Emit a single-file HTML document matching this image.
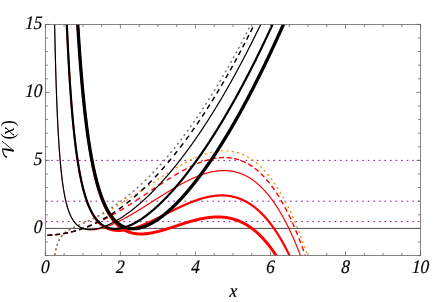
<!DOCTYPE html><html><head><meta charset="utf-8"><style>html,body{margin:0;padding:0;background:#fff}svg{display:block}text{font-family:"Liberation Serif",serif;font-style:italic;fill:#000}</style></head><body>
<svg width="445" height="302" viewBox="0 0 445 302">
<rect width="445" height="302" fill="#fff"/>
<defs><clipPath id="c"><rect x="45.35" y="24.40" width="375.25" height="231.20"/></clipPath></defs>
<g clip-path="url(#c)" fill="none">
<path d="M45.35 228.40H420.60" stroke="#000" stroke-width="0.7"/>
<path d="M45.60 221.60H420.60" stroke="#800080" stroke-width="0.9" stroke-dasharray="1.65 3.905"/>
<path d="M45.60 201.20H420.60" stroke="#800080" stroke-width="0.9" stroke-dasharray="1.65 3.905"/>
<path d="M45.60 160.40H420.60" stroke="#800080" stroke-width="0.9" stroke-dasharray="1.65 3.905"/>
<path d="M52.99 269.11 L53.02 268.78 L53.08 268.22M53.49 264.25 L53.49 264.19 L53.59 263.36M54.09 259.40 L54.09 259.40 L54.21 258.51M54.84 254.56 L54.87 254.39 L55.00 253.68M55.81 249.75 L55.84 249.64 L56.02 248.88M57.12 245.01 L57.15 244.92 L57.34 244.36 L57.41 244.16M58.96 240.44 L58.96 240.42 L59.15 240.05 L59.34 239.69 L59.37 239.64M61.57 236.24 L61.59 236.21 L61.78 235.97 L61.97 235.74 L62.14 235.54M65.07 232.69 L65.09 232.67 L65.28 232.52 L65.47 232.37 L65.65 232.23 L65.78 232.13M69.26 229.85 L69.28 229.84 L69.47 229.73 L69.66 229.62 L69.84 229.52 L70.03 229.41 L70.04 229.41M73.83 227.48 L73.85 227.48 L74.03 227.39 L74.22 227.30 L74.41 227.21 L74.60 227.12 L74.65 227.10M78.62 225.31 L78.63 225.30 L78.82 225.22 L79.01 225.14 L79.19 225.06 L79.38 224.97 L79.45 224.95M83.53 223.16 L83.54 223.16 L83.73 223.07 L83.91 222.99 L84.10 222.91 L84.29 222.83 L84.36 222.80M88.47 220.97 L88.48 220.96 L88.67 220.88 L88.86 220.79 L89.04 220.71 L89.23 220.62 L89.29 220.59M93.37 218.70 L93.39 218.69 L93.58 218.60 L93.76 218.51 L93.95 218.42 L94.14 218.33 L94.18 218.31M98.23 216.34 L98.24 216.33 L98.42 216.24 L98.61 216.14 L98.80 216.05 L98.99 215.96 L99.03 215.93M103.04 213.87 L103.05 213.87 L103.24 213.77 L103.43 213.67 L103.61 213.57 L103.80 213.47 L103.83 213.45M107.79 211.31 L107.80 211.31 L107.99 211.21 L108.18 211.10 L108.37 211.00 L108.55 210.90 L108.58 210.88M112.50 208.67 L112.52 208.65 L112.71 208.55 L112.90 208.44 L113.09 208.33 L113.27 208.22 L113.28 208.22M117.17 205.94 L117.18 205.93 L117.37 205.82 L117.56 205.70 L117.75 205.59 L117.93 205.48 L117.94 205.47M121.79 203.13 L121.81 203.12 L122.00 203.01 L122.19 202.89 L122.37 202.77 L122.56 202.66M126.38 200.27 L126.41 200.25 L126.59 200.13 L126.78 200.01 L126.97 199.89 L127.14 199.79M130.93 197.35 L130.94 197.35 L131.13 197.23 L131.32 197.10 L131.50 196.98 L131.68 196.86M135.46 194.40 L135.47 194.39 L135.66 194.26 L135.85 194.14 L136.04 194.01 L136.21 193.90M139.96 191.41 L139.98 191.40 L140.16 191.28 L140.35 191.15 L140.54 191.03 L140.71 190.91M144.46 188.40 L144.48 188.39 L144.67 188.26 L144.85 188.14 L145.04 188.01 L145.21 187.90M148.95 185.38 L148.95 185.38 L149.14 185.25 L149.33 185.13 L149.51 185.00 L149.70 184.88M153.44 182.37 L153.45 182.36 L153.64 182.23 L153.83 182.10 L154.02 181.98 L154.19 181.86M157.94 179.36 L157.96 179.35 L158.14 179.23 L158.33 179.10 L158.52 178.98 L158.69 178.86M162.46 176.38 L162.46 176.38 L162.65 176.26 L162.83 176.14 L163.02 176.02 L163.21 175.89 L163.21 175.89M167.00 173.44 L167.02 173.43 L167.21 173.31 L167.40 173.19 L167.59 173.07 L167.76 172.96M171.58 170.56 L171.59 170.56 L171.78 170.44 L171.96 170.33 L172.15 170.21 L172.34 170.10 L172.35 170.09M176.21 167.75 L176.22 167.75 L176.40 167.64 L176.59 167.53 L176.78 167.42 L176.97 167.31 L176.99 167.29M180.89 165.04 L180.91 165.03 L181.09 164.92 L181.28 164.82 L181.47 164.71 L181.66 164.61 L181.68 164.60M185.65 162.44 L185.66 162.43 L185.85 162.33 L186.03 162.23 L186.22 162.14 L186.41 162.04 L186.44 162.02M190.47 159.99 L190.50 159.97 L190.69 159.88 L190.88 159.79 L191.07 159.70 L191.26 159.61 L191.29 159.60M195.39 157.72 L195.41 157.71 L195.60 157.63 L195.79 157.55 L195.98 157.47 L196.16 157.39 L196.22 157.36M200.41 155.68 L200.42 155.67 L200.60 155.60 L200.79 155.53 L200.98 155.46 L201.17 155.39 L201.25 155.36M205.53 153.91 L205.54 153.90 L205.73 153.84 L205.92 153.79 L206.11 153.73 L206.29 153.67 L206.39 153.64M210.75 152.47 L210.77 152.47 L210.95 152.43 L211.14 152.38 L211.33 152.34 L211.52 152.30 L211.63 152.27M216.07 151.44 L216.08 151.44 L216.27 151.41 L216.46 151.39 L216.64 151.36 L216.83 151.33 L216.96 151.32M221.46 150.89 L221.49 150.89 L221.68 150.88 L221.87 150.87 L222.05 150.86 L222.24 150.85 L222.36 150.85M226.88 150.88 L226.90 150.88 L227.09 150.89 L227.27 150.90 L227.46 150.91 L227.65 150.92 L227.78 150.93M232.27 151.47 L232.28 151.47 L232.47 151.50 L232.65 151.53 L232.84 151.57 L233.03 151.60 L233.15 151.62M237.55 152.67 L237.56 152.68 L237.75 152.73 L237.94 152.79 L238.12 152.84 L238.31 152.90 L238.41 152.93M242.66 154.48 L242.69 154.50 L242.88 154.57 L243.06 154.65 L243.25 154.74 L243.44 154.82 L243.49 154.84M247.54 156.85 L247.57 156.86 L247.76 156.97 L247.94 157.07 L248.13 157.18 L248.32 157.29 L248.32 157.29M252.15 159.70 L252.16 159.71 L252.35 159.83 L252.54 159.96 L252.73 160.10 L252.89 160.21M256.49 162.95 L256.51 162.97 L256.70 163.12 L256.89 163.28 L257.07 163.44 L257.18 163.53M260.56 166.54 L260.57 166.56 L260.76 166.74 L260.95 166.92 L261.14 167.10 L261.20 167.17M264.37 170.41 L264.39 170.43 L264.58 170.63 L264.76 170.84 L264.95 171.04 L264.97 171.07M267.94 174.49 L267.95 174.50 L268.14 174.73 L268.33 174.96 L268.51 175.18M271.30 178.75 L271.33 178.79 L271.52 179.04 L271.71 179.29 L271.84 179.47M274.47 183.16 L274.49 183.18 L274.68 183.45 L274.86 183.73 L274.98 183.90M277.47 187.68 L277.49 187.72 L277.68 188.02 L277.87 188.31 L277.95 188.44M280.31 192.31 L280.34 192.36 L280.52 192.68 L280.71 193.00 L280.76 193.09M283.01 197.02 L283.02 197.05 L283.21 197.39 L283.40 197.73 L283.44 197.81M285.58 201.80 L285.59 201.82 L285.78 202.18 L285.96 202.54 L285.99 202.60M288.04 206.64 L288.06 206.69 L288.25 207.07 L288.43 207.45 L288.43 207.45M290.39 211.54 L290.40 211.56 L290.59 211.96 L290.77 212.35M292.65 216.48 L292.65 216.48 L292.84 216.90 L293.02 217.30M294.82 221.45 L294.84 221.50 L295.03 221.94 L295.18 222.28M296.92 226.46 L296.94 226.52 L297.13 226.98 L297.26 227.30M298.94 231.51 L298.94 231.51 L299.13 231.99 L299.27 232.35M300.89 236.58 L300.91 236.63 L301.10 237.13 L301.21 237.42M302.78 241.67 L302.79 241.69 L302.97 242.21 L303.09 242.52M304.61 246.78 L304.63 246.84 L304.82 247.38 L304.91 247.63M306.39 251.92 L306.41 252.00 L306.60 252.55 L306.67 252.77M308.11 257.07 L308.13 257.14 L308.32 257.71 L308.39 257.93M309.79 262.24 L309.79 262.24 L309.98 262.83 L310.06 263.10M311.42 267.42 L311.45 267.50 L311.63 268.10 L311.69 268.28" stroke="#ff8c00" stroke-width="1.35" stroke-linecap="round"/>
<path d="M47.36 235.18 L47.36 235.18 L47.55 235.18 L47.74 235.17 L47.93 235.17 L48.11 235.16 L48.30 235.16 L48.49 235.15 L48.68 235.15 L48.86 235.14 L49.05 235.13 L49.24 235.13 L49.43 235.12 L49.61 235.11 L49.80 235.10 L49.99 235.10 L50.18 235.09 L50.37 235.08 L50.55 235.07 L50.74 235.06 L50.93 235.05 L51.12 235.04 L51.30 235.03 L51.49 235.02 L51.68 235.01 L51.87 235.00 L52.05 234.98 L52.24 234.97 L52.38 234.96M55.17 234.74 L55.18 234.73 L55.37 234.72 L55.56 234.70 L55.74 234.68 L55.93 234.66 L56.12 234.64 L56.31 234.62 L56.49 234.60 L56.68 234.58 L56.87 234.56 L57.06 234.54 L57.24 234.52 L57.43 234.50 L57.62 234.47 L57.81 234.45 L57.99 234.43 L58.18 234.41 L58.37 234.38 L58.56 234.36 L58.74 234.34 L58.93 234.31 L59.12 234.29 L59.31 234.26 L59.50 234.24 L59.68 234.21 L59.87 234.19 L60.06 234.16 L60.16 234.14M63.09 233.69 L63.09 233.69 L63.28 233.66 L63.47 233.62 L63.65 233.59 L63.84 233.56 L64.03 233.52 L64.22 233.49 L64.40 233.46 L64.59 233.42 L64.78 233.39 L64.97 233.35 L65.15 233.32 L65.34 233.28 L65.53 233.25 L65.72 233.21 L65.91 233.17 L66.09 233.14 L66.28 233.10 L66.47 233.06 L66.66 233.02 L66.84 232.99 L67.03 232.95 L67.22 232.91 L67.41 232.87 L67.59 232.83 L67.78 232.79 L67.97 232.75 L68.03 232.74M71.08 232.04 L71.10 232.03 L71.28 231.99 L71.47 231.94 L71.66 231.89 L71.85 231.85 L72.03 231.80 L72.22 231.75 L72.41 231.70 L72.60 231.66 L72.78 231.61 L72.97 231.56 L73.16 231.51 L73.35 231.46 L73.53 231.41 L73.72 231.36 L73.91 231.31 L74.10 231.26 L74.28 231.21 L74.47 231.16 L74.66 231.11 L74.85 231.05 L75.04 231.00 L75.22 230.95 L75.41 230.90 L75.60 230.84 L75.79 230.79 L75.94 230.75M79.11 229.79 L79.13 229.79 L79.32 229.73 L79.51 229.67 L79.69 229.61 L79.88 229.55 L80.07 229.49 L80.26 229.43 L80.44 229.37 L80.63 229.30 L80.82 229.24 L81.01 229.18 L81.19 229.12 L81.38 229.06 L81.57 228.99 L81.76 228.93 L81.95 228.87 L82.13 228.80 L82.32 228.74 L82.51 228.67 L82.70 228.61 L82.88 228.54 L83.07 228.48 L83.26 228.41 L83.45 228.35 L83.63 228.28 L83.82 228.22 L83.88 228.20M87.14 226.99 L87.17 226.98 L87.35 226.91 L87.54 226.84 L87.73 226.77 L87.92 226.69 L88.10 226.62 L88.29 226.55 L88.48 226.47 L88.67 226.40 L88.86 226.33 L89.04 226.25 L89.23 226.18 L89.42 226.10 L89.61 226.03 L89.79 225.95 L89.98 225.88 L90.17 225.80 L90.36 225.72 L90.54 225.65 L90.73 225.57 L90.92 225.49 L91.11 225.42 L91.29 225.34 L91.48 225.26 L91.67 225.18 L91.82 225.12M95.22 223.65 L95.23 223.64 L95.42 223.56 L95.61 223.48 L95.80 223.39 L95.98 223.31 L96.17 223.22 L96.36 223.14 L96.55 223.05 L96.73 222.97 L96.92 222.88 L97.11 222.80 L97.30 222.71 L97.48 222.62 L97.67 222.54 L97.86 222.45 L98.05 222.36 L98.24 222.28 L98.42 222.19 L98.61 222.10 L98.80 222.01 L98.99 221.92 L99.17 221.83 L99.36 221.75 L99.55 221.66 L99.74 221.57 L99.80 221.54M103.34 219.80 L103.36 219.79 L103.55 219.70 L103.74 219.60 L103.93 219.51 L104.11 219.41 L104.30 219.32 L104.49 219.22 L104.68 219.12 L104.86 219.03 L105.05 218.93 L105.24 218.84 L105.43 218.74 L105.61 218.64 L105.80 218.55 L105.99 218.45 L106.18 218.35 L106.36 218.25 L106.55 218.16 L106.74 218.06 L106.93 217.96 L107.12 217.86 L107.30 217.76 L107.49 217.66 L107.68 217.56 L107.81 217.49M111.49 215.50 L111.49 215.50 L111.68 215.39 L111.87 215.29 L112.06 215.19 L112.24 215.08 L112.43 214.98 L112.62 214.87 L112.81 214.77 L112.99 214.66 L113.18 214.56 L113.37 214.45 L113.56 214.34 L113.74 214.24 L113.93 214.13 L114.12 214.03 L114.31 213.92 L114.49 213.81 L114.68 213.71 L114.87 213.60 L115.06 213.49 L115.24 213.38 L115.43 213.28 L115.62 213.17 L115.81 213.06 L115.87 213.02M119.69 210.79 L119.72 210.77 L119.90 210.66 L120.09 210.55 L120.28 210.43 L120.47 210.32 L120.65 210.21 L120.84 210.10 L121.03 209.98 L121.22 209.87 L121.40 209.76 L121.59 209.64 L121.78 209.53 L121.97 209.42 L122.15 209.30 L122.34 209.19 L122.53 209.08 L122.72 208.96 L122.91 208.85 L123.09 208.73 L123.28 208.62 L123.47 208.50 L123.66 208.39 L123.84 208.27 L123.97 208.20M127.84 205.79 L127.85 205.78 L128.03 205.67 L128.22 205.55 L128.41 205.43 L128.60 205.31 L128.78 205.19 L128.97 205.07 L129.16 204.95 L129.35 204.84 L129.53 204.72 L129.72 204.60 L129.91 204.48 L130.10 204.36 L130.28 204.24 L130.47 204.12 L130.66 204.00 L130.85 203.88 L131.03 203.76 L131.22 203.64 L131.41 203.52 L131.60 203.40 L131.79 203.28 L131.97 203.16 L132.05 203.11M135.82 200.67 L135.82 200.67 L136.01 200.54 L136.19 200.42 L136.38 200.30 L136.57 200.18 L136.76 200.05 L136.94 199.93 L137.13 199.81 L137.32 199.68 L137.51 199.56 L137.69 199.44 L137.88 199.31 L138.07 199.19 L138.26 199.07 L138.44 198.94 L138.63 198.82 L138.82 198.70 L139.01 198.57 L139.20 198.45 L139.38 198.33 L139.57 198.20 L139.76 198.08 L139.95 197.95 L139.98 197.93M143.66 195.49 L143.67 195.49 L143.85 195.36 L144.04 195.24 L144.23 195.11 L144.42 194.99 L144.60 194.86 L144.79 194.74 L144.98 194.61 L145.17 194.48 L145.35 194.36 L145.54 194.23 L145.73 194.11 L145.92 193.98 L146.11 193.86 L146.29 193.73 L146.48 193.61 L146.67 193.48 L146.86 193.36 L147.04 193.23 L147.23 193.11 L147.42 192.98 L147.61 192.86 L147.79 192.73 L147.81 192.72M151.40 190.32 L151.42 190.31 L151.61 190.18 L151.80 190.06 L151.98 189.93 L152.17 189.81 L152.36 189.68 L152.55 189.56 L152.73 189.43 L152.92 189.31 L153.11 189.18 L153.30 189.06 L153.48 188.93 L153.67 188.81 L153.86 188.68 L154.05 188.56 L154.23 188.43 L154.42 188.31 L154.61 188.18 L154.80 188.06 L154.99 187.93 L155.17 187.81 L155.36 187.68 L155.55 187.56 L155.55 187.56M159.09 185.22 L159.11 185.20 L159.30 185.08 L159.49 184.95 L159.68 184.83 L159.86 184.71 L160.05 184.58 L160.24 184.46 L160.43 184.34 L160.61 184.21 L160.80 184.09 L160.99 183.97 L161.18 183.84 L161.36 183.72 L161.55 183.60 L161.74 183.48 L161.93 183.35 L162.11 183.23 L162.30 183.11 L162.49 182.99 L162.68 182.87 L162.86 182.74 L163.05 182.62 L163.24 182.50 L163.26 182.49M166.76 180.24 L166.77 180.23 L166.96 180.11 L167.15 179.99 L167.34 179.87 L167.52 179.75 L167.71 179.63 L167.90 179.52 L168.09 179.40 L168.27 179.28 L168.46 179.16 L168.65 179.04 L168.84 178.92 L169.02 178.81 L169.21 178.69 L169.40 178.57 L169.59 178.45 L169.77 178.34 L169.96 178.22 L170.15 178.10 L170.34 177.98 L170.53 177.87 L170.71 177.75 L170.90 177.63 L170.98 177.58M174.46 175.46 L174.46 175.46 L174.65 175.34 L174.84 175.23 L175.03 175.12 L175.22 175.01 L175.40 174.89 L175.59 174.78 L175.78 174.67 L175.97 174.56 L176.15 174.45 L176.34 174.34 L176.53 174.22 L176.72 174.11 L176.90 174.00 L177.09 173.89 L177.28 173.78 L177.47 173.67 L177.65 173.56 L177.84 173.45 L178.03 173.35 L178.22 173.24 L178.40 173.13 L178.59 173.02 L178.75 172.93M182.16 171.00 L182.19 170.98 L182.38 170.88 L182.56 170.78 L182.75 170.67 L182.94 170.57 L183.13 170.47 L183.31 170.37 L183.50 170.26 L183.69 170.16 L183.88 170.06 L184.06 169.96 L184.25 169.86 L184.44 169.76 L184.63 169.66 L184.81 169.56 L185.00 169.46 L185.19 169.36 L185.38 169.26 L185.56 169.16 L185.75 169.06 L185.94 168.96 L186.13 168.86 L186.31 168.77 L186.50 168.67 L186.51 168.66M189.70 167.05 L189.72 167.04 L189.91 166.95 L190.10 166.86 L190.29 166.77 L190.47 166.68 L190.66 166.58 L190.85 166.49 L191.04 166.40 L191.22 166.31 L191.41 166.23 L191.60 166.14 L191.79 166.05 L191.97 165.96 L192.16 165.87 L192.35 165.78 L192.54 165.70 L192.72 165.61 L192.91 165.52 L193.10 165.44 L193.29 165.35 L193.48 165.27 L193.66 165.18 L193.85 165.10 L194.04 165.01 L194.16 164.96M197.08 163.70 L197.10 163.69 L197.29 163.61 L197.48 163.53 L197.66 163.46 L197.85 163.38 L198.04 163.30 L198.23 163.23 L198.42 163.15 L198.60 163.08 L198.79 163.00 L198.98 162.93 L199.17 162.85 L199.35 162.78 L199.54 162.71 L199.73 162.64 L199.92 162.56 L200.10 162.49 L200.29 162.42 L200.48 162.35 L200.67 162.28 L200.85 162.21 L201.04 162.14 L201.23 162.07 L201.42 162.00 L201.60 161.94 L201.67 161.91M204.32 161.00 L204.32 161.00 L204.51 160.94 L204.70 160.88 L204.89 160.82 L205.08 160.76 L205.26 160.70 L205.45 160.64 L205.64 160.58 L205.83 160.52 L206.01 160.47 L206.20 160.41 L206.39 160.35 L206.58 160.30 L206.76 160.24 L206.95 160.19 L207.14 160.13 L207.33 160.08 L207.51 160.03 L207.70 159.97 L207.89 159.92 L208.08 159.87 L208.26 159.82 L208.45 159.77 L208.64 159.72 L208.83 159.67 L209.01 159.62 L209.11 159.59M211.63 158.99 L211.64 158.98 L211.83 158.94 L212.02 158.90 L212.20 158.86 L212.39 158.82 L212.58 158.78 L212.77 158.74 L212.95 158.71 L213.14 158.67 L213.33 158.63 L213.52 158.60 L213.71 158.56 L213.89 158.53 L214.08 158.49 L214.27 158.46 L214.46 158.42 L214.64 158.39 L214.83 158.36 L215.02 158.33 L215.21 158.30 L215.39 158.27 L215.58 158.24 L215.77 158.21 L215.96 158.18 L216.14 158.15 L216.33 158.12 L216.52 158.10 L216.55 158.09M219.10 157.79 L219.11 157.79 L219.30 157.77 L219.49 157.75 L219.68 157.74 L219.86 157.72 L220.05 157.70 L220.24 157.69 L220.43 157.68 L220.62 157.66 L220.80 157.65 L220.99 157.64 L221.18 157.63 L221.37 157.62 L221.55 157.61 L221.74 157.60 L221.93 157.59 L222.12 157.58 L222.30 157.57 L222.49 157.57 L222.68 157.56 L222.87 157.55 L223.05 157.55 L223.24 157.55 L223.43 157.54 L223.62 157.54 L223.80 157.54 L223.99 157.54 L224.09 157.54M226.64 157.59 L226.65 157.59 L226.84 157.60 L227.02 157.61 L227.21 157.62 L227.40 157.64 L227.59 157.65 L227.78 157.66 L227.96 157.68 L228.15 157.69 L228.34 157.70 L228.53 157.72 L228.71 157.74 L228.90 157.75 L229.09 157.77 L229.28 157.79 L229.46 157.81 L229.65 157.83 L229.84 157.85 L230.03 157.88 L230.21 157.90 L230.40 157.92 L230.59 157.95 L230.78 157.97 L230.96 158.00 L231.15 158.02 L231.34 158.05 L231.53 158.08 L231.60 158.09M234.10 158.54 L234.12 158.55 L234.31 158.59 L234.50 158.63 L234.69 158.67 L234.87 158.71 L235.06 158.76 L235.25 158.80 L235.44 158.84 L235.62 158.89 L235.81 158.94 L236.00 158.98 L236.19 159.03 L236.37 159.08 L236.56 159.13 L236.75 159.18 L236.94 159.23 L237.12 159.29 L237.31 159.34 L237.50 159.39 L237.69 159.45 L237.87 159.50 L238.06 159.56 L238.25 159.62 L238.44 159.68 L238.62 159.73 L238.81 159.79 L238.92 159.83M241.29 160.67 L241.31 160.68 L241.50 160.75 L241.69 160.83 L241.88 160.90 L242.06 160.98 L242.25 161.05 L242.44 161.13 L242.63 161.21 L242.81 161.29 L243.00 161.37 L243.19 161.45 L243.38 161.53 L243.57 161.61 L243.75 161.70 L243.94 161.78 L244.13 161.87 L244.32 161.95 L244.50 162.04 L244.69 162.13 L244.88 162.22 L245.07 162.31 L245.25 162.40 L245.44 162.49 L245.63 162.59 L245.82 162.68 L245.90 162.72M248.17 163.95 L248.19 163.96 L248.38 164.06 L248.57 164.17 L248.76 164.28 L248.94 164.39 L249.13 164.50 L249.32 164.62 L249.51 164.73 L249.69 164.85 L249.88 164.96 L250.07 165.08 L250.26 165.19 L250.44 165.31 L250.63 165.43 L250.82 165.55 L251.01 165.68 L251.19 165.80 L251.38 165.92 L251.57 166.05 L251.76 166.17 L251.94 166.30 L252.13 166.43 L252.32 166.56 L252.44 166.64M254.70 168.28 L254.73 168.31 L254.92 168.45 L255.10 168.60 L255.29 168.74 L255.48 168.89 L255.67 169.04 L255.85 169.19 L256.04 169.34 L256.23 169.49 L256.42 169.64 L256.60 169.79 L256.79 169.95 L256.98 170.10 L257.17 170.26 L257.35 170.42 L257.54 170.58 L257.73 170.74 L257.92 170.90 L258.10 171.06 L258.29 171.23 L258.48 171.39 L258.59 171.49M260.79 173.52 L260.79 173.52 L260.98 173.70 L261.17 173.88 L261.36 174.06 L261.54 174.25 L261.73 174.43 L261.92 174.62 L262.11 174.81 L262.29 174.99 L262.48 175.18 L262.67 175.38 L262.86 175.57 L263.04 175.76 L263.23 175.96 L263.42 176.15 L263.61 176.35 L263.80 176.55 L263.98 176.75 L264.17 176.95 L264.32 177.11M266.43 179.46 L266.45 179.49 L266.64 179.70 L266.83 179.92 L267.02 180.14 L267.20 180.36 L267.39 180.58 L267.58 180.81 L267.77 181.03 L267.95 181.26 L268.14 181.48 L268.33 181.71 L268.52 181.94 L268.70 182.17 L268.89 182.40 L269.08 182.64 L269.27 182.87 L269.45 183.11 L269.63 183.32M271.61 185.91 L271.61 185.92 L271.80 186.17 L271.99 186.42 L272.17 186.68 L272.36 186.93 L272.55 187.19 L272.74 187.45 L272.93 187.71 L273.11 187.97 L273.30 188.24 L273.49 188.50 L273.68 188.77 L273.86 189.04 L274.05 189.30 L274.24 189.57 L274.43 189.85 L274.52 189.98M276.37 192.73 L276.40 192.78 L276.58 193.07 L276.77 193.36 L276.96 193.65 L277.15 193.94 L277.33 194.23 L277.52 194.53 L277.71 194.82 L277.90 195.12 L278.08 195.42 L278.27 195.72 L278.46 196.02 L278.65 196.32 L278.83 196.63 L279.02 196.93 L279.04 196.97M280.77 199.86 L280.77 199.86 L280.96 200.18 L281.15 200.50 L281.34 200.83 L281.52 201.15 L281.71 201.48 L281.90 201.81 L282.09 202.14 L282.27 202.47 L282.46 202.80 L282.65 203.14 L282.84 203.47 L283.02 203.81 L283.21 204.15 L283.24 204.21M284.87 207.21 L284.87 207.21 L285.06 207.57 L285.24 207.92 L285.43 208.28 L285.62 208.64 L285.81 209.00 L285.99 209.36 L286.18 209.72 L286.37 210.09 L286.56 210.46 L286.75 210.82 L286.93 211.19 L287.12 211.56 L287.17 211.66M288.70 214.76 L288.72 214.78 L288.90 215.17 L289.09 215.56 L289.28 215.95 L289.47 216.34 L289.65 216.73 L289.84 217.13 L290.03 217.52 L290.22 217.92 L290.40 218.32 L290.59 218.72 L290.78 219.12 L290.85 219.28M292.30 222.46 L292.31 222.48 L292.50 222.89 L292.69 223.31 L292.87 223.73 L293.06 224.16 L293.25 224.58 L293.44 225.01 L293.62 225.44 L293.81 225.87 L294.00 226.30 L294.19 226.73 L294.32 227.04M295.71 230.30 L295.72 230.33 L295.91 230.78 L296.09 231.23 L296.28 231.68 L296.47 232.14 L296.66 232.59 L296.84 233.05 L297.03 233.51 L297.22 233.97 L297.41 234.43 L297.59 234.90 L297.61 234.93M298.93 238.25 L298.94 238.28 L299.13 238.75 L299.31 239.23 L299.50 239.72 L299.69 240.20 L299.88 240.69 L300.07 241.18 L300.25 241.66 L300.44 242.16 L300.63 242.65 L300.73 242.92M302.00 246.30 L302.00 246.32 L302.19 246.83 L302.38 247.34 L302.57 247.85 L302.75 248.37 L302.94 248.88 L303.13 249.40 L303.32 249.92 L303.50 250.44 L303.69 250.96 L303.71 251.01M304.92 254.44 L304.94 254.50 L305.13 255.04 L305.32 255.58 L305.51 256.12 L305.69 256.66 L305.88 257.21 L306.07 257.76 L306.26 258.30 L306.44 258.86 L306.55 259.17M307.72 262.66 L307.73 262.67 L307.91 263.24 L308.10 263.81 L308.29 264.38 L308.48 264.95 L308.66 265.52 L308.85 266.10 L309.04 266.68 L309.23 267.26 L309.28 267.41" stroke="#ff0000" stroke-width="1.4"/>
<path d="M53.86 -16.23 L53.89 -14.30 L53.92 -12.39 L53.95 -10.50 L53.98 -8.63 L54.01 -6.79 L54.04 -4.96 L54.07 -3.15 L54.11 -1.36 L54.14 0.41 L54.17 2.16 L54.20 3.89 L54.23 5.60 L54.26 7.30 L54.29 8.98 L54.32 10.64 L54.36 12.28 L54.39 13.91 L54.42 15.52 L54.45 17.11 L54.48 18.69 L54.51 20.25 L54.54 21.79 L54.57 23.32 L54.61 24.83 L54.64 26.33 L54.67 27.81 L54.70 29.28 L54.73 30.74 L54.76 32.18 L54.79 33.60 L54.82 35.01 L54.86 36.41 L54.89 37.79 L54.92 39.16 L54.95 40.52 L54.98 41.86 L55.01 43.19 L55.04 44.50 L55.07 45.81 L55.11 47.10 L55.14 48.38 L55.17 49.65 L55.20 50.90 L55.23 52.14 L55.26 53.38 L55.29 54.60 L55.32 55.80 L55.35 57.00 L55.39 58.19 L55.42 59.36 L55.45 60.52 L55.48 61.68 L55.51 62.82 L55.54 63.95 L55.57 65.07 L55.60 66.18 L55.64 67.28 L55.67 68.38 L55.70 69.46 L55.73 70.53 L55.76 71.59 L55.79 72.64 L55.82 73.68 L55.85 74.72 L55.89 75.74 L55.92 76.76 L55.95 77.76 L55.98 78.76 L56.01 79.75 L56.04 80.73 L56.07 81.70 L56.10 82.66 L56.14 83.61 L56.17 84.56 L56.20 85.50 L56.23 86.43 L56.26 87.35 L56.29 88.26 L56.32 89.17 L56.35 90.07 L56.39 90.96 L56.42 91.84 L56.45 92.72 L56.48 93.58 L56.51 94.44 L56.54 95.30 L56.57 96.14 L56.60 96.98 L56.64 97.82 L56.67 98.64 L56.70 99.46 L56.73 100.27 L56.76 101.08 L56.79 101.87 L56.82 102.67 L56.85 103.45 L56.88 104.23 L56.92 105.00 L56.95 105.77 L56.98 106.53 L57.01 107.28 L57.04 108.03 L57.07 108.77 L57.10 109.51 L57.13 110.24 L57.17 110.96 L57.20 111.68 L57.23 112.40 L57.26 113.10 L57.29 113.80 L57.32 114.50 L57.35 115.19 L57.38 115.88 L57.42 116.56 L57.45 117.23 L57.48 117.90 L57.51 118.56 L57.54 119.22 L57.57 119.88 L57.60 120.53 L57.63 121.17 L57.67 121.81 L57.70 122.44 L57.73 123.07 L57.76 123.70 L57.79 124.32 L57.82 124.93 L57.85 125.54 L57.88 126.15 L57.92 126.75 L57.95 127.35 L57.98 127.94 L58.01 128.53 L58.04 129.11 L58.07 129.69 L58.10 130.26 L58.13 130.84 L58.17 131.40 L58.20 131.96 L58.23 132.52 L58.26 133.08 L58.29 133.63 L58.32 134.17 L58.35 134.71 L58.38 135.25 L58.42 135.79 L58.45 136.32 L58.48 136.84 L58.51 137.37 L58.54 137.89 L58.57 138.40 L58.60 138.91 L58.63 139.42 L58.66 139.93 L58.70 140.43 L58.73 140.92 L58.76 141.42 L58.79 141.91 L58.82 142.40 L58.85 142.88 L58.88 143.36 L58.91 143.84 L58.95 144.31 L58.98 144.78 L59.01 145.25 L59.04 145.71 L59.07 146.17 L59.10 146.63 L59.13 147.08 L59.16 147.53 L59.20 147.98 L59.23 148.43 L59.26 148.87 L59.29 149.31 L59.32 149.74 L59.35 150.18 L59.38 150.61 L59.41 151.03 L59.45 151.46 L59.48 151.88 L59.51 152.30 L59.54 152.71 L59.57 153.13 L59.60 153.54 L59.63 153.94 L59.66 154.35 L59.70 154.75 L59.73 155.15 L59.76 155.55 L59.79 155.94 L59.82 156.33 L59.85 156.72 L59.88 157.11 L59.91 157.49 L59.95 157.87 L59.98 158.25 L60.01 158.63 L60.04 159.00 L60.07 159.38 L60.10 159.74 L60.13 160.11 L60.16 160.48 L60.19 160.84 L60.23 161.20 L60.26 161.56 L60.29 161.91 L60.32 162.27 L60.35 162.62 L60.38 162.96 L60.41 163.31 L60.44 163.66 L60.48 164.00 L60.51 164.34 L60.54 164.68 L60.57 165.01 L60.60 165.34 L60.63 165.68 L60.66 166.01 L60.69 166.33 L60.73 166.66 L60.76 166.98 L60.79 167.30 L60.82 167.62 L60.85 167.94 L60.88 168.26 L60.91 168.57 L60.94 168.88 L60.98 169.19 L61.01 169.50 L61.04 169.80 L61.07 170.11 L61.10 170.41 L61.13 170.71 L61.16 171.01 L61.19 171.31 L61.23 171.60 L61.26 171.90 L61.29 172.19 L61.32 172.48 L61.35 172.76 L61.38 173.05 L61.41 173.34 L61.44 173.62 L61.48 173.90 L61.51 174.18 L61.54 174.46 L61.57 174.73 L61.60 175.01 L61.63 175.28 L61.66 175.55 L61.69 175.82 L61.73 176.09 L61.76 176.36 L61.79 176.62 L61.82 176.89 L61.85 177.15 L61.88 177.41 L61.91 177.67 L61.94 177.93 L61.97 178.18 L62.01 178.44 L62.04 178.69 L62.07 178.94 L62.10 179.19 L62.13 179.44 L62.16 179.69 L62.19 179.93 L62.22 180.18 L62.26 180.42 L62.29 180.66 L62.32 180.90 L62.35 181.14 L62.38 181.38 L62.41 181.62 L62.44 181.85 L62.47 182.09 L62.51 182.32 L62.54 182.55 L62.57 182.78 L62.60 183.01 L62.63 183.23 L62.66 183.46 L62.69 183.68 L62.72 183.91 L62.76 184.13 L62.79 184.35 L62.82 184.57 L62.85 184.79 L62.88 185.01 L62.91 185.22 L62.94 185.44 L62.97 185.65 L63.01 185.86 L63.04 186.08 L63.07 186.29 L63.10 186.50 L63.13 186.70 L63.16 186.91 L63.19 187.12 L63.22 187.32 L63.26 187.52 L63.29 187.73 L63.32 187.93 L63.35 188.13 L63.38 188.33 L63.41 188.53 L63.44 188.72 L63.47 188.92 L63.50 189.11 L63.54 189.31 L63.57 189.50 L63.60 189.69 L63.63 189.88 L63.66 190.07 L63.69 190.26 L63.72 190.45 L63.75 190.64 L63.79 190.82 L63.82 191.01 L63.85 191.19 L63.88 191.37 L63.91 191.56 L63.94 191.74 L63.97 191.92 L64.00 192.10 L64.04 192.28 L64.07 192.45 L64.10 192.63 L64.13 192.80 L64.16 192.98 L64.19 193.15 L64.22 193.33 L64.25 193.50 L64.29 193.67 L64.32 193.84 L64.35 194.01 L64.38 194.18 L64.41 194.34 L64.44 194.51 L64.47 194.68 L64.50 194.84 L64.54 195.00 L64.57 195.17 L64.60 195.33 L64.63 195.49 L64.66 195.65 L64.69 195.81 L64.72 195.97 L64.75 196.13 L64.79 196.29 L64.82 196.44 L64.85 196.60 L64.88 196.75 L64.91 196.91 L64.94 197.06 L64.97 197.22 L65.00 197.37 L65.03 197.52 L65.07 197.67 L65.10 197.82 L65.13 197.97 L65.16 198.12 L65.19 198.26 L65.22 198.41 L65.25 198.56 L65.28 198.70 L65.32 198.85 L65.35 198.99 L65.38 199.13 L65.41 199.28 L65.44 199.42 L65.47 199.56 L65.50 199.70 L65.53 199.84 L65.57 199.98 L65.60 200.12 L65.63 200.26 L65.66 200.39 L65.69 200.53 L65.72 200.66 L65.75 200.80 L65.78 200.93 L65.82 201.07 L65.85 201.20 L65.88 201.33 L65.91 201.47 L65.94 201.60 L65.97 201.73 L66.00 201.86 L66.03 201.99 L66.07 202.11 L66.10 202.24 L66.13 202.37 L66.16 202.50 L66.19 202.62 L66.22 202.75 L66.25 202.87 L66.28 203.00 L66.32 203.12 L66.35 203.25 L66.38 203.37 L66.41 203.49 L66.44 203.61 L66.47 203.73 L66.50 203.85 L66.53 203.97 L66.57 204.09 L66.60 204.21 L66.63 204.33 L66.66 204.45 L66.69 204.56 L66.72 204.68 L66.75 204.80 L66.78 204.91 L66.81 205.03 L66.85 205.14 L66.88 205.25 L66.91 205.37 L66.94 205.48 L66.97 205.59 L67.00 205.70 L67.03 205.82 L67.06 205.93 L67.10 206.04 L67.13 206.15 L67.16 206.25 L67.19 206.36 L67.22 206.47 L67.25 206.58 L67.28 206.69 L67.31 206.79 L67.35 206.90 L67.38 207.00 L67.41 207.11 L67.44 207.21 L67.47 207.32 L67.50 207.42 L67.53 207.52 L67.56 207.63 L67.60 207.73 L67.63 207.83 L67.66 207.93 L67.69 208.03 L67.72 208.13 L67.75 208.23 L67.78 208.33 L67.81 208.43 L67.85 208.53 L67.88 208.63 L67.91 208.73 L67.94 208.82 L67.97 208.92 L68.00 209.02 L68.03 209.11 L68.06 209.21 L68.10 209.30 L68.13 209.40 L68.16 209.49 L68.19 209.59 L68.22 209.68 L68.25 209.77 L68.28 209.87 L68.31 209.96 L68.34 210.05 L68.38 210.14 L68.41 210.23 L68.44 210.32 L68.47 210.41 L68.50 210.50 L68.53 210.59 L68.56 210.68 L68.59 210.77 L68.63 210.86 L68.66 210.95 L68.69 211.03 L68.72 211.12 L68.75 211.21 L68.78 211.29 L68.81 211.38 L68.84 211.46 L68.88 211.55 L68.91 211.63 L68.94 211.72 L68.97 211.80 L69.00 211.89 L69.03 211.97 L69.06 212.05 L69.09 212.13 L69.13 212.22 L69.16 212.30 L69.19 212.38 L69.22 212.46 L69.25 212.54 L69.28 212.62 L69.31 212.70 L69.34 212.78 L69.38 212.86 L69.41 212.94 L69.44 213.02 L69.47 213.10 L69.50 213.17 L69.53 213.25 L69.56 213.33 L69.59 213.41 L69.63 213.48 L69.66 213.56 L69.69 213.63 L69.72 213.71 L69.75 213.79 L69.78 213.86 L69.81 213.93 L69.84 214.01 L69.88 214.08 L69.91 214.16 L69.94 214.23 L69.97 214.30 L70.00 214.38 L70.03 214.45 L70.06 214.52 L70.09 214.59 L70.12 214.66 L70.16 214.73 L70.19 214.81 L70.22 214.88 L70.25 214.95 L70.28 215.02 L70.31 215.09 L70.34 215.16 L70.37 215.22 L70.41 215.29 L70.44 215.36 L70.47 215.43 L70.50 215.50 L70.53 215.57 L70.56 215.63 L70.59 215.70 L70.62 215.77 L70.66 215.83 L70.69 215.90 L70.72 215.97 L70.75 216.03 L70.78 216.10 L70.81 216.16 L70.84 216.23 L70.87 216.29 L70.91 216.35 L70.94 216.42 L70.97 216.48 L71.00 216.55 L71.03 216.61 L71.06 216.67 L71.09 216.73 L71.12 216.80 L71.16 216.86 L71.19 216.92 L71.22 216.98 L71.25 217.04 L71.28 217.10 L71.31 217.17 L71.34 217.23 L71.37 217.29 L71.41 217.35 L71.44 217.41 L71.47 217.47 L71.50 217.53 L71.53 217.58 L71.56 217.64 L71.59 217.70 L71.62 217.76 L71.65 217.82 L71.69 217.88 L71.72 217.93 L71.75 217.99 L71.78 218.05 L71.81 218.10 L71.84 218.16 L71.87 218.22 L71.90 218.27 L71.94 218.33 L71.97 218.39 L72.00 218.44 L72.03 218.50 L72.06 218.55 L72.09 218.61 L72.12 218.66 L72.15 218.71 L72.19 218.77 L72.22 218.82 L72.25 218.88 L72.28 218.93 L72.31 218.98 L72.34 219.04 L72.37 219.09 L72.40 219.14 L72.44 219.19 L72.47 219.25 L72.50 219.30 L72.53 219.35 L72.56 219.40 L72.59 219.45 L72.62 219.50 L72.65 219.55 L72.69 219.60 L72.72 219.65 L72.75 219.70 L72.78 219.75 L72.81 219.80 L72.84 219.85 L72.87 219.90 L72.90 219.95 L72.94 220.00 L72.97 220.05 L73.00 220.10 L73.03 220.15 L73.06 220.20 L73.09 220.24 L73.12 220.29 L73.15 220.34 L73.18 220.39 L73.22 220.43 L73.25 220.48 L73.28 220.53 L73.31 220.57 L73.34 220.62 L73.37 220.67 L73.40 220.71 L73.43 220.76 L73.47 220.80 L73.50 220.85 L73.53 220.89 L73.56 220.94 L73.59 220.98 L73.62 221.03 L73.65 221.07 L73.68 221.12 L73.72 221.16 L73.75 221.21 L73.78 221.25 L73.81 221.29 L73.84 221.34 L73.87 221.38 L73.90 221.42 L73.93 221.47 L73.97 221.51 L74.00 221.55 L74.03 221.59 L74.06 221.64 L74.09 221.68 L74.12 221.72 L74.15 221.76 L74.18 221.80 L74.22 221.84 L74.25 221.89 L74.28 221.93 L74.31 221.97 L74.34 222.01 L74.37 222.05 L74.40 222.09 L74.43 222.13 L74.47 222.17 L74.50 222.21 L74.53 222.25 L74.56 222.29 L74.59 222.33 L74.62 222.37 L74.65 222.41 L74.68 222.44 L74.72 222.48 L74.75 222.52 L74.78 222.56 L74.81 222.60 L74.84 222.64 L74.87 222.67 L74.90 222.71 L74.93 222.75 L74.96 222.79 L75.00 222.82 L75.03 222.86 L75.06 222.90 L75.09 222.93 L75.12 222.97 L75.15 223.01 L75.18 223.04 L75.21 223.08 L75.25 223.12 L75.28 223.15 L75.31 223.19 L75.34 223.22 L75.37 223.26 L75.40 223.29 L75.43 223.33 L75.46 223.36 L75.50 223.40 L75.53 223.43 L75.56 223.47 L75.59 223.50 L75.62 223.54 L75.65 223.57 L75.68 223.61 L75.71 223.64 L75.75 223.67 L75.78 223.71 L75.81 223.74 L75.84 223.77 L75.87 223.81 L75.90 223.84 L75.93 223.87 L75.96 223.91 L76.00 223.94 L76.03 223.97 L76.06 224.00 L76.09 224.04 L76.12 224.07 L76.15 224.10 L76.18 224.13 L76.21 224.16 L76.25 224.20 L76.28 224.23 L76.31 224.26 L76.34 224.29 L76.37 224.32 L76.40 224.35 L76.43 224.38 L76.46 224.41 L76.49 224.44 L76.53 224.47 L76.56 224.50 L76.59 224.53 L76.62 224.56 L76.65 224.59 L76.68 224.62 L76.71 224.65 L76.74 224.68 L76.78 224.71 L76.81 224.74 L76.84 224.77 L76.87 224.80 L76.90 224.83 L76.93 224.86 L76.96 224.89 L76.99 224.91 L77.03 224.94 L77.06 224.97 L77.09 225.00 L77.12 225.03 L77.15 225.06 L77.18 225.08 L77.21 225.11 L77.24 225.14 L77.28 225.17 L77.31 225.19 L77.34 225.22 L77.37 225.25 L77.40 225.27 L77.43 225.30 L77.46 225.33 L77.49 225.36 L77.53 225.38 L77.56 225.41 L77.59 225.43 L77.62 225.46 L77.65 225.49 L77.68 225.51 L77.71 225.54 L77.74 225.56 L77.78 225.59 L77.81 225.62 L77.84 225.64 L77.87 225.67 L77.90 225.69 L77.93 225.72 L77.96 225.74 L77.99 225.77 L78.02 225.79 L78.06 225.82 L78.09 225.84 L78.12 225.87 L78.15 225.89 L78.18 225.91 L78.21 225.94 L78.24 225.96 L78.27 225.99 L78.31 226.01 L78.34 226.03 L78.37 226.06 L78.40 226.08 L78.43 226.10 L78.46 226.13 L78.49 226.15 L78.52 226.17 L78.56 226.20 L78.59 226.22 L78.62 226.24 L78.65 226.27 L78.68 226.29 L78.71 226.31 L78.74 226.33 L78.77 226.36 L78.81 226.38 L78.84 226.40 L78.87 226.42 L78.90 226.44 L78.93 226.47 L78.96 226.49 L78.99 226.51 L79.02 226.53 L79.06 226.55 L79.09 226.57 L79.12 226.60 L79.15 226.62 L79.18 226.64 L79.21 226.66 L79.24 226.68 L79.27 226.70 L79.31 226.72 L79.34 226.74 L79.37 226.76 L79.40 226.78 L79.43 226.80 L79.46 226.82 L79.49 226.84 L79.52 226.86 L79.56 226.88 L79.59 226.90 L79.62 226.92 L79.65 226.94 L79.68 226.96 L79.71 226.98 L79.74 227.00 L79.77 227.02 L79.80 227.04 L79.84 227.06 L79.87 227.08 L79.90 227.10 L79.93 227.12 L79.96 227.14 L79.99 227.15 L80.02 227.17 L80.05 227.19 L80.09 227.21 L80.12 227.23 L80.15 227.25 L80.18 227.26 L80.21 227.28 L80.24 227.30 L80.27 227.32 L80.30 227.34 L80.34 227.35 L80.37 227.37 L80.40 227.39 L80.43 227.41 L80.46 227.43 L80.49 227.44 L80.52 227.46 L80.55 227.48 L80.59 227.49 L80.62 227.51 L80.65 227.53 L80.68 227.55 L80.71 227.56 L80.74 227.58 L80.77 227.60 L80.80 227.61 L80.84 227.63 L80.87 227.65 L80.90 227.66 L80.93 227.68 L80.96 227.69 L80.99 227.71 L81.02 227.73 L81.05 227.74 L81.09 227.76 L81.12 227.77 L81.15 227.79 L81.18 227.81 L81.21 227.82 L81.24 227.84 L81.27 227.85 L81.30 227.87 L81.33 227.88 L81.37 227.90 L81.40 227.91 L81.43 227.93 L81.46 227.94 L81.49 227.96 L81.52 227.97 L81.55 227.99 L81.58 228.00 L81.62 228.02 L81.65 228.03 L81.68 228.05 L81.71 228.06 L81.74 228.07 L81.77 228.09 L81.80 228.10 L81.83 228.12 L81.87 228.13 L81.90 228.14 L81.93 228.16 L81.96 228.17 L81.99 228.19 L82.02 228.20 L82.05 228.21 L82.08 228.23 L82.12 228.24 L82.15 228.25 L82.18 228.27 L82.21 228.28 L82.24 228.29 L82.27 228.31 L82.30 228.32 L82.33 228.33 L82.37 228.35 L82.40 228.36 L82.43 228.37 L82.46 228.38 L82.49 228.40 L82.52 228.41 L82.55 228.42 L82.58 228.43 L82.62 228.45 L82.65 228.46 L82.68 228.47 L82.71 228.48 L82.74 228.50 L82.77 228.51 L82.80 228.52 L82.83 228.53 L82.87 228.54 L82.90 228.56 L82.93 228.57 L82.96 228.58 L82.99 228.59 L83.02 228.60 L83.05 228.61 L83.08 228.62 L83.11 228.64 L83.15 228.65 L83.18 228.66 L83.21 228.67 L83.24 228.68 L83.27 228.69 L83.30 228.70 L83.33 228.71 L83.36 228.72 L83.40 228.74 L83.43 228.75 L83.46 228.76 L83.49 228.77 L83.52 228.78 L83.55 228.79 L83.58 228.80 L83.61 228.81 L83.65 228.82 L83.68 228.83 L83.71 228.84 L83.74 228.85 L83.77 228.86 L83.80 228.87 L83.83 228.88 L83.86 228.89 L83.90 228.90 L83.93 228.91 L83.96 228.92 L83.99 228.93 L84.02 228.94 L84.05 228.95 L84.08 228.96 L84.11 228.97 L84.15 228.98 L84.18 228.99 L84.21 228.99 L84.24 229.00 L84.27 229.01 L84.30 229.02 L84.33 229.03 L84.36 229.04 L84.40 229.05 L84.43 229.06 L84.46 229.07 L84.49 229.08 L84.52 229.08 L84.55 229.09 L84.58 229.10 L84.61 229.11 L84.64 229.12 L84.68 229.13 L84.71 229.13 L84.74 229.14 L84.77 229.15 L84.80 229.16 L84.83 229.17 L84.86 229.18 L84.89 229.18 L84.93 229.19 L84.96 229.20 L84.99 229.21 L85.02 229.22 L85.05 229.22 L85.08 229.23 L85.11 229.24 L85.14 229.25 L85.18 229.25 L85.21 229.26 L85.24 229.27 L85.27 229.28 L85.30 229.28 L85.33 229.29 L85.36 229.30 L85.39 229.30 L85.43 229.31 L85.46 229.32 L85.49 229.33 L85.52 229.33 L85.55 229.34 L85.58 229.35 L85.61 229.35 L85.64 229.36 L85.68 229.37 L85.71 229.37 L85.74 229.38 L85.77 229.39 L85.80 229.39 L85.83 229.40 L85.86 229.41 L85.89 229.41 L85.93 229.42 L85.96 229.43 L85.99 229.43 L86.02 229.44 L86.05 229.44 L86.08 229.45 L86.11 229.46 L86.14 229.46 L86.17 229.47 L86.21 229.47 L86.24 229.48 L86.27 229.49 L86.30 229.49 L86.33 229.50 L86.36 229.50 L86.39 229.51 L86.42 229.51 L86.46 229.52 L86.49 229.52 L86.52 229.53 L86.55 229.54 L86.58 229.54 L86.61 229.55 L86.64 229.55 L86.67 229.56 L86.71 229.56 L86.74 229.57 L86.77 229.57 L86.80 229.58 L86.83 229.58 L86.86 229.59 L86.89 229.59 L86.92 229.60 L86.96 229.60 L86.99 229.61 L87.02 229.61 L87.05 229.61 L87.08 229.62 L87.11 229.62 L87.14 229.63 L87.17 229.63 L87.21 229.64 L87.24 229.64 L87.27 229.65 L87.30 229.65 L87.33 229.65 L87.36 229.66 L87.39 229.66 L87.42 229.67 L87.46 229.67 L87.49 229.67 L87.52 229.68 L87.55 229.68 L87.58 229.69 L87.61 229.69 L87.64 229.69 L87.67 229.70 L87.71 229.70 L87.74 229.70 L87.77 229.71 L87.80 229.71 L87.83 229.72 L87.86 229.72 L87.89 229.72 L87.92 229.73 L87.95 229.73 L87.99 229.73 L88.02 229.74 L88.05 229.74 L88.08 229.74 L88.11 229.75 L88.14 229.75 L88.17 229.75 L88.20 229.75 L88.24 229.76 L88.27 229.76 L88.30 229.76 L88.33 229.77 L88.36 229.77 L88.39 229.77 L88.42 229.77 L88.45 229.78 L88.49 229.78 L88.52 229.78 L88.55 229.78 L88.58 229.79 L88.61 229.79 L88.64 229.79 L88.67 229.79 L88.70 229.80 L88.74 229.80 L88.77 229.80 L88.80 229.80 L88.83 229.81 L88.86 229.81 L88.89 229.81 L88.92 229.81 L88.95 229.81 L88.99 229.82 L89.02 229.82 L89.05 229.82 L89.08 229.82 L89.11 229.82 L89.14 229.83 L89.17 229.83 L89.20 229.83 L89.24 229.83 L89.27 229.83 L89.30 229.84 L89.33 229.84 L89.36 229.84 L89.39 229.84 L89.42 229.84 L89.45 229.84 L89.48 229.84 L89.52 229.85 L89.55 229.85 L89.58 229.85 L89.61 229.85 L89.64 229.85 L89.67 229.85 L89.70 229.85 L89.73 229.85 L89.77 229.86 L89.80 229.86 L89.83 229.86 L89.86 229.86 L89.89 229.86 L89.92 229.86 L89.95 229.86 L89.98 229.86 L90.02 229.86 L90.05 229.86 L90.08 229.86 L90.11 229.86 L90.14 229.87 L90.17 229.87 L90.20 229.87 L90.23 229.87 L90.27 229.87 L90.30 229.87 L90.33 229.87 L90.36 229.87 L90.39 229.87 L90.42 229.87 L90.45 229.87 L90.48 229.87 L90.52 229.87 L90.55 229.87 L90.58 229.87 L90.61 229.87 L90.64 229.87 L90.67 229.87 L90.70 229.87 L90.73 229.87 L90.77 229.87 L90.80 229.87 L90.83 229.87 L90.86 229.87 L90.89 229.87 L90.92 229.87 L90.95 229.87 L90.98 229.87 L91.02 229.87 L91.05 229.87 L91.08 229.87 L91.11 229.87 L91.14 229.87 L91.17 229.87 L91.20 229.87 L91.23 229.87 L91.26 229.87 L91.30 229.87 L91.33 229.86 L91.36 229.86 L91.39 229.86 L91.42 229.86 L91.45 229.86 L91.48 229.86 L91.51 229.86 L91.55 229.86 L91.58 229.86 L91.61 229.86 L91.64 229.86 L91.67 229.86 L91.70 229.85 L91.73 229.85 L91.76 229.85 L91.80 229.85 L91.83 229.85 L91.86 229.85 L91.89 229.85 L91.92 229.85 L91.95 229.85 L91.98 229.84 L92.01 229.84 L92.05 229.84 L92.08 229.84 L92.11 229.84 L92.14 229.84 L92.17 229.84 L92.20 229.83 L92.23 229.83 L92.26 229.83" stroke="#ff0000" stroke-width="0.7"/><path d="M92.26 229.83 L92.48 229.82 L92.69 229.81 L92.91 229.79 L93.13 229.77 L93.35 229.76 L93.57 229.74 L93.79 229.72 L94.01 229.69 L94.23 229.67 L94.45 229.65 L94.66 229.62 L94.88 229.59 L95.10 229.57 L95.32 229.54 L95.54 229.50 L95.76 229.47 L95.98 229.44 L96.20 229.40 L96.42 229.37 L96.63 229.33 L96.85 229.29 L97.07 229.25 L97.29 229.21 L97.51 229.17 L97.73 229.13 L97.95 229.09 L98.17 229.04 L98.39 229.00 L98.61 228.95 L98.82 228.90 L99.04 228.85 L99.26 228.80 L99.48 228.75 L99.70 228.70 L99.92 228.65 L100.14 228.59 L100.36 228.54 L100.58 228.48 L100.79 228.43 L101.01 228.37 L101.23 228.31 L101.45 228.25 L101.67 228.19 L101.89 228.13 L102.11 228.07 L102.33 228.01 L102.55 227.94 L102.77 227.88 L102.98 227.81 L103.20 227.75 L103.42 227.68 L103.64 227.61 L103.86 227.55 L104.08 227.48 L104.30 227.41 L104.52 227.34 L104.74 227.26 L104.95 227.19 L105.17 227.12 L105.39 227.05 L105.61 226.97 L105.83 226.90 L106.05 226.82 L106.27 226.74 L106.49 226.67 L106.71 226.59 L106.92 226.51 L107.14 226.43 L107.36 226.35 L107.58 226.27 L107.80 226.19 L108.02 226.11 L108.24 226.02 L108.46 225.94 L108.68 225.86 L108.90 225.77 L109.11 225.69 L109.33 225.60 L109.55 225.51 L109.77 225.43 L109.99 225.34 L110.21 225.25 L110.43 225.16 L110.65 225.07 L110.87 224.98 L111.08 224.89 L111.30 224.80 L111.52 224.71 L111.74 224.62 L111.96 224.52 L112.18 224.43 L112.40 224.33 L112.62 224.24 L112.84 224.15 L113.05 224.05 L113.27 223.95 L113.49 223.86 L113.71 223.76 L113.93 223.66 L114.15 223.56 L114.37 223.46 L114.59 223.37 L114.81 223.27 L115.03 223.17 L115.24 223.06 L115.46 222.96 L115.68 222.86 L115.90 222.76 L116.12 222.66 L116.34 222.55 L116.56 222.45 L116.78 222.35 L117.00 222.24 L117.21 222.14 L117.43 222.03 L117.65 221.93 L117.87 221.82 L118.09 221.71 L118.31 221.61 L118.53 221.50 L118.75 221.39 L118.97 221.28 L119.18 221.17 L119.40 221.06 L119.62 220.95 L119.84 220.84 L120.06 220.73 L120.28 220.62 L120.50 220.51 L120.72 220.40 L120.94 220.29 L121.16 220.18 L121.37 220.06 L121.59 219.95 L121.81 219.84 L122.03 219.72 L122.25 219.61 L122.47 219.49 L122.69 219.38 L122.91 219.26 L123.13 219.15 L123.34 219.03 L123.56 218.91 L123.78 218.80 L124.00 218.68 L124.22 218.56 L124.44 218.44 L124.66 218.33 L124.88 218.21 L125.10 218.09 L125.32 217.97 L125.53 217.85 L125.75 217.73 L125.97 217.61 L126.19 217.49 L126.41 217.37 L126.63 217.25 L126.85 217.13 L127.07 217.01 L127.29 216.88 L127.50 216.76 L127.72 216.64 L127.94 216.52 L128.16 216.39 L128.38 216.27 L128.60 216.15 L128.82 216.02 L129.04 215.90 L129.26 215.77 L129.47 215.65 L129.69 215.52 L129.91 215.40 L130.13 215.27 L130.35 215.15 L130.57 215.02 L130.79 214.89 L131.01 214.77 L131.23 214.64 L131.45 214.51 L131.66 214.39 L131.88 214.26 L132.10 214.13 L132.32 214.00 L132.54 213.87 L132.76 213.75 L132.98 213.62 L133.20 213.49 L133.42 213.36 L133.63 213.23 L133.85 213.10 L134.07 212.97 L134.29 212.84 L134.51 212.71 L134.73 212.58 L134.95 212.45 L135.17 212.32 L135.39 212.19 L135.60 212.05 L135.82 211.92 L136.04 211.79 L136.26 211.66 L136.48 211.53 L136.70 211.40 L136.92 211.26 L137.14 211.13 L137.36 211.00 L137.58 210.86 L137.79 210.73 L138.01 210.60 L138.23 210.46 L138.45 210.33 L138.67 210.20 L138.89 210.06 L139.11 209.93 L139.33 209.79 L139.55 209.66 L139.76 209.53 L139.98 209.39 L140.20 209.26 L140.42 209.12 L140.64 208.99 L140.86 208.85 L141.08 208.71 L141.30 208.58 L141.52 208.44 L141.73 208.31 L141.95 208.17 L142.17 208.04 L142.39 207.90 L142.61 207.76 L142.83 207.63 L143.05 207.49 L143.27 207.35 L143.49 207.22 L143.71 207.08 L143.92 206.94 L144.14 206.81 L144.36 206.67 L144.58 206.53 L144.80 206.39 L145.02 206.26 L145.24 206.12 L145.46 205.98 L145.68 205.84 L145.89 205.71 L146.11 205.57 L146.33 205.43 L146.55 205.29 L146.77 205.15 L146.99 205.01 L147.21 204.88 L147.43 204.74 L147.65 204.60 L147.87 204.46 L148.08 204.32 L148.30 204.18 L148.52 204.05 L148.74 203.91 L148.96 203.77 L149.18 203.63 L149.40 203.49 L149.62 203.35 L149.84 203.21 L150.05 203.07 L150.27 202.93 L150.49 202.80 L150.71 202.66 L150.93 202.52 L151.15 202.38 L151.37 202.24 L151.59 202.10 L151.81 201.96 L152.02 201.82 L152.24 201.68 L152.46 201.54 L152.68 201.40 L152.90 201.26 L153.12 201.12 L153.34 200.99 L153.56 200.85 L153.78 200.71 L154.00 200.57 L154.21 200.43 L154.43 200.29 L154.65 200.15 L154.87 200.01 L155.09 199.87 L155.31 199.73 L155.53 199.59 L155.75 199.45 L155.97 199.31 L156.18 199.18 L156.40 199.04 L156.62 198.90 L156.84 198.76 L157.06 198.62 L157.28 198.48 L157.50 198.34 L157.72 198.20 L157.94 198.06 L158.15 197.93 L158.37 197.79 L158.59 197.65 L158.81 197.51 L159.03 197.37 L159.25 197.23 L159.47 197.09 L159.69 196.96 L159.91 196.82 L160.13 196.68 L160.34 196.54 L160.56 196.40 L160.78 196.27 L161.00 196.13 L161.22 195.99 L161.44 195.85 L161.66 195.71 L161.88 195.58 L162.10 195.44 L162.31 195.30 L162.53 195.16 L162.75 195.03 L162.97 194.89 L163.19 194.75 L163.41 194.62 L163.63 194.48 L163.85 194.34 L164.07 194.21 L164.28 194.07 L164.50 193.93 L164.72 193.80 L164.94 193.66 L165.16 193.53 L165.38 193.39 L165.60 193.26 L165.82 193.12 L166.04 192.98 L166.26 192.85 L166.47 192.71 L166.69 192.58 L166.91 192.45 L167.13 192.31 L167.35 192.18 L167.57 192.04 L167.79 191.91 L168.01 191.77 L168.23 191.64 L168.44 191.51 L168.66 191.37 L168.88 191.24 L169.10 191.11 L169.32 190.97 L169.54 190.84 L169.76 190.71 L169.98 190.58 L170.20 190.44 L170.42 190.31 L170.63 190.18 L170.85 190.05 L171.07 189.92 L171.29 189.79 L171.51 189.65 L171.73 189.52 L171.95 189.39 L172.17 189.26 L172.39 189.13 L172.60 189.00 L172.82 188.87 L173.04 188.74 L173.26 188.61 L173.48 188.48 L173.70 188.36 L173.92 188.23 L174.14 188.10 L174.36 187.97 L174.57 187.84 L174.79 187.71 L175.01 187.59 L175.23 187.46 L175.45 187.33 L175.67 187.21 L175.89 187.08 L176.11 186.95 L176.33 186.83 L176.55 186.70 L176.76 186.58 L176.98 186.45 L177.20 186.33 L177.42 186.20 L177.64 186.08 L177.86 185.95 L178.08 185.83 L178.30 185.71 L178.52 185.58 L178.73 185.46 L178.95 185.34 L179.17 185.22 L179.39 185.09 L179.61 184.97 L179.83 184.85 L180.05 184.73 L180.27 184.61 L180.49 184.49 L180.70 184.37 L180.92 184.25 L181.14 184.13 L181.36 184.01 L181.58 183.89 L181.80 183.77 L182.02 183.65 L182.24 183.54 L182.46 183.42 L182.68 183.30 L182.89 183.18 L183.11 183.07 L183.33 182.95 L183.55 182.83 L183.77 182.72 L183.99 182.60 L184.21 182.49 L184.43 182.37 L184.65 182.26 L184.86 182.15 L185.08 182.03 L185.30 181.92 L185.52 181.81 L185.74 181.70 L185.96 181.58 L186.18 181.47 L186.40 181.36 L186.62 181.25 L186.84 181.14 L187.05 181.03 L187.27 180.92 L187.49 180.81 L187.71 180.70 L187.93 180.59 L188.15 180.49 L188.37 180.38 L188.59 180.27 L188.81 180.17 L189.02 180.06 L189.24 179.95 L189.46 179.85 L189.68 179.74 L189.90 179.64 L190.12 179.53 L190.34 179.43 L190.56 179.33 L190.78 179.22 L190.99 179.12 L191.21 179.02 L191.43 178.92 L191.65 178.82 L191.87 178.72 L192.09 178.62 L192.31 178.52 L192.53 178.42 L192.75 178.32 L192.97 178.22 L193.18 178.12 L193.40 178.03 L193.62 177.93 L193.84 177.83 L194.06 177.74 L194.28 177.64 L194.50 177.55 L194.72 177.45 L194.94 177.36 L195.15 177.26 L195.37 177.17 L195.59 177.08 L195.81 176.99 L196.03 176.90 L196.25 176.81 L196.47 176.71 L196.69 176.62 L196.91 176.54 L197.12 176.45 L197.34 176.36 L197.56 176.27 L197.78 176.18 L198.00 176.10 L198.22 176.01 L198.44 175.93 L198.66 175.84 L198.88 175.76 L199.10 175.67 L199.31 175.59 L199.53 175.51 L199.75 175.42 L199.97 175.34 L200.19 175.26 L200.41 175.18 L200.63 175.10 L200.85 175.02 L201.07 174.94 L201.28 174.86 L201.50 174.79 L201.72 174.71 L201.94 174.63 L202.16 174.56 L202.38 174.48 L202.60 174.41 L202.82 174.33 L203.04 174.26 L203.25 174.19 L203.47 174.11 L203.69 174.04 L203.91 173.97 L204.13 173.90 L204.35 173.83 L204.57 173.76 L204.79 173.69 L205.01 173.63 L205.23 173.56 L205.44 173.49 L205.66 173.43 L205.88 173.36 L206.10 173.30 L206.32 173.23 L206.54 173.17 L206.76 173.11 L206.98 173.05 L207.20 172.99 L207.41 172.92 L207.63 172.86 L207.85 172.81 L208.07 172.75 L208.29 172.69 L208.51 172.63 L208.73 172.58 L208.95 172.52 L209.17 172.46 L209.39 172.41 L209.60 172.36 L209.82 172.30 L210.04 172.25 L210.26 172.20 L210.48 172.15 L210.70 172.10 L210.92 172.05 L211.14 172.00 L211.36 171.95 L211.57 171.91 L211.79 171.86 L212.01 171.81 L212.23 171.77 L212.45 171.72 L212.67 171.68 L212.89 171.64 L213.11 171.60 L213.33 171.55 L213.54 171.51 L213.76 171.47 L213.98 171.44 L214.20 171.40 L214.42 171.36 L214.64 171.32 L214.86 171.29 L215.08 171.25 L215.30 171.22 L215.52 171.19 L215.73 171.15 L215.95 171.12 L216.17 171.09 L216.39 171.06 L216.61 171.03 L216.83 171.00 L217.05 170.97 L217.27 170.95 L217.49 170.92 L217.70 170.90 L217.92 170.87 L218.14 170.85 L218.36 170.82 L218.58 170.80 L218.80 170.78 L219.02 170.76 L219.24 170.74 L219.46 170.72 L219.67 170.71 L219.89 170.69 L220.11 170.67 L220.33 170.66 L220.55 170.64 L220.77 170.63 L220.99 170.62 L221.21 170.61 L221.43 170.60 L221.65 170.59 L221.86 170.58 L222.08 170.57 L222.30 170.56 L222.52 170.56 L222.74 170.55 L222.96 170.55 L223.18 170.54 L223.40 170.54 L223.62 170.54 L223.83 170.54 L224.05 170.54 L224.27 170.54 L224.49 170.54 L224.71 170.54 L224.93 170.55 L225.15 170.55 L225.37 170.56 L225.59 170.56 L225.80 170.57 L226.02 170.58 L226.24 170.59 L226.46 170.60 L226.68 170.61 L226.90 170.63 L227.12 170.64 L227.34 170.65 L227.56 170.67 L227.78 170.69 L227.99 170.70 L228.21 170.72 L228.43 170.74 L228.65 170.76 L228.87 170.78 L229.09 170.81 L229.31 170.83 L229.53 170.85 L229.75 170.88 L229.96 170.91 L230.18 170.93 L230.40 170.96 L230.62 170.99 L230.84 171.02 L231.06 171.05 L231.28 171.09 L231.50 171.12 L231.72 171.16 L231.94 171.19 L232.15 171.23 L232.37 171.27 L232.59 171.31 L232.81 171.35 L233.03 171.39 L233.25 171.43 L233.47 171.47 L233.69 171.52 L233.91 171.56 L234.12 171.61 L234.34 171.66 L234.56 171.71 L234.78 171.76 L235.00 171.81 L235.22 171.86 L235.44 171.92 L235.66 171.97 L235.88 172.03 L236.09 172.08 L236.31 172.14 L236.53 172.20 L236.75 172.26 L236.97 172.32 L237.19 172.38 L237.41 172.45 L237.63 172.51 L237.85 172.58 L238.07 172.64 L238.28 172.71 L238.50 172.78 L238.72 172.85 L238.94 172.93 L239.16 173.00 L239.38 173.07 L239.60 173.15 L239.82 173.22 L240.04 173.30 L240.25 173.38 L240.47 173.46 L240.69 173.54 L240.91 173.63 L241.13 173.71 L241.35 173.79 L241.57 173.88 L241.79 173.97 L242.01 174.06 L242.22 174.15 L242.44 174.24 L242.66 174.33 L242.88 174.42 L243.10 174.52 L243.32 174.62 L243.54 174.71 L243.76 174.81 L243.98 174.91 L244.20 175.01 L244.41 175.12 L244.63 175.22 L244.85 175.32 L245.07 175.43 L245.29 175.54 L245.51 175.65 L245.73 175.76 L245.95 175.87 L246.17 175.98 L246.38 176.10 L246.60 176.21 L246.82 176.33 L247.04 176.45 L247.26 176.57 L247.48 176.69 L247.70 176.81 L247.92 176.93 L248.14 177.06 L248.35 177.19 L248.57 177.31 L248.79 177.44 L249.01 177.57 L249.23 177.70 L249.45 177.84 L249.67 177.97 L249.89 178.11 L250.11 178.24 L250.33 178.38 L250.54 178.52 L250.76 178.66 L250.98 178.81 L251.20 178.95 L251.42 179.10 L251.64 179.24 L251.86 179.39 L252.08 179.54 L252.30 179.69 L252.51 179.85 L252.73 180.00 L252.95 180.16 L253.17 180.31 L253.39 180.47 L253.61 180.63 L253.83 180.79 L254.05 180.95 L254.27 181.12 L254.49 181.28 L254.70 181.45 L254.92 181.62 L255.14 181.79 L255.36 181.96 L255.58 182.14 L255.80 182.31 L256.02 182.49 L256.24 182.66 L256.46 182.84 L256.67 183.02 L256.89 183.21 L257.11 183.39 L257.33 183.57 L257.55 183.76 L257.77 183.95 L257.99 184.14 L258.21 184.33 L258.43 184.52 L258.64 184.72 L258.86 184.91 L259.08 185.11 L259.30 185.31 L259.52 185.51 L259.74 185.71 L259.96 185.92 L260.18 186.12 L260.40 186.33 L260.62 186.54 L260.83 186.75 L261.05 186.96 L261.27 187.17 L261.49 187.39 L261.71 187.60 L261.93 187.82 L262.15 188.04 L262.37 188.26 L262.59 188.48 L262.80 188.71 L263.02 188.93 L263.24 189.16 L263.46 189.39 L263.68 189.62 L263.90 189.86 L264.12 190.09 L264.34 190.33 L264.56 190.56 L264.77 190.80 L264.99 191.04 L265.21 191.29 L265.43 191.53 L265.65 191.78 L265.87 192.03 L266.09 192.27 L266.31 192.53 L266.53 192.78 L266.75 193.03 L266.96 193.29 L267.18 193.55 L267.40 193.81 L267.62 194.07 L267.84 194.33 L268.06 194.60 L268.28 194.86 L268.50 195.13 L268.72 195.40 L268.93 195.67 L269.15 195.95 L269.37 196.22 L269.59 196.50 L269.81 196.78 L270.03 197.06 L270.25 197.34 L270.47 197.63 L270.69 197.91 L270.91 198.20 L271.12 198.49 L271.34 198.78 L271.56 199.08 L271.78 199.37 L272.00 199.67 L272.22 199.97 L272.44 200.27 L272.66 200.57 L272.88 200.87 L273.09 201.18 L273.31 201.49 L273.53 201.80 L273.75 202.11 L273.97 202.42 L274.19 202.74 L274.41 203.05 L274.63 203.37 L274.85 203.69 L275.06 204.02 L275.28 204.34 L275.50 204.67 L275.72 205.00 L275.94 205.33 L276.16 205.66 L276.38 205.99 L276.60 206.33 L276.82 206.67 L277.04 207.01 L277.25 207.35 L277.47 207.69 L277.69 208.04 L277.91 208.39 L278.13 208.74 L278.35 209.09 L278.57 209.44 L278.79 209.80 L279.01 210.16 L279.22 210.51 L279.44 210.88 L279.66 211.24 L279.88 211.60 L280.10 211.97 L280.32 212.34 L280.54 212.71 L280.76 213.09 L280.98 213.46 L281.19 213.84 L281.41 214.22 L281.63 214.60 L281.85 214.98 L282.07 215.37 L282.29 215.76 L282.51 216.15 L282.73 216.54 L282.95 216.93 L283.17 217.33 L283.38 217.73 L283.60 218.13 L283.82 218.53 L284.04 218.93 L284.26 219.34 L284.48 219.75 L284.70 220.16 L284.92 220.57 L285.14 220.98 L285.35 221.40 L285.57 221.82 L285.79 222.24 L286.01 222.66 L286.23 223.09 L286.45 223.51 L286.67 223.94 L286.89 224.37 L287.11 224.81 L287.32 225.24 L287.54 225.68 L287.76 226.12 L287.98 226.56 L288.20 227.01 L288.42 227.46 L288.64 227.90 L288.86 228.36 L289.08 228.81 L289.30 229.26 L289.51 229.72 L289.73 230.18 L289.95 230.64 L290.17 231.11 L290.39 231.57 L290.61 232.04 L290.83 232.51 L291.05 232.99 L291.27 233.46 L291.48 233.94 L291.70 234.42 L291.92 234.90 L292.14 235.39 L292.36 235.87 L292.58 236.36 L292.80 236.85 L293.02 237.35 L293.24 237.84 L293.46 238.34 L293.67 238.84 L293.89 239.34 L294.11 239.85 L294.33 240.35 L294.55 240.86 L294.77 241.38 L294.99 241.89 L295.21 242.41 L295.43 242.93 L295.64 243.45 L295.86 243.97 L296.08 244.50 L296.30 245.02 L296.52 245.55 L296.74 246.09 L296.96 246.62 L297.18 247.16 L297.40 247.70 L297.61 248.24 L297.83 248.79 L298.05 249.34 L298.27 249.89 L298.49 250.44 L298.71 250.99 L298.93 251.55 L299.15 252.11 L299.37 252.67 L299.59 253.23 L299.80 253.80 L300.02 254.37 L300.24 254.94 L300.46 255.52 L300.68 256.09 L300.90 256.67 L301.12 257.25 L301.34 257.84 L301.56 258.42 L301.77 259.01 L301.99 259.60 L302.21 260.20 L302.43 260.79 L302.65 261.39 L302.87 261.99 L303.09 262.60 L303.31 263.21 L303.53 263.81 L303.74 264.43 L303.96 265.04 L304.18 265.66 L304.40 266.28 L304.62 266.90 L304.84 267.52 L305.06 268.15 L305.28 268.78 L305.50 269.41 L305.72 270.04 L305.93 270.68 L306.15 271.32 L306.37 271.96 L306.59 272.61 L306.81 273.26 L307.03 273.91 L307.25 274.56 L307.47 275.22 L307.69 275.87 L307.90 276.53 L308.12 277.20 L308.34 277.86 L308.56 278.53 L308.78 279.20 L309.00 279.88 L309.22 280.55 L309.44 281.23 L309.66 281.92 L309.87 282.60 L309.93 282.77" stroke="#ff0000" stroke-width="1.2"/>
<path d="M65.25 -16.18 L65.28 -15.27 L65.31 -14.37 L65.34 -13.48 L65.37 -12.59 L65.40 -11.70 L65.43 -10.82 L65.46 -9.94 L65.50 -9.07 L65.53 -8.20 L65.56 -7.33 L65.59 -6.47 L65.62 -5.61 L65.65 -4.76 L65.68 -3.91 L65.71 -3.07 L65.75 -2.22 L65.78 -1.39 L65.81 -0.55 L65.84 0.28 L65.87 1.10 L65.90 1.93 L65.93 2.75 L65.96 3.56 L66.00 4.37 L66.03 5.18 L66.06 5.98 L66.09 6.78 L66.12 7.58 L66.15 8.37 L66.18 9.16 L66.21 9.95 L66.24 10.73 L66.28 11.51 L66.31 12.28 L66.34 13.05 L66.37 13.82 L66.40 14.59 L66.43 15.35 L66.46 16.11 L66.49 16.86 L66.53 17.61 L66.56 18.36 L66.59 19.10 L66.62 19.85 L66.65 20.58 L66.68 21.32 L66.71 22.05 L66.74 22.78 L66.78 23.50 L66.81 24.22 L66.84 24.94 L66.87 25.66 L66.90 26.37 L66.93 27.08 L66.96 27.78 L66.99 28.49 L67.03 29.19 L67.06 29.88 L67.09 30.58 L67.12 31.27 L67.15 31.96 L67.18 32.64 L67.21 33.32 L67.24 34.00 L67.28 34.68 L67.31 35.35 L67.34 36.02 L67.37 36.69 L67.40 37.35 L67.43 38.01 L67.46 38.67 L67.49 39.33 L67.53 39.98 L67.56 40.63 L67.59 41.28 L67.62 41.92 L67.65 42.56 L67.68 43.20 L67.71 43.84 L67.74 44.47 L67.78 45.10 L67.81 45.73 L67.84 46.36 L67.87 46.98 L67.90 47.60 L67.93 48.22 L67.96 48.83 L67.99 49.45 L68.02 50.06 L68.06 50.66 L68.09 51.27 L68.12 51.87 L68.15 52.47 L68.18 53.07 L68.21 53.66 L68.24 54.26 L68.27 54.85 L68.31 55.43 L68.34 56.02 L68.37 56.60 L68.40 57.18 L68.43 57.76 L68.46 58.33 L68.49 58.91 L68.52 59.48 L68.56 60.05 L68.59 60.61 L68.62 61.18 L68.65 61.74 L68.68 62.30 L68.71 62.86 L68.74 63.41 L68.77 63.96 L68.81 64.51 L68.84 65.06 L68.87 65.61 L68.90 66.15 L68.93 66.69 L68.96 67.23 L68.99 67.77 L69.02 68.30 L69.06 68.84 L69.09 69.37 L69.12 69.89 L69.15 70.42 L69.18 70.95 L69.21 71.47 L69.24 71.99 L69.27 72.51 L69.31 73.02 L69.34 73.54 L69.37 74.05 L69.40 74.56 L69.43 75.06 L69.46 75.57 L69.49 76.07 L69.52 76.58 L69.55 77.08 L69.59 77.57 L69.62 78.07 L69.65 78.56 L69.68 79.06 L69.71 79.55 L69.74 80.03 L69.77 80.52 L69.80 81.00 L69.84 81.49 L69.87 81.97 L69.90 82.45 L69.93 82.92 L69.96 83.40 L69.99 83.87 L70.02 84.34 L70.05 84.81 L70.09 85.28 L70.12 85.75 L70.15 86.21 L70.18 86.67 L70.21 87.13 L70.24 87.59 L70.27 88.05 L70.30 88.50 L70.34 88.96 L70.37 89.41 L70.40 89.86 L70.43 90.31 L70.46 90.75 L70.49 91.20 L70.52 91.64 L70.55 92.08 L70.59 92.52 L70.62 92.96 L70.65 93.40 L70.68 93.83 L70.71 94.27 L70.74 94.70 L70.77 95.13 L70.80 95.56 L70.84 95.98 L70.87 96.41 L70.90 96.83 L70.93 97.26 L70.96 97.68 L70.99 98.09 L71.02 98.51 L71.05 98.93 L71.09 99.34 L71.12 99.75 L71.15 100.17 L71.18 100.58 L71.21 100.98 L71.24 101.39 L71.27 101.79 L71.30 102.20 L71.33 102.60 L71.37 103.00 L71.40 103.40 L71.43 103.80 L71.46 104.19 L71.49 104.59 L71.52 104.98 L71.55 105.37 L71.58 105.76 L71.62 106.15 L71.65 106.54 L71.68 106.93 L71.71 107.31 L71.74 107.69 L71.77 108.08 L71.80 108.46 L71.83 108.84 L71.87 109.21 L71.90 109.59 L71.93 109.97 L71.96 110.34 L71.99 110.71 L72.02 111.08 L72.05 111.45 L72.08 111.82 L72.12 112.19 L72.15 112.55 L72.18 112.92 L72.21 113.28 L72.24 113.64 L72.27 114.00 L72.30 114.36 L72.33 114.72 L72.37 115.08 L72.40 115.43 L72.43 115.79 L72.46 116.14 L72.49 116.49 L72.52 116.84 L72.55 117.19 L72.58 117.54 L72.62 117.88 L72.65 118.23 L72.68 118.57 L72.71 118.92 L72.74 119.26 L72.77 119.60 L72.80 119.94 L72.83 120.28 L72.86 120.61 L72.90 120.95 L72.93 121.28 L72.96 121.62 L72.99 121.95 L73.02 122.28 L73.05 122.61 L73.08 122.94 L73.11 123.27 L73.15 123.59 L73.18 123.92 L73.21 124.24 L73.24 124.57 L73.27 124.89 L73.30 125.21 L73.33 125.53 L73.36 125.85 L73.40 126.17 L73.43 126.48 L73.46 126.80 L73.49 127.11 L73.52 127.43 L73.55 127.74 L73.58 128.05 L73.61 128.36 L73.65 128.67 L73.68 128.98 L73.71 129.28 L73.74 129.59 L73.77 129.89 L73.80 130.20 L73.83 130.50 L73.86 130.80 L73.90 131.10 L73.93 131.40 L73.96 131.70 L73.99 132.00 L74.02 132.29 L74.05 132.59 L74.08 132.88 L74.11 133.18 L74.15 133.47 L74.18 133.76 L74.21 134.05 L74.24 134.34 L74.27 134.63 L74.30 134.92 L74.33 135.21 L74.36 135.49 L74.39 135.78 L74.43 136.06 L74.46 136.34 L74.49 136.62 L74.52 136.91 L74.55 137.19 L74.58 137.47 L74.61 137.74 L74.64 138.02 L74.68 138.30 L74.71 138.57 L74.74 138.85 L74.77 139.12 L74.80 139.39 L74.83 139.67 L74.86 139.94 L74.89 140.21 L74.93 140.48 L74.96 140.74 L74.99 141.01 L75.02 141.28 L75.05 141.54 L75.08 141.81 L75.11 142.07 L75.14 142.33 L75.18 142.60 L75.21 142.86 L75.24 143.12 L75.27 143.38 L75.30 143.64 L75.33 143.89 L75.36 144.15 L75.39 144.41 L75.43 144.66 L75.46 144.92 L75.49 145.17 L75.52 145.42 L75.55 145.68 L75.58 145.93 L75.61 146.18 L75.64 146.43 L75.68 146.68 L75.71 146.92 L75.74 147.17 L75.77 147.42 L75.80 147.66 L75.83 147.91 L75.86 148.15 L75.89 148.40 L75.93 148.64 L75.96 148.88 L75.99 149.12 L76.02 149.36 L76.05 149.60 L76.08 149.84 L76.11 150.08 L76.14 150.31 L76.17 150.55 L76.21 150.79 L76.24 151.02 L76.27 151.26 L76.30 151.49 L76.33 151.72 L76.36 151.95 L76.39 152.18 L76.42 152.42 L76.46 152.64 L76.49 152.87 L76.52 153.10 L76.55 153.33 L76.58 153.56 L76.61 153.78 L76.64 154.01 L76.67 154.23 L76.71 154.46 L76.74 154.68 L76.77 154.90 L76.80 155.12 L76.83 155.35 L76.86 155.57 L76.89 155.79 L76.92 156.00 L76.96 156.22 L76.99 156.44 L77.02 156.66 L77.05 156.87 L77.08 157.09 L77.11 157.30 L77.14 157.52 L77.17 157.73 L77.21 157.95 L77.24 158.16 L77.27 158.37 L77.30 158.58 L77.33 158.79 L77.36 159.00 L77.39 159.21 L77.42 159.42 L77.46 159.63 L77.49 159.83 L77.52 160.04 L77.55 160.25 L77.58 160.45 L77.61 160.66 L77.64 160.86 L77.67 161.06 L77.70 161.27 L77.74 161.47 L77.77 161.67 L77.80 161.87 L77.83 162.07 L77.86 162.27 L77.89 162.47 L77.92 162.67 L77.95 162.87 L77.99 163.06 L78.02 163.26 L78.05 163.46 L78.08 163.65 L78.11 163.85 L78.14 164.04 L78.17 164.23 L78.20 164.43 L78.24 164.62 L78.27 164.81 L78.30 165.00 L78.33 165.19 L78.36 165.38 L78.39 165.57 L78.42 165.76 L78.45 165.95 L78.49 166.14 L78.52 166.33 L78.55 166.51 L78.58 166.70 L78.61 166.88 L78.64 167.07 L78.67 167.25 L78.70 167.44 L78.74 167.62 L78.77 167.80 L78.80 167.99 L78.83 168.17 L78.86 168.35 L78.89 168.53 L78.92 168.71 L78.95 168.89 L78.99 169.07 L79.02 169.25 L79.05 169.43 L79.08 169.60 L79.11 169.78 L79.14 169.96 L79.17 170.13 L79.20 170.31 L79.24 170.48 L79.27 170.66 L79.30 170.83 L79.33 171.00 L79.36 171.18 L79.39 171.35 L79.42 171.52 L79.45 171.69 L79.48 171.86 L79.52 172.03 L79.55 172.20 L79.58 172.37 L79.61 172.54 L79.64 172.71 L79.67 172.88 L79.70 173.04 L79.73 173.21 L79.77 173.38 L79.80 173.54 L79.83 173.71 L79.86 173.87 L79.89 174.04 L79.92 174.20 L79.95 174.36 L79.98 174.53 L80.02 174.69 L80.05 174.85 L80.08 175.01 L80.11 175.17 L80.14 175.33 L80.17 175.49 L80.20 175.65 L80.23 175.81 L80.27 175.97 L80.30 176.13 L80.33 176.29 L80.36 176.45 L80.39 176.60 L80.42 176.76 L80.45 176.91 L80.48 177.07 L80.52 177.23 L80.55 177.38 L80.58 177.53 L80.61 177.69 L80.64 177.84 L80.67 177.99 L80.70 178.15 L80.73 178.30 L80.77 178.45 L80.80 178.60 L80.83 178.75 L80.86 178.90 L80.89 179.05 L80.92 179.20 L80.95 179.35 L80.98 179.50 L81.01 179.65 L81.05 179.79 L81.08 179.94 L81.11 180.09 L81.14 180.23 L81.17 180.38 L81.20 180.53 L81.23 180.67 L81.26 180.82 L81.30 180.96 L81.33 181.10 L81.36 181.25 L81.39 181.39 L81.42 181.53 L81.45 181.68 L81.48 181.82 L81.51 181.96 L81.55 182.10 L81.58 182.24 L81.61 182.38 L81.64 182.52 L81.67 182.66 L81.70 182.80 L81.73 182.94 L81.76 183.08 L81.80 183.21 L81.83 183.35 L81.86 183.49 L81.89 183.63 L81.92 183.76 L81.95 183.90 L81.98 184.03 L82.01 184.17 L82.05 184.30 L82.08 184.44 L82.11 184.57 L82.14 184.71 L82.17 184.84 L82.20 184.97 L82.23 185.10 L82.26 185.24 L82.30 185.37 L82.33 185.50 L82.36 185.63 L82.39 185.76 L82.42 185.89 L82.45 186.02 L82.48 186.15 L82.51 186.28 L82.54 186.41 L82.58 186.54 L82.61 186.67 L82.64 186.79 L82.67 186.92 L82.70 187.05 L82.73 187.18 L82.76 187.30 L82.79 187.43 L82.83 187.55 L82.86 187.68 L82.89 187.80 L82.92 187.93 L82.95 188.05 L82.98 188.18 L83.01 188.30 L83.04 188.42 L83.08 188.55 L83.11 188.67 L83.14 188.79 L83.17 188.91 L83.20 189.04 L83.23 189.16 L83.26 189.28 L83.29 189.40 L83.33 189.52 L83.36 189.64 L83.39 189.76 L83.42 189.88 L83.45 190.00 L83.48 190.11 L83.51 190.23 L83.54 190.35 L83.58 190.47 L83.61 190.59 L83.64 190.70 L83.67 190.82 L83.70 190.94 L83.73 191.05 L83.76 191.17 L83.79 191.28 L83.83 191.40 L83.86 191.51 L83.89 191.63 L83.92 191.74 L83.95 191.86 L83.98 191.97 L84.01 192.08 L84.04 192.19 L84.08 192.31 L84.11 192.42 L84.14 192.53 L84.17 192.64 L84.20 192.75 L84.23 192.87 L84.26 192.98 L84.29 193.09 L84.32 193.20 L84.36 193.31 L84.39 193.42 L84.42 193.53 L84.45 193.63 L84.48 193.74 L84.51 193.85 L84.54 193.96 L84.57 194.07 L84.61 194.18 L84.64 194.28 L84.67 194.39 L84.70 194.50 L84.73 194.60 L84.76 194.71 L84.79 194.81 L84.82 194.92 L84.86 195.03 L84.89 195.13 L84.92 195.23 L84.95 195.34 L84.98 195.44 L85.01 195.55 L85.04 195.65 L85.07 195.75 L85.11 195.86 L85.14 195.96 L85.17 196.06 L85.20 196.16 L85.23 196.27 L85.26 196.37 L85.29 196.47 L85.32 196.57 L85.36 196.67 L85.39 196.77 L85.42 196.87 L85.45 196.97 L85.48 197.07 L85.51 197.17 L85.54 197.27 L85.57 197.37 L85.61 197.47 L85.64 197.56 L85.67 197.66 L85.70 197.76 L85.73 197.86 L85.76 197.96 L85.79 198.05 L85.82 198.15 L85.85 198.25 L85.89 198.34 L85.92 198.44 L85.95 198.53 L85.98 198.63 L86.01 198.72 L86.04 198.82 L86.07 198.91 L86.10 199.01 L86.14 199.10 L86.17 199.20 L86.20 199.29 L86.23 199.38 L86.26 199.48 L86.29 199.57 L86.32 199.66 L86.35 199.76 L86.39 199.85 L86.42 199.94 L86.45 200.03 L86.48 200.12 L86.51 200.21 L86.54 200.31 L86.57 200.40 L86.60 200.49 L86.64 200.58 L86.67 200.67 L86.70 200.76 L86.73 200.85 L86.76 200.94 L86.79 201.03 L86.82 201.11 L86.85 201.20 L86.89 201.29 L86.92 201.38 L86.95 201.47 L86.98 201.56 L87.01 201.64 L87.04 201.73 L87.07 201.82 L87.10 201.90 L87.14 201.99 L87.17 202.08 L87.20 202.16 L87.23 202.25 L87.26 202.33 L87.29 202.42 L87.32 202.50 L87.35 202.59 L87.38 202.67 L87.42 202.76 L87.45 202.84 L87.48 202.93 L87.51 203.01 L87.54 203.09 L87.57 203.18 L87.60 203.26 L87.63 203.34 L87.67 203.43 L87.70 203.51 L87.73 203.59 L87.76 203.67 L87.79 203.76 L87.82 203.84 L87.85 203.92 L87.88 204.00 L87.92 204.08 L87.95 204.16 L87.98 204.24 L88.01 204.32 L88.04 204.40 L88.07 204.48 L88.10 204.56 L88.13 204.64 L88.17 204.72 L88.20 204.80 L88.23 204.88 L88.26 204.96 L88.29 205.04 L88.32 205.12 L88.35 205.19 L88.38 205.27 L88.42 205.35 L88.45 205.43 L88.48 205.50 L88.51 205.58 L88.54 205.66 L88.57 205.74 L88.60 205.81 L88.63 205.89 L88.67 205.96 L88.70 206.04 L88.73 206.12 L88.76 206.19 L88.79 206.27 L88.82 206.34 L88.85 206.42 L88.88 206.49 L88.92 206.57 L88.95 206.64 L88.98 206.71 L89.01 206.79 L89.04 206.86 L89.07 206.94 L89.10 207.01 L89.13 207.08 L89.16 207.16 L89.20 207.23 L89.23 207.30 L89.26 207.37 L89.29 207.45 L89.32 207.52 L89.35 207.59 L89.38 207.66 L89.41 207.73 L89.45 207.80 L89.48 207.87 L89.51 207.95 L89.54 208.02 L89.57 208.09 L89.60 208.16 L89.63 208.23 L89.66 208.30 L89.70 208.37 L89.73 208.44 L89.76 208.51 L89.79 208.58 L89.82 208.64 L89.85 208.71 L89.88 208.78 L89.91 208.85 L89.95 208.92 L89.98 208.99 L90.01 209.06 L90.04 209.12 L90.07 209.19 L90.10 209.26 L90.13 209.33 L90.16 209.39 L90.20 209.46 L90.23 209.53 L90.26 209.59 L90.29 209.66 L90.32 209.73 L90.35 209.79 L90.38 209.86 L90.41 209.92 L90.45 209.99 L90.48 210.06 L90.51 210.12 L90.54 210.19 L90.57 210.25 L90.60 210.32 L90.63 210.38 L90.66 210.44 L90.69 210.51 L90.73 210.57 L90.76 210.64 L90.79 210.70 L90.82 210.76 L90.85 210.83 L90.88 210.89 L90.91 210.95 L90.94 211.02 L90.98 211.08 L91.01 211.14 L91.04 211.20 L91.07 211.27 L91.10 211.33 L91.13 211.39 L91.16 211.45 L91.19 211.51 L91.23 211.58 L91.26 211.64 L91.29 211.70 L91.32 211.76 L91.35 211.82 L91.38 211.88 L91.41 211.94 L91.44 212.00 L91.48 212.06 L91.51 212.12 L91.54 212.18 L91.57 212.24 L91.60 212.30 L91.63 212.36 L91.66 212.42 L91.69 212.48 L91.73 212.54 L91.76 212.60 L91.79 212.66 L91.82 212.71 L91.85 212.77 L91.88 212.83 L91.91 212.89 L91.94 212.95 L91.98 213.00 L92.01 213.06 L92.04 213.12 L92.07 213.18 L92.10 213.23 L92.13 213.29 L92.16 213.35 L92.19 213.40 L92.23 213.46 L92.26 213.52 L92.26 213.52" stroke="#ff0000" stroke-width="1.7000000000000002"/><path d="M92.26 213.52 L92.48 213.91 L92.69 214.29 L92.91 214.67 L93.13 215.04 L93.35 215.41 L93.57 215.76 L93.79 216.11 L94.01 216.46 L94.23 216.80 L94.45 217.13 L94.66 217.46 L94.88 217.78 L95.10 218.09 L95.32 218.40 L95.54 218.70 L95.76 219.00 L95.98 219.29 L96.20 219.58 L96.42 219.86 L96.63 220.14 L96.85 220.41 L97.07 220.67 L97.29 220.93 L97.51 221.19 L97.73 221.44 L97.95 221.69 L98.17 221.93 L98.39 222.17 L98.61 222.40 L98.82 222.63 L99.04 222.85 L99.26 223.07 L99.48 223.29 L99.70 223.50 L99.92 223.71 L100.14 223.91 L100.36 224.11 L100.58 224.30 L100.79 224.49 L101.01 224.68 L101.23 224.86 L101.45 225.04 L101.67 225.22 L101.89 225.39 L102.11 225.56 L102.33 225.73 L102.55 225.89 L102.77 226.05 L102.98 226.20 L103.20 226.36 L103.42 226.50 L103.64 226.65 L103.86 226.79 L104.08 226.93 L104.30 227.07 L104.52 227.20 L104.74 227.33 L104.95 227.46 L105.17 227.58 L105.39 227.70 L105.61 227.82 L105.83 227.94 L106.05 228.05 L106.27 228.16 L106.49 228.27 L106.71 228.37 L106.92 228.47 L107.14 228.57 L107.36 228.67 L107.58 228.77 L107.80 228.86 L108.02 228.95 L108.24 229.03 L108.46 229.12 L108.68 229.20 L108.90 229.28 L109.11 229.36 L109.33 229.43 L109.55 229.51 L109.77 229.58 L109.99 229.65 L110.21 229.71 L110.43 229.78 L110.65 229.84 L110.87 229.90 L111.08 229.96 L111.30 230.01 L111.52 230.07 L111.74 230.12 L111.96 230.17 L112.18 230.22 L112.40 230.26 L112.62 230.31 L112.84 230.35 L113.05 230.39 L113.27 230.43 L113.49 230.47 L113.71 230.50 L113.93 230.53 L114.15 230.56 L114.37 230.59 L114.59 230.62 L114.81 230.65 L115.03 230.67 L115.24 230.70 L115.46 230.72 L115.68 230.74 L115.90 230.76 L116.12 230.77 L116.34 230.79 L116.56 230.80 L116.78 230.81 L117.00 230.82 L117.21 230.83 L117.43 230.84 L117.65 230.85 L117.87 230.85 L118.09 230.85 L118.31 230.86 L118.53 230.86 L118.75 230.86 L118.97 230.85 L119.18 230.85 L119.40 230.84 L119.62 230.84 L119.84 230.83 L120.06 230.82 L120.28 230.81 L120.50 230.80 L120.72 230.79 L120.94 230.77 L121.16 230.76 L121.37 230.74 L121.59 230.72 L121.81 230.70 L122.03 230.68 L122.25 230.66 L122.47 230.64 L122.69 230.62 L122.91 230.59 L123.13 230.57 L123.34 230.54 L123.56 230.51 L123.78 230.48 L124.00 230.45 L124.22 230.42 L124.44 230.39 L124.66 230.36 L124.88 230.32 L125.10 230.29 L125.32 230.25 L125.53 230.21 L125.75 230.17 L125.97 230.14 L126.19 230.10 L126.41 230.05 L126.63 230.01 L126.85 229.97 L127.07 229.93 L127.29 229.88 L127.50 229.83 L127.72 229.79 L127.94 229.74 L128.16 229.69 L128.38 229.64 L128.60 229.59 L128.82 229.54 L129.04 229.49 L129.26 229.44 L129.47 229.38 L129.69 229.33 L129.91 229.27 L130.13 229.22 L130.35 229.16 L130.57 229.10 L130.79 229.05 L131.01 228.99 L131.23 228.93 L131.45 228.87 L131.66 228.81 L131.88 228.74 L132.10 228.68 L132.32 228.62 L132.54 228.55 L132.76 228.49 L132.98 228.42 L133.20 228.36 L133.42 228.29 L133.63 228.22 L133.85 228.15 L134.07 228.09 L134.29 228.02 L134.51 227.95 L134.73 227.88 L134.95 227.80 L135.17 227.73 L135.39 227.66 L135.60 227.59 L135.82 227.51 L136.04 227.44 L136.26 227.36 L136.48 227.29 L136.70 227.21 L136.92 227.13 L137.14 227.06 L137.36 226.98 L137.58 226.90 L137.79 226.82 L138.01 226.74 L138.23 226.66 L138.45 226.58 L138.67 226.50 L138.89 226.42 L139.11 226.33 L139.33 226.25 L139.55 226.17 L139.76 226.09 L139.98 226.00 L140.20 225.92 L140.42 225.83 L140.64 225.75 L140.86 225.66 L141.08 225.57 L141.30 225.49 L141.52 225.40 L141.73 225.31 L141.95 225.22 L142.17 225.13 L142.39 225.04 L142.61 224.95 L142.83 224.86 L143.05 224.77 L143.27 224.68 L143.49 224.59 L143.71 224.50 L143.92 224.41 L144.14 224.31 L144.36 224.22 L144.58 224.13 L144.80 224.03 L145.02 223.94 L145.24 223.85 L145.46 223.75 L145.68 223.66 L145.89 223.56 L146.11 223.46 L146.33 223.37 L146.55 223.27 L146.77 223.18 L146.99 223.08 L147.21 222.98 L147.43 222.88 L147.65 222.79 L147.87 222.69 L148.08 222.59 L148.30 222.49 L148.52 222.39 L148.74 222.29 L148.96 222.19 L149.18 222.09 L149.40 221.99 L149.62 221.89 L149.84 221.79 L150.05 221.69 L150.27 221.59 L150.49 221.48 L150.71 221.38 L150.93 221.28 L151.15 221.18 L151.37 221.07 L151.59 220.97 L151.81 220.87 L152.02 220.76 L152.24 220.66 L152.46 220.56 L152.68 220.45 L152.90 220.35 L153.12 220.24 L153.34 220.14 L153.56 220.03 L153.78 219.93 L154.00 219.82 L154.21 219.72 L154.43 219.61 L154.65 219.51 L154.87 219.40 L155.09 219.29 L155.31 219.19 L155.53 219.08 L155.75 218.98 L155.97 218.87 L156.18 218.76 L156.40 218.65 L156.62 218.55 L156.84 218.44 L157.06 218.33 L157.28 218.22 L157.50 218.12 L157.72 218.01 L157.94 217.90 L158.15 217.79 L158.37 217.68 L158.59 217.58 L158.81 217.47 L159.03 217.36 L159.25 217.25 L159.47 217.14 L159.69 217.03 L159.91 216.92 L160.13 216.81 L160.34 216.71 L160.56 216.60 L160.78 216.49 L161.00 216.38 L161.22 216.27 L161.44 216.16 L161.66 216.05 L161.88 215.94 L162.10 215.83 L162.31 215.72 L162.53 215.61 L162.75 215.50 L162.97 215.39 L163.19 215.28 L163.41 215.17 L163.63 215.06 L163.85 214.95 L164.07 214.84 L164.28 214.73 L164.50 214.62 L164.72 214.51 L164.94 214.40 L165.16 214.29 L165.38 214.18 L165.60 214.07 L165.82 213.96 L166.04 213.85 L166.26 213.74 L166.47 213.63 L166.69 213.52 L166.91 213.41 L167.13 213.30 L167.35 213.19 L167.57 213.08 L167.79 212.97 L168.01 212.86 L168.23 212.76 L168.44 212.65 L168.66 212.54 L168.88 212.43 L169.10 212.32 L169.32 212.21 L169.54 212.10 L169.76 211.99 L169.98 211.88 L170.20 211.77 L170.42 211.66 L170.63 211.55 L170.85 211.44 L171.07 211.34 L171.29 211.23 L171.51 211.12 L171.73 211.01 L171.95 210.90 L172.17 210.79 L172.39 210.69 L172.60 210.58 L172.82 210.47 L173.04 210.36 L173.26 210.26 L173.48 210.15 L173.70 210.04 L173.92 209.93 L174.14 209.83 L174.36 209.72 L174.57 209.61 L174.79 209.51 L175.01 209.40 L175.23 209.29 L175.45 209.19 L175.67 209.08 L175.89 208.98 L176.11 208.87 L176.33 208.76 L176.55 208.66 L176.76 208.55 L176.98 208.45 L177.20 208.34 L177.42 208.24 L177.64 208.13 L177.86 208.03 L178.08 207.93 L178.30 207.82 L178.52 207.72 L178.73 207.62 L178.95 207.51 L179.17 207.41 L179.39 207.31 L179.61 207.20 L179.83 207.10 L180.05 207.00 L180.27 206.90 L180.49 206.80 L180.70 206.69 L180.92 206.59 L181.14 206.49 L181.36 206.39 L181.58 206.29 L181.80 206.19 L182.02 206.09 L182.24 205.99 L182.46 205.89 L182.68 205.79 L182.89 205.69 L183.11 205.59 L183.33 205.50 L183.55 205.40 L183.77 205.30 L183.99 205.20 L184.21 205.11 L184.43 205.01 L184.65 204.91 L184.86 204.82 L185.08 204.72 L185.30 204.62 L185.52 204.53 L185.74 204.43 L185.96 204.34 L186.18 204.24 L186.40 204.15 L186.62 204.06 L186.84 203.96 L187.05 203.87 L187.27 203.78 L187.49 203.68 L187.71 203.59 L187.93 203.50 L188.15 203.41 L188.37 203.32 L188.59 203.23 L188.81 203.13 L189.02 203.04 L189.24 202.95 L189.46 202.87 L189.68 202.78 L189.90 202.69 L190.12 202.60 L190.34 202.51 L190.56 202.42 L190.78 202.34 L190.99 202.25 L191.21 202.16 L191.43 202.08 L191.65 201.99 L191.87 201.91 L192.09 201.82 L192.31 201.74 L192.53 201.65 L192.75 201.57 L192.97 201.49 L193.18 201.40 L193.40 201.32 L193.62 201.24 L193.84 201.16 L194.06 201.08 L194.28 201.00 L194.50 200.92 L194.72 200.84 L194.94 200.76 L195.15 200.68 L195.37 200.60 L195.59 200.52 L195.81 200.44 L196.03 200.37 L196.25 200.29 L196.47 200.21 L196.69 200.14 L196.91 200.06 L197.12 199.99 L197.34 199.91 L197.56 199.84 L197.78 199.77 L198.00 199.69 L198.22 199.62 L198.44 199.55 L198.66 199.48 L198.88 199.41 L199.10 199.34 L199.31 199.27 L199.53 199.20 L199.75 199.13 L199.97 199.06 L200.19 198.99 L200.41 198.93 L200.63 198.86 L200.85 198.79 L201.07 198.73 L201.28 198.66 L201.50 198.60 L201.72 198.53 L201.94 198.47 L202.16 198.41 L202.38 198.35 L202.60 198.28 L202.82 198.22 L203.04 198.16 L203.25 198.10 L203.47 198.04 L203.69 197.98 L203.91 197.93 L204.13 197.87 L204.35 197.81 L204.57 197.75 L204.79 197.70 L205.01 197.64 L205.23 197.59 L205.44 197.53 L205.66 197.48 L205.88 197.43 L206.10 197.37 L206.32 197.32 L206.54 197.27 L206.76 197.22 L206.98 197.17 L207.20 197.12 L207.41 197.07 L207.63 197.03 L207.85 196.98 L208.07 196.93 L208.29 196.88 L208.51 196.84 L208.73 196.79 L208.95 196.75 L209.17 196.71 L209.39 196.66 L209.60 196.62 L209.82 196.58 L210.04 196.54 L210.26 196.50 L210.48 196.46 L210.70 196.42 L210.92 196.38 L211.14 196.35 L211.36 196.31 L211.57 196.27 L211.79 196.24 L212.01 196.20 L212.23 196.17 L212.45 196.14 L212.67 196.10 L212.89 196.07 L213.11 196.04 L213.33 196.01 L213.54 195.98 L213.76 195.95 L213.98 195.92 L214.20 195.90 L214.42 195.87 L214.64 195.84 L214.86 195.82 L215.08 195.79 L215.30 195.77 L215.52 195.75 L215.73 195.72 L215.95 195.70 L216.17 195.68 L216.39 195.66 L216.61 195.64 L216.83 195.63 L217.05 195.61 L217.27 195.59 L217.49 195.58 L217.70 195.56 L217.92 195.55 L218.14 195.53 L218.36 195.52 L218.58 195.51 L218.80 195.50 L219.02 195.49 L219.24 195.48 L219.46 195.47 L219.67 195.46 L219.89 195.45 L220.11 195.45 L220.33 195.44 L220.55 195.44 L220.77 195.43 L220.99 195.43 L221.21 195.43 L221.43 195.43 L221.65 195.43 L221.86 195.43 L222.08 195.43 L222.30 195.43 L222.52 195.43 L222.74 195.44 L222.96 195.44 L223.18 195.45 L223.40 195.45 L223.62 195.46 L223.83 195.47 L224.05 195.48 L224.27 195.49 L224.49 195.50 L224.71 195.51 L224.93 195.53 L225.15 195.54 L225.37 195.55 L225.59 195.57 L225.80 195.59 L226.02 195.60 L226.24 195.62 L226.46 195.64 L226.68 195.66 L226.90 195.68 L227.12 195.71 L227.34 195.73 L227.56 195.75 L227.78 195.78 L227.99 195.80 L228.21 195.83 L228.43 195.86 L228.65 195.89 L228.87 195.92 L229.09 195.95 L229.31 195.98 L229.53 196.01 L229.75 196.05 L229.96 196.08 L230.18 196.12 L230.40 196.15 L230.62 196.19 L230.84 196.23 L231.06 196.27 L231.28 196.31 L231.50 196.35 L231.72 196.39 L231.94 196.44 L232.15 196.48 L232.37 196.53 L232.59 196.58 L232.81 196.62 L233.03 196.67 L233.25 196.72 L233.47 196.77 L233.69 196.83 L233.91 196.88 L234.12 196.93 L234.34 196.99 L234.56 197.05 L234.78 197.10 L235.00 197.16 L235.22 197.22 L235.44 197.28 L235.66 197.34 L235.88 197.41 L236.09 197.47 L236.31 197.54 L236.53 197.60 L236.75 197.67 L236.97 197.74 L237.19 197.81 L237.41 197.88 L237.63 197.95 L237.85 198.02 L238.07 198.10 L238.28 198.17 L238.50 198.25 L238.72 198.33 L238.94 198.40 L239.16 198.48 L239.38 198.56 L239.60 198.65 L239.82 198.73 L240.04 198.81 L240.25 198.90 L240.47 198.99 L240.69 199.07 L240.91 199.16 L241.13 199.25 L241.35 199.35 L241.57 199.44 L241.79 199.53 L242.01 199.63 L242.22 199.72 L242.44 199.82 L242.66 199.92 L242.88 200.02 L243.10 200.12 L243.32 200.22 L243.54 200.33 L243.76 200.43 L243.98 200.54 L244.20 200.64 L244.41 200.75 L244.63 200.86 L244.85 200.97 L245.07 201.08 L245.29 201.20 L245.51 201.31 L245.73 201.43 L245.95 201.55 L246.17 201.66 L246.38 201.78 L246.60 201.90 L246.82 202.03 L247.04 202.15 L247.26 202.28 L247.48 202.40 L247.70 202.53 L247.92 202.66 L248.14 202.79 L248.35 202.92 L248.57 203.05 L248.79 203.19 L249.01 203.32 L249.23 203.46 L249.45 203.60 L249.67 203.73 L249.89 203.88 L250.11 204.02 L250.33 204.16 L250.54 204.31 L250.76 204.45 L250.98 204.60 L251.20 204.75 L251.42 204.90 L251.64 205.05 L251.86 205.20 L252.08 205.36 L252.30 205.51 L252.51 205.67 L252.73 205.83 L252.95 205.99 L253.17 206.15 L253.39 206.31 L253.61 206.48 L253.83 206.64 L254.05 206.81 L254.27 206.98 L254.49 207.15 L254.70 207.32 L254.92 207.49 L255.14 207.66 L255.36 207.84 L255.58 208.02 L255.80 208.19 L256.02 208.37 L256.24 208.55 L256.46 208.74 L256.67 208.92 L256.89 209.11 L257.11 209.29 L257.33 209.48 L257.55 209.67 L257.77 209.86 L257.99 210.06 L258.21 210.25 L258.43 210.45 L258.64 210.65 L258.86 210.84 L259.08 211.04 L259.30 211.25 L259.52 211.45 L259.74 211.66 L259.96 211.86 L260.18 212.07 L260.40 212.28 L260.62 212.49 L260.83 212.70 L261.05 212.92 L261.27 213.13 L261.49 213.35 L261.71 213.57 L261.93 213.79 L262.15 214.01 L262.37 214.24 L262.59 214.46 L262.80 214.69 L263.02 214.92 L263.24 215.15 L263.46 215.38 L263.68 215.61 L263.90 215.85 L264.12 216.08 L264.34 216.32 L264.56 216.56 L264.77 216.80 L264.99 217.04 L265.21 217.29 L265.43 217.53 L265.65 217.78 L265.87 218.03 L266.09 218.28 L266.31 218.53 L266.53 218.79 L266.75 219.04 L266.96 219.30 L267.18 219.56 L267.40 219.82 L267.62 220.09 L267.84 220.35 L268.06 220.62 L268.28 220.88 L268.50 221.15 L268.72 221.42 L268.93 221.70 L269.15 221.97 L269.37 222.25 L269.59 222.52 L269.81 222.80 L270.03 223.09 L270.25 223.37 L270.47 223.65 L270.69 223.94 L270.91 224.23 L271.12 224.52 L271.34 224.81 L271.56 225.10 L271.78 225.40 L272.00 225.70 L272.22 225.99 L272.44 226.29 L272.66 226.60 L272.88 226.90 L273.09 227.21 L273.31 227.51 L273.53 227.82 L273.75 228.13 L273.97 228.45 L274.19 228.76 L274.41 229.08 L274.63 229.40 L274.85 229.72 L275.06 230.04 L275.28 230.36 L275.50 230.69 L275.72 231.02 L275.94 231.35 L276.16 231.68 L276.38 232.01 L276.60 232.35 L276.82 232.68 L277.04 233.02 L277.25 233.36 L277.47 233.70 L277.69 234.05 L277.91 234.39 L278.13 234.74 L278.35 235.09 L278.57 235.44 L278.79 235.80 L279.01 236.15 L279.22 236.51 L279.44 236.87 L279.66 237.23 L279.88 237.60 L280.10 237.96 L280.32 238.33 L280.54 238.70 L280.76 239.07 L280.98 239.44 L281.19 239.82 L281.41 240.19 L281.63 240.57 L281.85 240.95 L282.07 241.33 L282.29 241.72 L282.51 242.11 L282.73 242.49 L282.95 242.88 L283.17 243.28 L283.38 243.67 L283.60 244.07 L283.82 244.47 L284.04 244.87 L284.26 245.27 L284.48 245.67 L284.70 246.08 L284.92 246.49 L285.14 246.90 L285.35 247.31 L285.57 247.73 L285.79 248.15 L286.01 248.56 L286.23 248.98 L286.45 249.41 L286.67 249.83 L286.89 250.26 L287.11 250.69 L287.32 251.12 L287.54 251.55 L287.76 251.99 L287.98 252.43 L288.20 252.87 L288.42 253.31 L288.64 253.75 L288.86 254.20 L289.08 254.65 L289.30 255.10 L289.51 255.55 L289.73 256.00 L289.95 256.46 L290.17 256.92 L290.39 257.38 L290.61 257.84 L290.83 258.31 L291.05 258.77 L291.27 259.24 L291.48 259.71 L291.70 260.19 L291.92 260.66 L292.14 261.14 L292.36 261.62 L292.58 262.10 L292.80 262.59 L293.02 263.08 L293.24 263.56 L293.46 264.06 L293.67 264.55 L293.89 265.05 L294.11 265.54 L294.33 266.04 L294.55 266.55 L294.77 267.05 L294.99 267.56 L295.21 268.07 L295.43 268.58 L295.64 269.09 L295.86 269.61 L296.08 270.12 L296.30 270.65 L296.52 271.17 L296.74 271.69 L296.96 272.22 L297.18 272.75 L297.40 273.28 L297.61 273.82 L297.83 274.35 L298.05 274.89 L298.27 275.43 L298.49 275.97 L298.71 276.52 L298.93 277.07 L299.15 277.62 L299.37 278.17 L299.59 278.73 L299.80 279.28 L300.02 279.84 L300.24 280.41 L300.46 280.97 L300.68 281.54 L300.90 282.11 L301.12 282.68 L301.12 282.68" stroke="#ff0000" stroke-width="2.2"/>
<path d="M75.54 -16.26 L75.57 -15.61 L75.60 -14.97 L75.64 -14.34 L75.67 -13.70 L75.70 -13.07 L75.73 -12.44 L75.76 -11.81 L75.79 -11.18 L75.82 -10.55 L75.85 -9.93 L75.89 -9.31 L75.92 -8.68 L75.95 -8.07 L75.98 -7.45 L76.01 -6.84 L76.04 -6.22 L76.07 -5.61 L76.10 -5.00 L76.14 -4.40 L76.17 -3.79 L76.20 -3.19 L76.23 -2.59 L76.26 -1.99 L76.29 -1.39 L76.32 -0.80 L76.35 -0.20 L76.39 0.39 L76.42 0.98 L76.45 1.57 L76.48 2.15 L76.51 2.74 L76.54 3.32 L76.57 3.90 L76.60 4.48 L76.64 5.06 L76.67 5.64 L76.70 6.21 L76.73 6.78 L76.76 7.35 L76.79 7.92 L76.82 8.49 L76.85 9.05 L76.89 9.62 L76.92 10.18 L76.95 10.74 L76.98 11.30 L77.01 11.86 L77.04 12.41 L77.07 12.96 L77.10 13.52 L77.14 14.07 L77.17 14.62 L77.20 15.16 L77.23 15.71 L77.26 16.25 L77.29 16.79 L77.32 17.33 L77.35 17.87 L77.38 18.41 L77.42 18.94 L77.45 19.48 L77.48 20.01 L77.51 20.54 L77.54 21.07 L77.57 21.60 L77.60 22.12 L77.63 22.65 L77.67 23.17 L77.70 23.69 L77.73 24.21 L77.76 24.73 L77.79 25.25 L77.82 25.76 L77.85 26.28 L77.88 26.79 L77.92 27.30 L77.95 27.81 L77.98 28.32 L78.01 28.82 L78.04 29.33 L78.07 29.83 L78.10 30.33 L78.13 30.83 L78.17 31.33 L78.20 31.83 L78.23 32.33 L78.26 32.82 L78.29 33.31 L78.32 33.80 L78.35 34.29 L78.38 34.78 L78.42 35.27 L78.45 35.76 L78.48 36.24 L78.51 36.72 L78.54 37.21 L78.57 37.69 L78.60 38.17 L78.63 38.64 L78.67 39.12 L78.70 39.59 L78.73 40.07 L78.76 40.54 L78.79 41.01 L78.82 41.48 L78.85 41.95 L78.88 42.41 L78.91 42.88 L78.95 43.34 L78.98 43.81 L79.01 44.27 L79.04 44.73 L79.07 45.19 L79.10 45.64 L79.13 46.10 L79.16 46.55 L79.20 47.01 L79.23 47.46 L79.26 47.91 L79.29 48.36 L79.32 48.81 L79.35 49.26 L79.38 49.70 L79.41 50.15 L79.45 50.59 L79.48 51.03 L79.51 51.47 L79.54 51.91 L79.57 52.35 L79.60 52.79 L79.63 53.22 L79.66 53.66 L79.70 54.09 L79.73 54.52 L79.76 54.95 L79.79 55.38 L79.82 55.81 L79.85 56.24 L79.88 56.67 L79.91 57.09 L79.95 57.52 L79.98 57.94 L80.01 58.36 L80.04 58.78 L80.07 59.20 L80.10 59.62 L80.13 60.03 L80.16 60.45 L80.20 60.86 L80.23 61.28 L80.26 61.69 L80.29 62.10 L80.32 62.51 L80.35 62.92 L80.38 63.33 L80.41 63.73 L80.45 64.14 L80.48 64.54 L80.51 64.95 L80.54 65.35 L80.57 65.75 L80.60 66.15 L80.63 66.55 L80.66 66.95 L80.69 67.34 L80.73 67.74 L80.76 68.13 L80.79 68.53 L80.82 68.92 L80.85 69.31 L80.88 69.70 L80.91 70.09 L80.94 70.48 L80.98 70.86 L81.01 71.25 L81.04 71.63 L81.07 72.02 L81.10 72.40 L81.13 72.78 L81.16 73.16 L81.19 73.54 L81.23 73.92 L81.26 74.30 L81.29 74.68 L81.32 75.05 L81.35 75.43 L81.38 75.80 L81.41 76.17 L81.44 76.54 L81.48 76.91 L81.51 77.28 L81.54 77.65 L81.57 78.02 L81.60 78.39 L81.63 78.75 L81.66 79.12 L81.69 79.48 L81.73 79.84 L81.76 80.21 L81.79 80.57 L81.82 80.93 L81.85 81.28 L81.88 81.64 L81.91 82.00 L81.94 82.36 L81.98 82.71 L82.01 83.06 L82.04 83.42 L82.07 83.77 L82.10 84.12 L82.13 84.47 L82.16 84.82 L82.19 85.17 L82.22 85.52 L82.26 85.86 L82.29 86.21 L82.32 86.55 L82.35 86.90 L82.38 87.24 L82.41 87.58 L82.44 87.92 L82.47 88.27 L82.51 88.60 L82.54 88.94 L82.57 89.28 L82.60 89.62 L82.63 89.95 L82.66 90.29 L82.69 90.62 L82.72 90.96 L82.76 91.29 L82.79 91.62 L82.82 91.95 L82.85 92.28 L82.88 92.61 L82.91 92.94 L82.94 93.27 L82.97 93.59 L83.01 93.92 L83.04 94.24 L83.07 94.57 L83.10 94.89 L83.13 95.21 L83.16 95.53 L83.19 95.85 L83.22 96.17 L83.26 96.49 L83.29 96.81 L83.32 97.13 L83.35 97.44 L83.38 97.76 L83.41 98.07 L83.44 98.39 L83.47 98.70 L83.51 99.01 L83.54 99.32 L83.57 99.64 L83.60 99.95 L83.63 100.25 L83.66 100.56 L83.69 100.87 L83.72 101.18 L83.75 101.48 L83.79 101.79 L83.82 102.09 L83.85 102.40 L83.88 102.70 L83.91 103.00 L83.94 103.30 L83.97 103.60 L84.00 103.90 L84.04 104.20 L84.07 104.50 L84.10 104.80 L84.13 105.10 L84.16 105.39 L84.19 105.69 L84.22 105.98 L84.25 106.28 L84.29 106.57 L84.32 106.86 L84.35 107.15 L84.38 107.44 L84.41 107.73 L84.44 108.02 L84.47 108.31 L84.50 108.60 L84.54 108.89 L84.57 109.17 L84.60 109.46 L84.63 109.74 L84.66 110.03 L84.69 110.31 L84.72 110.60 L84.75 110.88 L84.79 111.16 L84.82 111.44 L84.85 111.72 L84.88 112.00 L84.91 112.28 L84.94 112.56 L84.97 112.83 L85.00 113.11 L85.04 113.39 L85.07 113.66 L85.10 113.94 L85.13 114.21 L85.16 114.48 L85.19 114.76 L85.22 115.03 L85.25 115.30 L85.29 115.57 L85.32 115.84 L85.35 116.11 L85.38 116.38 L85.41 116.65 L85.44 116.91 L85.47 117.18 L85.50 117.45 L85.53 117.71 L85.57 117.98 L85.60 118.24 L85.63 118.50 L85.66 118.77 L85.69 119.03 L85.72 119.29 L85.75 119.55 L85.78 119.81 L85.82 120.07 L85.85 120.33 L85.88 120.59 L85.91 120.84 L85.94 121.10 L85.97 121.36 L86.00 121.61 L86.03 121.87 L86.07 122.12 L86.10 122.38 L86.13 122.63 L86.16 122.88 L86.19 123.13 L86.22 123.39 L86.25 123.64 L86.28 123.89 L86.32 124.14 L86.35 124.39 L86.38 124.63 L86.41 124.88 L86.44 125.13 L86.47 125.38 L86.50 125.62 L86.53 125.87 L86.57 126.11 L86.60 126.36 L86.63 126.60 L86.66 126.84 L86.69 127.08 L86.72 127.33 L86.75 127.57 L86.78 127.81 L86.82 128.05 L86.85 128.29 L86.88 128.53 L86.91 128.77 L86.94 129.00 L86.97 129.24 L87.00 129.48 L87.03 129.71 L87.06 129.95 L87.10 130.18 L87.13 130.42 L87.16 130.65 L87.19 130.88 L87.22 131.12 L87.25 131.35 L87.28 131.58 L87.31 131.81 L87.35 132.04 L87.38 132.27 L87.41 132.50 L87.44 132.73 L87.47 132.96 L87.50 133.19 L87.53 133.41 L87.56 133.64 L87.60 133.87 L87.63 134.09 L87.66 134.32 L87.69 134.54 L87.72 134.77 L87.75 134.99 L87.78 135.21 L87.81 135.44 L87.85 135.66 L87.88 135.88 L87.91 136.10 L87.94 136.32 L87.97 136.54 L88.00 136.76 L88.03 136.98 L88.06 137.20 L88.10 137.41 L88.13 137.63 L88.16 137.85 L88.19 138.07 L88.22 138.28 L88.25 138.50 L88.28 138.71 L88.31 138.93 L88.35 139.14 L88.38 139.35 L88.41 139.56 L88.44 139.78 L88.47 139.99 L88.50 140.20 L88.53 140.41 L88.56 140.62 L88.60 140.83 L88.63 141.04 L88.66 141.25 L88.69 141.46 L88.72 141.67 L88.75 141.87 L88.78 142.08 L88.81 142.29 L88.84 142.49 L88.88 142.70 L88.91 142.90 L88.94 143.11 L88.97 143.31 L89.00 143.51 L89.03 143.72 L89.06 143.92 L89.09 144.12 L89.13 144.32 L89.16 144.53 L89.19 144.73 L89.22 144.93 L89.25 145.13 L89.28 145.33 L89.31 145.52 L89.34 145.72 L89.38 145.92 L89.41 146.12 L89.44 146.32 L89.47 146.51 L89.50 146.71 L89.53 146.90 L89.56 147.10 L89.59 147.29 L89.63 147.49 L89.66 147.68 L89.69 147.88 L89.72 148.07 L89.75 148.26 L89.78 148.45 L89.81 148.65 L89.84 148.84 L89.88 149.03 L89.91 149.22 L89.94 149.41 L89.97 149.60 L90.00 149.79 L90.03 149.98 L90.06 150.16 L90.09 150.35 L90.13 150.54 L90.16 150.73 L90.19 150.91 L90.22 151.10 L90.25 151.28 L90.28 151.47 L90.31 151.65 L90.34 151.84 L90.37 152.02 L90.41 152.21 L90.44 152.39 L90.47 152.57 L90.50 152.75 L90.53 152.94 L90.56 153.12 L90.59 153.30 L90.62 153.48 L90.66 153.66 L90.69 153.84 L90.72 154.02 L90.75 154.20 L90.78 154.38 L90.81 154.56 L90.84 154.73 L90.87 154.91 L90.91 155.09 L90.94 155.27 L90.97 155.44 L91.00 155.62 L91.03 155.79 L91.06 155.97 L91.09 156.14 L91.12 156.32 L91.16 156.49 L91.19 156.66 L91.22 156.84 L91.25 157.01 L91.28 157.18 L91.31 157.36 L91.34 157.53 L91.37 157.70 L91.41 157.87 L91.44 158.04 L91.47 158.21 L91.50 158.38 L91.53 158.55 L91.56 158.72 L91.59 158.89 L91.62 159.05 L91.66 159.22 L91.69 159.39 L91.72 159.56 L91.75 159.72 L91.78 159.89 L91.81 160.06 L91.84 160.22 L91.87 160.39 L91.90 160.55 L91.94 160.72 L91.97 160.88 L92.00 161.04 L92.03 161.21 L92.06 161.37 L92.09 161.53 L92.12 161.70 L92.15 161.86 L92.19 162.02 L92.22 162.18 L92.25 162.34 L92.26 162.38" stroke="#ff0000" stroke-width="2.45"/><path d="M92.26 162.38 L92.48 163.50 L92.69 164.60 L92.91 165.68 L93.13 166.75 L93.35 167.80 L93.57 168.84 L93.79 169.86 L94.01 170.86 L94.23 171.85 L94.45 172.82 L94.66 173.78 L94.88 174.73 L95.10 175.66 L95.32 176.58 L95.54 177.48 L95.76 178.37 L95.98 179.25 L96.20 180.11 L96.42 180.97 L96.63 181.81 L96.85 182.63 L97.07 183.45 L97.29 184.25 L97.51 185.04 L97.73 185.82 L97.95 186.59 L98.17 187.35 L98.39 188.09 L98.61 188.83 L98.82 189.55 L99.04 190.27 L99.26 190.97 L99.48 191.67 L99.70 192.35 L99.92 193.02 L100.14 193.69 L100.36 194.34 L100.58 194.99 L100.79 195.63 L101.01 196.25 L101.23 196.87 L101.45 197.48 L101.67 198.08 L101.89 198.68 L102.11 199.26 L102.33 199.84 L102.55 200.40 L102.77 200.96 L102.98 201.52 L103.20 202.06 L103.42 202.60 L103.64 203.12 L103.86 203.65 L104.08 204.16 L104.30 204.67 L104.52 205.17 L104.74 205.66 L104.95 206.14 L105.17 206.62 L105.39 207.09 L105.61 207.56 L105.83 208.02 L106.05 208.47 L106.27 208.92 L106.49 209.36 L106.71 209.79 L106.92 210.22 L107.14 210.64 L107.36 211.05 L107.58 211.46 L107.80 211.86 L108.02 212.26 L108.24 212.65 L108.46 213.04 L108.68 213.42 L108.90 213.80 L109.11 214.17 L109.33 214.53 L109.55 214.89 L109.77 215.25 L109.99 215.60 L110.21 215.94 L110.43 216.28 L110.65 216.61 L110.87 216.94 L111.08 217.27 L111.30 217.59 L111.52 217.91 L111.74 218.22 L111.96 218.52 L112.18 218.83 L112.40 219.12 L112.62 219.42 L112.84 219.71 L113.05 219.99 L113.27 220.27 L113.49 220.55 L113.71 220.82 L113.93 221.09 L114.15 221.35 L114.37 221.61 L114.59 221.87 L114.81 222.12 L115.03 222.37 L115.24 222.62 L115.46 222.86 L115.68 223.10 L115.90 223.33 L116.12 223.56 L116.34 223.79 L116.56 224.01 L116.78 224.23 L117.00 224.45 L117.21 224.66 L117.43 224.87 L117.65 225.08 L117.87 225.28 L118.09 225.48 L118.31 225.68 L118.53 225.87 L118.75 226.06 L118.97 226.25 L119.18 226.43 L119.40 226.62 L119.62 226.79 L119.84 226.97 L120.06 227.14 L120.28 227.31 L120.50 227.48 L120.72 227.64 L120.94 227.81 L121.16 227.96 L121.37 228.12 L121.59 228.27 L121.81 228.42 L122.03 228.57 L122.25 228.72 L122.47 228.86 L122.69 229.00 L122.91 229.14 L123.13 229.27 L123.34 229.41 L123.56 229.54 L123.78 229.67 L124.00 229.79 L124.22 229.91 L124.44 230.04 L124.66 230.15 L124.88 230.27 L125.10 230.38 L125.32 230.50 L125.53 230.61 L125.75 230.71 L125.97 230.82 L126.19 230.92 L126.41 231.02 L126.63 231.12 L126.85 231.22 L127.07 231.31 L127.29 231.41 L127.50 231.50 L127.72 231.59 L127.94 231.67 L128.16 231.76 L128.38 231.84 L128.60 231.92 L128.82 232.00 L129.04 232.08 L129.26 232.16 L129.47 232.23 L129.69 232.30 L129.91 232.37 L130.13 232.44 L130.35 232.51 L130.57 232.57 L130.79 232.64 L131.01 232.70 L131.23 232.76 L131.45 232.82 L131.66 232.87 L131.88 232.93 L132.10 232.98 L132.32 233.03 L132.54 233.08 L132.76 233.13 L132.98 233.18 L133.20 233.22 L133.42 233.27 L133.63 233.31 L133.85 233.35 L134.07 233.39 L134.29 233.43 L134.51 233.47 L134.73 233.50 L134.95 233.53 L135.17 233.57 L135.39 233.60 L135.60 233.63 L135.82 233.66 L136.04 233.68 L136.26 233.71 L136.48 233.73 L136.70 233.76 L136.92 233.78 L137.14 233.80 L137.36 233.82 L137.58 233.84 L137.79 233.85 L138.01 233.87 L138.23 233.88 L138.45 233.90 L138.67 233.91 L138.89 233.92 L139.11 233.93 L139.33 233.94 L139.55 233.94 L139.76 233.95 L139.98 233.96 L140.20 233.96 L140.42 233.96 L140.64 233.96 L140.86 233.96 L141.08 233.96 L141.30 233.96 L141.52 233.96 L141.73 233.96 L141.95 233.95 L142.17 233.95 L142.39 233.94 L142.61 233.93 L142.83 233.93 L143.05 233.92 L143.27 233.91 L143.49 233.89 L143.71 233.88 L143.92 233.87 L144.14 233.86 L144.36 233.84 L144.58 233.82 L144.80 233.81 L145.02 233.79 L145.24 233.77 L145.46 233.75 L145.68 233.73 L145.89 233.71 L146.11 233.69 L146.33 233.67 L146.55 233.64 L146.77 233.62 L146.99 233.59 L147.21 233.57 L147.43 233.54 L147.65 233.51 L147.87 233.49 L148.08 233.46 L148.30 233.43 L148.52 233.40 L148.74 233.37 L148.96 233.33 L149.18 233.30 L149.40 233.27 L149.62 233.23 L149.84 233.20 L150.05 233.17 L150.27 233.13 L150.49 233.09 L150.71 233.06 L150.93 233.02 L151.15 232.98 L151.37 232.94 L151.59 232.90 L151.81 232.86 L152.02 232.82 L152.24 232.78 L152.46 232.73 L152.68 232.69 L152.90 232.65 L153.12 232.60 L153.34 232.56 L153.56 232.51 L153.78 232.47 L154.00 232.42 L154.21 232.38 L154.43 232.33 L154.65 232.28 L154.87 232.23 L155.09 232.18 L155.31 232.13 L155.53 232.08 L155.75 232.03 L155.97 231.98 L156.18 231.93 L156.40 231.88 L156.62 231.83 L156.84 231.77 L157.06 231.72 L157.28 231.67 L157.50 231.61 L157.72 231.56 L157.94 231.50 L158.15 231.45 L158.37 231.39 L158.59 231.34 L158.81 231.28 L159.03 231.22 L159.25 231.16 L159.47 231.11 L159.69 231.05 L159.91 230.99 L160.13 230.93 L160.34 230.87 L160.56 230.81 L160.78 230.75 L161.00 230.69 L161.22 230.63 L161.44 230.57 L161.66 230.51 L161.88 230.45 L162.10 230.38 L162.31 230.32 L162.53 230.26 L162.75 230.20 L162.97 230.13 L163.19 230.07 L163.41 230.01 L163.63 229.94 L163.85 229.88 L164.07 229.81 L164.28 229.75 L164.50 229.68 L164.72 229.62 L164.94 229.55 L165.16 229.49 L165.38 229.42 L165.60 229.35 L165.82 229.29 L166.04 229.22 L166.26 229.15 L166.47 229.09 L166.69 229.02 L166.91 228.95 L167.13 228.88 L167.35 228.81 L167.57 228.75 L167.79 228.68 L168.01 228.61 L168.23 228.54 L168.44 228.47 L168.66 228.40 L168.88 228.33 L169.10 228.26 L169.32 228.19 L169.54 228.12 L169.76 228.05 L169.98 227.98 L170.20 227.91 L170.42 227.84 L170.63 227.77 L170.85 227.70 L171.07 227.63 L171.29 227.56 L171.51 227.49 L171.73 227.42 L171.95 227.35 L172.17 227.28 L172.39 227.21 L172.60 227.14 L172.82 227.06 L173.04 226.99 L173.26 226.92 L173.48 226.85 L173.70 226.78 L173.92 226.71 L174.14 226.63 L174.36 226.56 L174.57 226.49 L174.79 226.42 L175.01 226.35 L175.23 226.28 L175.45 226.20 L175.67 226.13 L175.89 226.06 L176.11 225.99 L176.33 225.92 L176.55 225.85 L176.76 225.77 L176.98 225.70 L177.20 225.63 L177.42 225.56 L177.64 225.49 L177.86 225.41 L178.08 225.34 L178.30 225.27 L178.52 225.20 L178.73 225.13 L178.95 225.06 L179.17 224.98 L179.39 224.91 L179.61 224.84 L179.83 224.77 L180.05 224.70 L180.27 224.63 L180.49 224.56 L180.70 224.49 L180.92 224.42 L181.14 224.35 L181.36 224.27 L181.58 224.20 L181.80 224.13 L182.02 224.06 L182.24 223.99 L182.46 223.92 L182.68 223.85 L182.89 223.78 L183.11 223.71 L183.33 223.64 L183.55 223.57 L183.77 223.50 L183.99 223.44 L184.21 223.37 L184.43 223.30 L184.65 223.23 L184.86 223.16 L185.08 223.09 L185.30 223.02 L185.52 222.96 L185.74 222.89 L185.96 222.82 L186.18 222.75 L186.40 222.69 L186.62 222.62 L186.84 222.55 L187.05 222.49 L187.27 222.42 L187.49 222.35 L187.71 222.29 L187.93 222.22 L188.15 222.16 L188.37 222.09 L188.59 222.02 L188.81 221.96 L189.02 221.89 L189.24 221.83 L189.46 221.77 L189.68 221.70 L189.90 221.64 L190.12 221.58 L190.34 221.51 L190.56 221.45 L190.78 221.39 L190.99 221.32 L191.21 221.26 L191.43 221.20 L191.65 221.14 L191.87 221.08 L192.09 221.02 L192.31 220.96 L192.53 220.90 L192.75 220.84 L192.97 220.78 L193.18 220.72 L193.40 220.66 L193.62 220.60 L193.84 220.54 L194.06 220.48 L194.28 220.42 L194.50 220.37 L194.72 220.31 L194.94 220.25 L195.15 220.20 L195.37 220.14 L195.59 220.09 L195.81 220.03 L196.03 219.98 L196.25 219.92 L196.47 219.87 L196.69 219.81 L196.91 219.76 L197.12 219.71 L197.34 219.65 L197.56 219.60 L197.78 219.55 L198.00 219.50 L198.22 219.45 L198.44 219.40 L198.66 219.35 L198.88 219.30 L199.10 219.25 L199.31 219.20 L199.53 219.15 L199.75 219.10 L199.97 219.05 L200.19 219.00 L200.41 218.96 L200.63 218.91 L200.85 218.87 L201.07 218.82 L201.28 218.77 L201.50 218.73 L201.72 218.69 L201.94 218.64 L202.16 218.60 L202.38 218.56 L202.60 218.51 L202.82 218.47 L203.04 218.43 L203.25 218.39 L203.47 218.35 L203.69 218.31 L203.91 218.27 L204.13 218.23 L204.35 218.19 L204.57 218.16 L204.79 218.12 L205.01 218.08 L205.23 218.04 L205.44 218.01 L205.66 217.97 L205.88 217.94 L206.10 217.90 L206.32 217.87 L206.54 217.84 L206.76 217.81 L206.98 217.77 L207.20 217.74 L207.41 217.71 L207.63 217.68 L207.85 217.65 L208.07 217.62 L208.29 217.59 L208.51 217.56 L208.73 217.54 L208.95 217.51 L209.17 217.48 L209.39 217.46 L209.60 217.43 L209.82 217.41 L210.04 217.39 L210.26 217.36 L210.48 217.34 L210.70 217.32 L210.92 217.30 L211.14 217.27 L211.36 217.25 L211.57 217.24 L211.79 217.22 L212.01 217.20 L212.23 217.18 L212.45 217.16 L212.67 217.15 L212.89 217.13 L213.11 217.12 L213.33 217.10 L213.54 217.09 L213.76 217.07 L213.98 217.06 L214.20 217.05 L214.42 217.04 L214.64 217.03 L214.86 217.02 L215.08 217.01 L215.30 217.00 L215.52 216.99 L215.73 216.99 L215.95 216.98 L216.17 216.98 L216.39 216.97 L216.61 216.97 L216.83 216.96 L217.05 216.96 L217.27 216.96 L217.49 216.96 L217.70 216.96 L217.92 216.96 L218.14 216.96 L218.36 216.96 L218.58 216.96 L218.80 216.97 L219.02 216.97 L219.24 216.98 L219.46 216.98 L219.67 216.99 L219.89 216.99 L220.11 217.00 L220.33 217.01 L220.55 217.02 L220.77 217.03 L220.99 217.04 L221.21 217.05 L221.43 217.07 L221.65 217.08 L221.86 217.09 L222.08 217.11 L222.30 217.13 L222.52 217.14 L222.74 217.16 L222.96 217.18 L223.18 217.20 L223.40 217.22 L223.62 217.24 L223.83 217.26 L224.05 217.28 L224.27 217.31 L224.49 217.33 L224.71 217.35 L224.93 217.38 L225.15 217.41 L225.37 217.44 L225.59 217.46 L225.80 217.49 L226.02 217.52 L226.24 217.55 L226.46 217.59 L226.68 217.62 L226.90 217.65 L227.12 217.69 L227.34 217.72 L227.56 217.76 L227.78 217.80 L227.99 217.84 L228.21 217.88 L228.43 217.92 L228.65 217.96 L228.87 218.00 L229.09 218.04 L229.31 218.09 L229.53 218.13 L229.75 218.18 L229.96 218.22 L230.18 218.27 L230.40 218.32 L230.62 218.37 L230.84 218.42 L231.06 218.47 L231.28 218.52 L231.50 218.58 L231.72 218.63 L231.94 218.69 L232.15 218.74 L232.37 218.80 L232.59 218.86 L232.81 218.92 L233.03 218.98 L233.25 219.04 L233.47 219.10 L233.69 219.17 L233.91 219.23 L234.12 219.30 L234.34 219.36 L234.56 219.43 L234.78 219.50 L235.00 219.57 L235.22 219.64 L235.44 219.71 L235.66 219.79 L235.88 219.86 L236.09 219.93 L236.31 220.01 L236.53 220.09 L236.75 220.16 L236.97 220.24 L237.19 220.32 L237.41 220.41 L237.63 220.49 L237.85 220.57 L238.07 220.66 L238.28 220.74 L238.50 220.83 L238.72 220.92 L238.94 221.01 L239.16 221.10 L239.38 221.19 L239.60 221.28 L239.82 221.37 L240.04 221.47 L240.25 221.56 L240.47 221.66 L240.69 221.76 L240.91 221.86 L241.13 221.96 L241.35 222.06 L241.57 222.16 L241.79 222.26 L242.01 222.37 L242.22 222.48 L242.44 222.58 L242.66 222.69 L242.88 222.80 L243.10 222.91 L243.32 223.02 L243.54 223.14 L243.76 223.25 L243.98 223.37 L244.20 223.48 L244.41 223.60 L244.63 223.72 L244.85 223.84 L245.07 223.96 L245.29 224.09 L245.51 224.21 L245.73 224.34 L245.95 224.46 L246.17 224.59 L246.38 224.72 L246.60 224.85 L246.82 224.98 L247.04 225.11 L247.26 225.25 L247.48 225.38 L247.70 225.52 L247.92 225.66 L248.14 225.80 L248.35 225.94 L248.57 226.08 L248.79 226.22 L249.01 226.37 L249.23 226.51 L249.45 226.66 L249.67 226.81 L249.89 226.96 L250.11 227.11 L250.33 227.26 L250.54 227.41 L250.76 227.57 L250.98 227.72 L251.20 227.88 L251.42 228.04 L251.64 228.20 L251.86 228.36 L252.08 228.52 L252.30 228.69 L252.51 228.85 L252.73 229.02 L252.95 229.19 L253.17 229.36 L253.39 229.53 L253.61 229.70 L253.83 229.88 L254.05 230.05 L254.27 230.23 L254.49 230.40 L254.70 230.58 L254.92 230.76 L255.14 230.95 L255.36 231.13 L255.58 231.32 L255.80 231.50 L256.02 231.69 L256.24 231.88 L256.46 232.07 L256.67 232.26 L256.89 232.46 L257.11 232.65 L257.33 232.85 L257.55 233.05 L257.77 233.24 L257.99 233.45 L258.21 233.65 L258.43 233.85 L258.64 234.06 L258.86 234.26 L259.08 234.47 L259.30 234.68 L259.52 234.89 L259.74 235.11 L259.96 235.32 L260.18 235.54 L260.40 235.75 L260.62 235.97 L260.83 236.19 L261.05 236.41 L261.27 236.64 L261.49 236.86 L261.71 237.09 L261.93 237.32 L262.15 237.55 L262.37 237.78 L262.59 238.01 L262.80 238.24 L263.02 238.48 L263.24 238.72 L263.46 238.95 L263.68 239.20 L263.90 239.44 L264.12 239.68 L264.34 239.93 L264.56 240.17 L264.77 240.42 L264.99 240.67 L265.21 240.92 L265.43 241.18 L265.65 241.43 L265.87 241.69 L266.09 241.94 L266.31 242.20 L266.53 242.47 L266.75 242.73 L266.96 242.99 L267.18 243.26 L267.40 243.53 L267.62 243.80 L267.84 244.07 L268.06 244.34 L268.28 244.62 L268.50 244.89 L268.72 245.17 L268.93 245.45 L269.15 245.73 L269.37 246.01 L269.59 246.30 L269.81 246.58 L270.03 246.87 L270.25 247.16 L270.47 247.45 L270.69 247.75 L270.91 248.04 L271.12 248.34 L271.34 248.64 L271.56 248.93 L271.78 249.24 L272.00 249.54 L272.22 249.85 L272.44 250.15 L272.66 250.46 L272.88 250.77 L273.09 251.08 L273.31 251.40 L273.53 251.71 L273.75 252.03 L273.97 252.35 L274.19 252.67 L274.41 252.99 L274.63 253.32 L274.85 253.65 L275.06 253.97 L275.28 254.30 L275.50 254.64 L275.72 254.97 L275.94 255.31 L276.16 255.64 L276.38 255.98 L276.60 256.32 L276.82 256.67 L277.04 257.01 L277.25 257.36 L277.47 257.71 L277.69 258.06 L277.91 258.41 L278.13 258.76 L278.35 259.12 L278.57 259.48 L278.79 259.84 L279.01 260.20 L279.22 260.56 L279.44 260.93 L279.66 261.29 L279.88 261.66 L280.10 262.03 L280.32 262.41 L280.54 262.78 L280.76 263.16 L280.98 263.54 L281.19 263.92 L281.41 264.30 L281.63 264.68 L281.85 265.07 L282.07 265.46 L282.29 265.85 L282.51 266.24 L282.73 266.64 L282.95 267.03 L283.17 267.43 L283.38 267.83 L283.60 268.23 L283.82 268.64 L284.04 269.04 L284.26 269.45 L284.48 269.86 L284.70 270.27 L284.92 270.69 L285.14 271.10 L285.35 271.52 L285.57 271.94 L285.79 272.36 L286.01 272.79 L286.23 273.21 L286.45 273.64 L286.67 274.07 L286.89 274.51 L287.11 274.94 L287.32 275.38 L287.54 275.82 L287.76 276.26 L287.98 276.70 L288.20 277.14 L288.42 277.59 L288.64 278.04 L288.86 278.49 L289.08 278.94 L289.30 279.40 L289.51 279.86 L289.73 280.32 L289.95 280.78 L290.17 281.24 L290.39 281.71 L290.61 282.18 L290.83 282.65 L290.88 282.76" stroke="#ff0000" stroke-width="2.95"/>
<path d="M52.99 269.11 L53.02 268.78 L53.05 268.51M53.49 264.25 L53.49 264.19 L53.55 263.66M54.09 259.40 L54.09 259.40 L54.17 258.81M54.84 254.56 L54.87 254.39 L54.94 253.97M55.81 249.75 L55.84 249.64 L55.95 249.17M57.12 245.01 L57.12 245.01 L57.31 244.45 L57.31 244.45M58.96 240.44 L58.96 240.42 L59.15 240.05 L59.23 239.90M61.57 236.23 L61.59 236.20 L61.78 235.97 L61.94 235.77M65.06 232.69 L65.09 232.66 L65.28 232.51 L65.47 232.36 L65.53 232.31M69.24 229.84 L69.25 229.83 L69.44 229.72 L69.63 229.62 L69.76 229.54M73.81 227.44 L73.82 227.44 L74.00 227.35 L74.19 227.26 L74.35 227.19M78.58 225.24 L78.60 225.23 L78.79 225.14 L78.97 225.06 L79.13 224.99M83.46 223.03 L83.48 223.03 L83.66 222.94 L83.85 222.86 L84.01 222.78M88.36 220.76 L88.39 220.75 L88.57 220.66 L88.76 220.57 L88.90 220.50M93.21 218.38 L93.23 218.37 L93.42 218.28 L93.61 218.18 L93.75 218.11M98.00 215.88 L98.02 215.87 L98.20 215.77 L98.39 215.66 L98.53 215.59M102.71 213.24 L102.74 213.22 L102.93 213.11 L103.11 213.00 L103.23 212.94M107.35 210.46 L107.37 210.45 L107.55 210.33 L107.74 210.22 L107.86 210.14M111.90 207.55 L111.93 207.53 L112.12 207.41 L112.31 207.28 L112.40 207.22M116.37 204.52 L116.40 204.50 L116.59 204.36 L116.78 204.23 L116.86 204.17M120.76 201.36 L120.78 201.35 L120.97 201.21 L121.15 201.07 L121.24 201.00M125.07 198.09 L125.09 198.07 L125.28 197.92 L125.47 197.77 L125.54 197.72M129.29 194.72 L129.31 194.69 L129.50 194.54 L129.69 194.39 L129.75 194.33M133.43 191.24 L133.44 191.23 L133.63 191.07 L133.82 190.91 L133.89 190.85M137.50 187.68 L137.51 187.67 L137.69 187.50 L137.88 187.33 L137.94 187.28M141.49 184.03 L141.51 184.01 L141.70 183.83 L141.88 183.65 L141.93 183.62M145.40 180.29 L145.42 180.28 L145.61 180.10 L145.79 179.92 L145.83 179.88M149.25 176.49 L149.26 176.48 L149.45 176.29 L149.64 176.10 L149.67 176.06M153.03 172.62 L153.05 172.60 L153.23 172.40 L153.42 172.20 L153.44 172.18M156.74 168.68 L156.77 168.64 L156.96 168.44 L157.14 168.24 L157.14 168.24M160.38 164.68 L160.39 164.67 L160.58 164.46 L160.77 164.25 L160.78 164.23M163.97 160.62 L163.99 160.60 L164.18 160.38 L164.36 160.17M167.49 156.52 L167.49 156.52 L167.68 156.29 L167.87 156.07 L167.88 156.06M170.96 152.36 L170.96 152.36 L171.15 152.13 L171.34 151.90 L171.34 151.90M174.37 148.16 L174.37 148.16 L174.56 147.92 L174.74 147.69M177.73 143.91 L177.75 143.89 L177.94 143.65 L178.10 143.44M181.03 139.62 L181.06 139.59 L181.25 139.34 L181.40 139.15M184.29 135.30 L184.31 135.27 L184.50 135.02 L184.65 134.82M187.50 130.94 L187.50 130.93 L187.69 130.68 L187.85 130.45M190.66 126.54 L190.69 126.50 L190.88 126.24 L191.01 126.05M193.78 122.11 L193.79 122.10 L193.98 121.84 L194.13 121.62M196.86 117.65 L196.88 117.62 L197.07 117.34 L197.20 117.16M199.89 113.17 L199.92 113.13 L200.10 112.85 L200.23 112.67M202.89 108.65 L202.89 108.65 L203.07 108.36 L203.21 108.15M205.84 104.11 L205.86 104.08 L206.04 103.79 L206.16 103.60M208.76 99.54 L208.76 99.53 L208.95 99.23 L209.08 99.04M211.64 94.95 L211.64 94.95 L211.83 94.65 L211.95 94.44M214.48 90.34 L214.49 90.34 L214.67 90.03 L214.80 89.83M217.29 85.71 L217.30 85.70 L217.49 85.39 L217.60 85.19M220.07 81.05 L220.08 81.04 L220.27 80.72 L220.38 80.54M222.82 76.38 L222.84 76.35 L223.02 76.03 L223.12 75.86M225.53 71.69 L225.56 71.65 L225.74 71.33 L225.83 71.17M228.22 66.98 L228.24 66.94 L228.43 66.60 L228.52 66.46M230.88 62.25 L230.90 62.21 L231.09 61.87 L231.17 61.73M233.50 57.51 L233.53 57.46 L233.72 57.12 L233.79 56.98M236.10 52.75 L236.12 52.71 L236.31 52.37 L236.39 52.22M238.68 47.98 L238.69 47.95 L238.88 47.60 L238.96 47.45M241.22 43.19 L241.25 43.13 L241.44 42.78 L241.50 42.66M243.74 38.39 L243.75 38.37 L243.94 38.01 L244.02 37.86M246.24 33.57 L246.25 33.54 L246.44 33.18 L246.51 33.04M248.71 28.74 L248.72 28.72 L248.91 28.35 L248.98 28.21M251.16 23.90 L251.16 23.90 L251.35 23.53 L251.43 23.37M253.59 19.05 L253.60 19.02 L253.79 18.64 L253.85 18.51M255.99 14.19 L256.01 14.15 L256.20 13.77 L256.26 13.65M258.37 9.31 L258.39 9.29 L258.57 8.90 L258.64 8.77M260.73 4.43 L260.76 4.37 L260.95 3.98 L260.99 3.89M263.07 -0.47 L263.08 -0.47 L263.26 -0.87 L263.33 -1.01" stroke="#7a7a7a" stroke-width="1.65" stroke-linecap="round"/>
<path d="M47.36 235.18 L47.36 235.18 L47.55 235.18 L47.74 235.17 L47.93 235.17 L48.11 235.16 L48.30 235.16 L48.49 235.15 L48.68 235.15 L48.86 235.14 L49.05 235.13 L49.24 235.13 L49.43 235.12 L49.61 235.11 L49.80 235.10 L49.99 235.10 L50.18 235.09 L50.37 235.08 L50.55 235.07 L50.74 235.06 L50.93 235.05 L51.12 235.04 L51.30 235.03 L51.49 235.02 L51.68 235.01 L51.87 234.99 L52.05 234.98 L52.24 234.97 L52.38 234.96M55.17 234.73 L55.18 234.73 L55.37 234.72 L55.56 234.70 L55.74 234.68 L55.93 234.66 L56.12 234.64 L56.31 234.62 L56.49 234.60 L56.68 234.58 L56.87 234.56 L57.06 234.54 L57.24 234.52 L57.43 234.50 L57.62 234.47 L57.81 234.45 L57.99 234.43 L58.18 234.40 L58.37 234.38 L58.56 234.36 L58.74 234.33 L58.93 234.31 L59.12 234.28 L59.31 234.26 L59.50 234.23 L59.68 234.21 L59.87 234.18 L60.06 234.16 L60.16 234.14M63.09 233.68 L63.09 233.68 L63.28 233.65 L63.47 233.62 L63.65 233.58 L63.84 233.55 L64.03 233.52 L64.22 233.48 L64.40 233.45 L64.59 233.41 L64.78 233.38 L64.97 233.34 L65.15 233.31 L65.34 233.27 L65.53 233.23 L65.72 233.20 L65.91 233.16 L66.09 233.12 L66.28 233.08 L66.47 233.05 L66.66 233.01 L66.84 232.97 L67.03 232.93 L67.22 232.89 L67.41 232.85 L67.59 232.81 L67.78 232.77 L67.97 232.73 L68.03 232.72M71.07 232.00 L71.10 232.00 L71.28 231.95 L71.47 231.91 L71.66 231.86 L71.85 231.81 L72.03 231.76 L72.22 231.71 L72.41 231.66 L72.60 231.62 L72.78 231.57 L72.97 231.52 L73.16 231.47 L73.35 231.41 L73.53 231.36 L73.72 231.31 L73.91 231.26 L74.10 231.21 L74.28 231.16 L74.47 231.10 L74.66 231.05 L74.85 231.00 L75.04 230.94 L75.22 230.89 L75.41 230.84 L75.60 230.78 L75.79 230.73 L75.93 230.68M79.08 229.70 L79.10 229.70 L79.29 229.64 L79.48 229.58 L79.66 229.51 L79.85 229.45 L80.04 229.39 L80.23 229.33 L80.41 229.26 L80.60 229.20 L80.79 229.14 L80.98 229.07 L81.16 229.01 L81.35 228.94 L81.54 228.88 L81.73 228.81 L81.91 228.74 L82.10 228.68 L82.29 228.61 L82.48 228.54 L82.66 228.48 L82.85 228.41 L83.04 228.34 L83.23 228.27 L83.41 228.20 L83.60 228.13 L83.79 228.06 L83.83 228.05M87.08 226.79 L87.10 226.78 L87.29 226.71 L87.48 226.63 L87.67 226.55 L87.85 226.48 L88.04 226.40 L88.23 226.32 L88.42 226.24 L88.61 226.16 L88.79 226.09 L88.98 226.01 L89.17 225.93 L89.36 225.85 L89.54 225.77 L89.73 225.69 L89.92 225.61 L90.11 225.53 L90.29 225.45 L90.48 225.36 L90.67 225.28 L90.86 225.20 L91.04 225.12 L91.23 225.03 L91.42 224.95 L91.61 224.87 L91.72 224.82M95.07 223.26 L95.08 223.26 L95.26 223.17 L95.45 223.08 L95.64 222.99 L95.83 222.90 L96.02 222.80 L96.20 222.71 L96.39 222.62 L96.58 222.53 L96.77 222.43 L96.95 222.34 L97.14 222.25 L97.33 222.15 L97.52 222.06 L97.70 221.96 L97.89 221.87 L98.08 221.77 L98.27 221.68 L98.45 221.58 L98.64 221.49 L98.83 221.39 L99.02 221.29 L99.20 221.19 L99.39 221.10 L99.57 221.00M103.04 219.13 L103.05 219.12 L103.24 219.02 L103.43 218.91 L103.61 218.81 L103.80 218.70 L103.99 218.60 L104.18 218.49 L104.36 218.38 L104.55 218.27 L104.74 218.17 L104.93 218.06 L105.11 217.95 L105.30 217.84 L105.49 217.73 L105.68 217.63 L105.86 217.52 L106.05 217.41 L106.24 217.30 L106.43 217.19 L106.61 217.07 L106.80 216.96 L106.99 216.85 L107.18 216.74 L107.37 216.63 L107.40 216.61M110.95 214.42 L110.96 214.41 L111.15 214.29 L111.34 214.17 L111.52 214.05 L111.71 213.93 L111.90 213.81 L112.09 213.69 L112.27 213.57 L112.46 213.45 L112.65 213.33 L112.84 213.21 L113.02 213.08 L113.21 212.96 L113.40 212.84 L113.59 212.71 L113.78 212.59 L113.96 212.47 L114.15 212.34 L114.34 212.22 L114.53 212.09 L114.71 211.97 L114.90 211.84 L115.09 211.71 L115.16 211.67M118.78 209.16 L118.81 209.14 L119.00 209.01 L119.18 208.87 L119.37 208.74 L119.56 208.61 L119.75 208.47 L119.93 208.34 L120.12 208.20 L120.31 208.07 L120.50 207.93 L120.69 207.79 L120.87 207.66 L121.06 207.52 L121.25 207.38 L121.44 207.24 L121.62 207.11 L121.81 206.97 L122.00 206.83 L122.19 206.69 L122.37 206.55 L122.56 206.41 L122.75 206.27 L122.84 206.20M126.48 203.42 L126.50 203.40 L126.69 203.25 L126.88 203.10 L127.06 202.96 L127.25 202.81 L127.44 202.66 L127.63 202.51 L127.81 202.36 L128.00 202.21 L128.19 202.06 L128.38 201.91 L128.56 201.76 L128.75 201.61 L128.94 201.46 L129.13 201.31 L129.31 201.15 L129.50 201.00 L129.69 200.85 L129.88 200.70 L130.07 200.54 L130.25 200.39 L130.38 200.28M133.93 197.31 L133.94 197.30 L134.13 197.14 L134.32 196.98 L134.51 196.82 L134.69 196.65 L134.88 196.49 L135.07 196.33 L135.26 196.17 L135.44 196.00 L135.63 195.84 L135.82 195.68 L136.01 195.51 L136.19 195.35 L136.38 195.18 L136.57 195.02 L136.76 194.85 L136.94 194.69 L137.13 194.52 L137.32 194.35 L137.51 194.19 L137.69 194.02 L137.70 194.02M141.14 190.89 L141.17 190.87 L141.35 190.69 L141.54 190.52 L141.73 190.34 L141.92 190.17 L142.10 189.99 L142.29 189.82 L142.48 189.64 L142.67 189.47 L142.85 189.29 L143.04 189.11 L143.23 188.94 L143.42 188.76 L143.60 188.58 L143.79 188.40 L143.98 188.22 L144.17 188.04 L144.35 187.87 L144.54 187.69 L144.73 187.51 L144.78 187.45M148.13 184.18 L148.14 184.18 L148.33 183.99 L148.51 183.81 L148.70 183.62 L148.89 183.43 L149.08 183.24 L149.26 183.06 L149.45 182.87 L149.64 182.68 L149.83 182.49 L150.01 182.30 L150.20 182.11 L150.39 181.92 L150.58 181.73 L150.76 181.54 L150.95 181.35 L151.14 181.16 L151.33 180.96 L151.51 180.77 L151.66 180.63M154.91 177.23 L154.92 177.22 L155.11 177.02 L155.30 176.82 L155.49 176.62 L155.67 176.42 L155.86 176.22 L156.05 176.02 L156.24 175.82 L156.42 175.62 L156.61 175.42 L156.80 175.22 L156.99 175.02 L157.17 174.81 L157.36 174.61 L157.55 174.41 L157.74 174.20 L157.92 174.00 L158.11 173.80 L158.30 173.59 L158.32 173.57M161.49 170.06 L161.52 170.03 L161.71 169.82 L161.90 169.61 L162.08 169.40 L162.27 169.18 L162.46 168.97 L162.65 168.76 L162.83 168.55 L163.02 168.33 L163.21 168.12 L163.40 167.91 L163.58 167.69 L163.77 167.48 L163.96 167.26 L164.15 167.05 L164.33 166.83 L164.52 166.62 L164.71 166.40 L164.80 166.30M167.89 162.69 L167.90 162.68 L168.09 162.45 L168.27 162.23 L168.46 162.01 L168.65 161.78 L168.84 161.56 L169.02 161.34 L169.21 161.11 L169.40 160.89 L169.59 160.66 L169.77 160.44 L169.96 160.21 L170.15 159.99 L170.34 159.76 L170.53 159.53 L170.71 159.31 L170.90 159.08 L171.09 158.85 L171.09 158.85M174.11 155.14 L174.12 155.12 L174.31 154.89 L174.50 154.66 L174.68 154.42 L174.87 154.19 L175.06 153.95 L175.25 153.72 L175.43 153.48 L175.62 153.25 L175.81 153.01 L176.00 152.77 L176.18 152.54 L176.37 152.30 L176.56 152.06 L176.75 151.82 L176.93 151.59 L177.12 151.35 L177.22 151.22M180.15 147.45 L180.16 147.44 L180.34 147.20 L180.53 146.95 L180.72 146.71 L180.91 146.46 L181.09 146.22 L181.28 145.97 L181.47 145.72 L181.66 145.48 L181.84 145.23 L182.03 144.98 L182.22 144.74 L182.41 144.49 L182.59 144.24 L182.78 143.99 L182.97 143.74 L183.16 143.49 L183.16 143.48M185.96 139.73 L185.97 139.71 L186.16 139.45 L186.35 139.20 L186.53 138.94 L186.72 138.69 L186.91 138.43 L187.10 138.17 L187.28 137.92 L187.47 137.66 L187.66 137.40 L187.85 137.14 L188.03 136.88 L188.22 136.63 L188.41 136.37 L188.60 136.11 L188.79 135.85 L188.89 135.70M191.54 131.99 L191.57 131.96 L191.76 131.69 L191.94 131.42 L192.13 131.16 L192.32 130.89 L192.51 130.63 L192.69 130.36 L192.88 130.09 L193.07 129.82 L193.26 129.56 L193.44 129.29 L193.63 129.02 L193.82 128.75 L194.01 128.48 L194.19 128.21 L194.38 127.94 L194.40 127.91M196.92 124.25 L196.95 124.22 L197.13 123.95 L197.32 123.67 L197.51 123.40 L197.70 123.12 L197.88 122.84 L198.07 122.57 L198.26 122.29 L198.45 122.01 L198.63 121.73 L198.82 121.46 L199.01 121.18 L199.20 120.90 L199.38 120.62 L199.57 120.34 L199.72 120.13M202.12 116.52 L202.14 116.49 L202.32 116.21 L202.51 115.92 L202.70 115.64 L202.89 115.35 L203.07 115.07 L203.26 114.78 L203.45 114.49 L203.64 114.21 L203.82 113.92 L204.01 113.63 L204.20 113.35 L204.39 113.06 L204.58 112.77 L204.76 112.48 L204.85 112.35M207.13 108.80 L207.14 108.79 L207.33 108.50 L207.51 108.21 L207.70 107.91 L207.89 107.62 L208.08 107.32 L208.26 107.03 L208.45 106.73 L208.64 106.44 L208.83 106.14 L209.01 105.85 L209.20 105.55 L209.39 105.25 L209.58 104.96 L209.77 104.66 L209.80 104.60M211.99 101.11 L212.02 101.06 L212.20 100.76 L212.39 100.45 L212.58 100.15 L212.77 99.85 L212.95 99.54 L213.14 99.24 L213.33 98.94 L213.52 98.63 L213.71 98.33 L213.89 98.02 L214.08 97.72 L214.27 97.41 L214.46 97.10 L214.60 96.86M216.69 93.43 L216.71 93.40 L216.89 93.09 L217.08 92.78 L217.27 92.47 L217.46 92.16 L217.64 91.85 L217.83 91.53 L218.02 91.22 L218.21 90.91 L218.40 90.59 L218.58 90.28 L218.77 89.97 L218.96 89.65 L219.15 89.34 L219.26 89.15M221.27 85.74 L221.30 85.69 L221.49 85.37 L221.68 85.05 L221.87 84.74 L222.05 84.42 L222.24 84.09 L222.43 83.77 L222.62 83.45 L222.80 83.13 L222.99 82.81 L223.18 82.49 L223.37 82.17 L223.55 81.84 L223.74 81.52 L223.79 81.43M225.75 78.05 L225.77 78.00 L225.96 77.67 L226.15 77.34 L226.34 77.02 L226.52 76.69 L226.71 76.36 L226.90 76.03 L227.09 75.70 L227.27 75.37 L227.46 75.04 L227.65 74.71 L227.84 74.38 L228.03 74.05 L228.21 73.72 L228.22 73.71M230.11 70.35 L230.12 70.33 L230.31 70.00 L230.50 69.66 L230.68 69.33 L230.87 68.99 L231.06 68.66 L231.25 68.32 L231.43 67.98 L231.62 67.64 L231.81 67.31 L232.00 66.97 L232.18 66.63 L232.37 66.29 L232.54 65.98M234.38 62.64 L234.40 62.60 L234.59 62.26 L234.78 61.91 L234.97 61.57 L235.15 61.23 L235.34 60.88 L235.53 60.54 L235.72 60.19 L235.90 59.85 L236.09 59.50 L236.28 59.16 L236.47 58.81 L236.66 58.47 L236.77 58.26M238.56 54.94 L238.56 54.92 L238.75 54.57 L238.94 54.22 L239.13 53.87 L239.31 53.52 L239.50 53.17 L239.69 52.82 L239.88 52.47 L240.06 52.11 L240.25 51.76 L240.44 51.41 L240.63 51.05 L240.81 50.70 L240.90 50.53M242.64 47.23 L242.66 47.20 L242.85 46.84 L243.03 46.48 L243.22 46.13 L243.41 45.77 L243.60 45.41 L243.78 45.05 L243.97 44.69 L244.16 44.33 L244.35 43.97 L244.53 43.61 L244.72 43.25 L244.91 42.89 L244.95 42.81M246.64 39.54 L246.66 39.50 L246.85 39.13 L247.04 38.77 L247.22 38.40 L247.41 38.03 L247.60 37.67 L247.79 37.30 L247.97 36.93 L248.16 36.57 L248.35 36.20 L248.54 35.83 L248.72 35.46 L248.91 35.09 L248.91 35.09M250.56 31.84 L250.57 31.82 L250.76 31.45 L250.94 31.08 L251.13 30.71 L251.32 30.33 L251.51 29.96 L251.69 29.59 L251.88 29.21 L252.07 28.84 L252.26 28.46 L252.45 28.09 L252.63 27.71 L252.80 27.38M254.41 24.15 L254.41 24.13 L254.60 23.75 L254.79 23.37 L254.98 22.99 L255.17 22.61 L255.35 22.23 L255.54 21.85 L255.73 21.47 L255.92 21.09 L256.10 20.71 L256.29 20.32 L256.48 19.94 L256.61 19.66M258.19 16.43 L258.20 16.42 L258.39 16.03 L258.57 15.65 L258.76 15.26 L258.95 14.87 L259.14 14.49 L259.32 14.10 L259.51 13.71 L259.70 13.32 L259.89 12.94 L260.07 12.55 L260.26 12.16 L260.37 11.93M261.93 8.68 L261.95 8.64 L262.14 8.25 L262.33 7.85 L262.51 7.46 L262.70 7.07 L262.89 6.67 L263.08 6.28 L263.26 5.88 L263.45 5.49 L263.64 5.09 L263.83 4.70 L264.01 4.30 L264.08 4.17M265.61 0.91 L265.64 0.85 L265.83 0.46 L266.02 0.06 L266.20 -0.34 L266.39 -0.74 L266.58 -1.15 L266.77 -1.55 L266.95 -1.95 L267.14 -2.35 L267.33 -2.75" stroke="#000000" stroke-width="1.5"/>
<path d="M53.87 -15.50 L54.12 -0.67 L54.37 12.94 L54.62 25.45 L54.87 36.99 L55.12 47.66 L55.37 57.53 L55.62 66.69 L55.87 75.20 L56.12 83.12 L56.37 90.50 L56.62 97.40 L56.87 103.85 L57.12 109.89 L57.37 115.56 L57.62 120.88 L57.87 125.88 L58.12 130.59 L58.37 135.03 L58.62 139.21 L58.87 143.17 L59.12 146.90 L59.37 150.44 L59.62 153.79 L59.87 156.97 L60.12 159.98 L60.37 162.85 L60.62 165.57 L60.87 168.15 L61.12 170.62 L61.37 172.96 L61.62 175.20 L61.87 177.34 L62.12 179.37 L62.37 181.32 L62.62 183.18 L62.87 184.95 L63.12 186.65 L63.37 188.28 L63.62 189.84 L63.87 191.33 L64.12 192.77 L64.37 194.14 L64.62 195.46 L64.87 196.72 L65.13 197.94 L65.38 199.11 L65.63 200.23 L65.88 201.31 L66.13 202.35 L66.38 203.35 L66.63 204.31 L66.88 205.23 L67.13 206.13 L67.38 206.98 L67.63 207.81 L67.88 208.61 L68.13 209.38 L68.38 210.12 L68.63 210.84 L68.88 211.53 L69.13 212.20 L69.38 212.84 L69.63 213.46 L69.88 214.06 L70.13 214.64 L70.38 215.20 L70.63 215.74 L70.88 216.27 L71.13 216.77 L71.38 217.26 L71.63 217.73 L71.88 218.19 L72.13 218.63 L72.38 219.06 L72.63 219.47 L72.88 219.87 L73.13 220.26 L73.38 220.63 L73.63 220.99 L73.88 221.34 L74.13 221.68 L74.38 222.01 L74.63 222.32 L74.88 222.63 L75.13 222.92 L75.38 223.21 L75.63 223.49 L75.88 223.75 L76.13 224.01 L76.38 224.26 L76.63 224.50 L76.88 224.74 L77.13 224.96 L77.38 225.18 L77.63 225.39 L77.88 225.60 L78.13 225.79 L78.38 225.98 L78.63 226.16 L78.88 226.34 L79.13 226.51 L79.38 226.67 L79.63 226.83 L79.88 226.98 L80.13 227.13 L80.38 227.27 L80.63 227.41 L80.88 227.54 L81.14 227.66 L81.39 227.78 L81.64 227.90 L81.89 228.01 L82.14 228.11 L82.39 228.21 L82.64 228.31 L82.89 228.40 L83.14 228.49 L83.39 228.58 L83.64 228.66 L83.89 228.73 L84.14 228.81 L84.39 228.87 L84.64 228.94 L84.89 229.00 L85.14 229.06 L85.39 229.11 L85.64 229.16 L85.89 229.21 L86.14 229.25 L86.39 229.30 L86.64 229.33 L86.89 229.37 L87.14 229.40 L87.39 229.43 L87.64 229.46 L87.89 229.48 L88.14 229.50 L88.39 229.52 L88.64 229.53 L88.89 229.54 L89.14 229.55 L89.39 229.56 L89.64 229.56 L89.89 229.57 L90.14 229.57 L90.39 229.56 L90.64 229.56 L90.89 229.55 L91.14 229.54 L91.39 229.53 L91.64 229.51 L91.89 229.50 L92.14 229.48 L92.39 229.46 L92.64 229.44 L92.89 229.41 L93.14 229.39 L93.39 229.36 L93.64 229.33 L93.89 229.29 L94.14 229.26 L94.39 229.22 L94.64 229.18 L94.89 229.14 L95.14 229.10 L95.39 229.06 L95.64 229.01 L95.89 228.97 L96.14 228.92 L96.39 228.87 L96.64 228.82 L96.90 228.76 L97.15 228.71 L97.40 228.65 L97.65 228.59 L97.90 228.53 L98.15 228.47 L98.40 228.41 L98.65 228.34 L98.90 228.27 L99.15 228.21 L99.40 228.14 L99.65 228.07 L99.90 228.00 L100.15 227.92 L100.40 227.85 L100.65 227.77 L100.90 227.69 L101.15 227.61 L101.40 227.53 L101.65 227.45 L101.90 227.37 L102.15 227.28 L102.40 227.20 L102.65 227.11 L102.90 227.02 L103.15 226.93 L103.40 226.84 L103.65 226.75 L103.90 226.66 L104.15 226.56 L104.40 226.47 L104.65 226.37 L104.90 226.27 L105.15 226.18 L105.40 226.08 L105.65 225.97 L105.90 225.87 L106.15 225.77 L106.40 225.66 L106.65 225.56 L106.90 225.45 L107.15 225.34 L107.40 225.23 L107.65 225.12 L107.90 225.01 L108.15 224.90 L108.40 224.78 L108.65 224.67 L108.90 224.55 L109.15 224.44 L109.40 224.32 L109.65 224.20 L109.90 224.08 L110.15 223.96 L110.40 223.84 L110.65 223.72 L110.90 223.59 L111.15 223.47 L111.40 223.34 L111.65 223.21 L111.90 223.09 L112.15 222.96 L112.40 222.83 L112.66 222.70 L112.91 222.57 L113.16 222.43 L113.41 222.30 L113.66 222.16 L113.91 222.03 L114.16 221.89 L114.41 221.76 L114.66 221.62 L114.91 221.48 L115.16 221.34 L115.41 221.20 L115.66 221.06 L115.91 220.91 L116.16 220.77 L116.41 220.62 L116.66 220.48 L116.91 220.33 L117.16 220.19 L117.41 220.04 L117.66 219.89 L117.91 219.74 L118.16 219.59 L118.41 219.44 L118.66 219.28 L118.91 219.13 L119.16 218.98 L119.41 218.82 L119.66 218.67 L119.91 218.51 L120.16 218.35 L120.41 218.19 L120.66 218.03 L120.91 217.87 L121.16 217.71 L121.41 217.55 L121.66 217.39 L121.91 217.23 L122.16 217.06 L122.41 216.90 L122.66 216.73 L122.91 216.57 L123.16 216.40 L123.41 216.23 L123.66 216.06 L123.91 215.89 L124.16 215.72 L124.41 215.55 L124.66 215.38 L124.91 215.21 L125.16 215.03 L125.41 214.86 L125.66 214.68 L125.91 214.51 L126.16 214.33 L126.41 214.15 L126.66 213.97 L126.91 213.79 L127.16 213.61 L127.41 213.43 L127.66 213.25 L127.91 213.07 L128.16 212.89 L128.42 212.70 L128.67 212.52 L128.92 212.34 L129.17 212.15 L129.42 211.96 L129.67 211.78 L129.92 211.59 L130.17 211.40 L130.42 211.21 L130.67 211.02 L130.92 210.83 L131.17 210.64 L131.42 210.44 L131.67 210.25 L131.92 210.06 L132.17 209.86 L132.42 209.67 L132.67 209.47 L132.92 209.27 L133.17 209.07 L133.42 208.88 L133.67 208.68 L133.92 208.48 L134.17 208.28 L134.42 208.08 L134.67 207.87 L134.92 207.67 L135.17 207.47 L135.42 207.26 L135.67 207.06 L135.92 206.85 L136.17 206.65 L136.42 206.44 L136.67 206.23 L136.92 206.02 L137.17 205.81 L137.42 205.60 L137.67 205.39 L137.92 205.18 L138.17 204.97 L138.42 204.76 L138.67 204.54 L138.92 204.33 L139.17 204.12 L139.42 203.90 L139.67 203.68 L139.92 203.47 L140.17 203.25 L140.42 203.03 L140.67 202.81 L140.92 202.59 L141.17 202.37 L141.42 202.15 L141.67 201.93 L141.92 201.71 L142.17 201.49 L142.42 201.26 L142.67 201.04 L142.92 200.81 L143.17 200.59 L143.42 200.36 L143.67 200.13 L143.92 199.90 L144.18 199.68 L144.43 199.45 L144.68 199.22 L144.93 198.99 L145.18 198.76 L145.43 198.52 L145.68 198.29 L145.93 198.06 L146.18 197.82 L146.43 197.59 L146.68 197.35 L146.93 197.12 L147.18 196.88 L147.43 196.64 L147.68 196.41 L147.93 196.17 L148.18 195.93 L148.43 195.69 L148.68 195.45 L148.93 195.21 L149.18 194.96 L149.43 194.72 L149.68 194.48 L149.93 194.23 L150.18 193.99 L150.43 193.74 L150.68 193.50 L150.93 193.25 L151.18 193.00 L151.43 192.76 L151.68 192.51 L151.93 192.26 L152.18 192.01 L152.43 191.76 L152.68 191.51 L152.93 191.26 L153.18 191.00 L153.43 190.75 L153.68 190.50 L153.93 190.24 L154.18 189.99 L154.43 189.73 L154.68 189.47 L154.93 189.22 L155.18 188.96 L155.43 188.70 L155.68 188.44 L155.93 188.18 L156.18 187.92 L156.43 187.66 L156.68 187.40 L156.93 187.14 L157.18 186.87 L157.43 186.61 L157.68 186.34 L157.93 186.08 L158.18 185.81 L158.43 185.55 L158.68 185.28 L158.93 185.01 L159.18 184.75 L159.43 184.48 L159.68 184.21 L159.94 183.94 L160.19 183.67 L160.44 183.39 L160.69 183.12 L160.94 182.85 L161.19 182.58 L161.44 182.30 L161.69 182.03 L161.94 181.75 L162.19 181.48 L162.44 181.20 L162.69 180.92 L162.94 180.64 L163.19 180.37 L163.44 180.09 L163.69 179.81 L163.94 179.53 L164.19 179.25 L164.44 178.96 L164.69 178.68 L164.94 178.40 L165.19 178.11 L165.44 177.83 L165.69 177.55 L165.94 177.26 L166.19 176.97 L166.44 176.69 L166.69 176.40 L166.94 176.11 L167.19 175.82 L167.44 175.53 L167.69 175.24 L167.94 174.95 L168.19 174.66 L168.44 174.37 L168.69 174.08 L168.94 173.78 L169.19 173.49 L169.44 173.19 L169.69 172.90 L169.94 172.60 L170.19 172.31 L170.44 172.01 L170.69 171.71 L170.94 171.41 L171.19 171.12 L171.44 170.82 L171.69 170.52 L171.94 170.22 L172.19 169.91 L172.44 169.61 L172.69 169.31 L172.94 169.01 L173.19 168.70 L173.44 168.40 L173.69 168.09 L173.94 167.79 L174.19 167.48 L174.44 167.17 L174.69 166.86 L174.94 166.56 L175.19 166.25 L175.44 165.94 L175.69 165.63 L175.95 165.32 L176.20 165.00 L176.45 164.69 L176.70 164.38 L176.95 164.07 L177.20 163.75 L177.45 163.44 L177.70 163.12 L177.95 162.81 L178.20 162.49 L178.45 162.17 L178.70 161.85 L178.95 161.54 L179.20 161.22 L179.45 160.90 L179.70 160.58 L179.95 160.26 L180.20 159.93 L180.45 159.61 L180.70 159.29 L180.95 158.97 L181.20 158.64 L181.45 158.32 L181.70 157.99 L181.95 157.67 L182.20 157.34 L182.45 157.01 L182.70 156.68 L182.95 156.36 L183.20 156.03 L183.45 155.70 L183.70 155.37 L183.95 155.04 L184.20 154.70 L184.45 154.37 L184.70 154.04 L184.95 153.71 L185.20 153.37 L185.45 153.04 L185.70 152.70 L185.95 152.37 L186.20 152.03 L186.45 151.69 L186.70 151.35 L186.95 151.02 L187.20 150.68 L187.45 150.34 L187.70 150.00 L187.95 149.66 L188.20 149.31 L188.45 148.97 L188.70 148.63 L188.95 148.29 L189.20 147.94 L189.45 147.60 L189.70 147.25 L189.95 146.91 L190.20 146.56 L190.45 146.21 L190.70 145.86 L190.95 145.52 L191.20 145.17 L191.45 144.82 L191.71 144.47 L191.96 144.12 L192.21 143.76 L192.46 143.41 L192.71 143.06 L192.96 142.71 L193.21 142.35 L193.46 142.00 L193.71 141.64 L193.96 141.29 L194.21 140.93 L194.46 140.57 L194.71 140.22 L194.96 139.86 L195.21 139.50 L195.46 139.14 L195.71 138.78 L195.96 138.42 L196.21 138.06 L196.46 137.69 L196.71 137.33 L196.96 136.97 L197.21 136.61 L197.46 136.24 L197.71 135.88 L197.96 135.51 L198.21 135.14 L198.46 134.78 L198.71 134.41 L198.96 134.04 L199.21 133.67 L199.46 133.30 L199.71 132.93 L199.96 132.56 L200.21 132.19 L200.46 131.82 L200.71 131.45 L200.96 131.07 L201.21 130.70 L201.46 130.33 L201.71 129.95 L201.96 129.57 L202.21 129.20 L202.46 128.82 L202.71 128.44 L202.96 128.07 L203.21 127.69 L203.46 127.31 L203.71 126.93 L203.96 126.55 L204.21 126.17 L204.46 125.78 L204.71 125.40 L204.96 125.02 L205.21 124.64 L205.46 124.25 L205.71 123.87 L205.96 123.48 L206.21 123.10 L206.46 122.71 L206.71 122.32 L206.96 121.93 L207.21 121.55 L207.47 121.16 L207.72 120.77 L207.97 120.38 L208.22 119.98 L208.47 119.59 L208.72 119.20 L208.97 118.81 L209.22 118.41 L209.47 118.02 L209.72 117.63 L209.97 117.23 L210.22 116.83 L210.47 116.44 L210.72 116.04 L210.97 115.64 L211.22 115.25 L211.47 114.85 L211.72 114.45 L211.97 114.05 L212.22 113.65 L212.47 113.24 L212.72 112.84 L212.97 112.44 L213.22 112.04 L213.47 111.63 L213.72 111.23 L213.97 110.82 L214.22 110.42 L214.47 110.01 L214.72 109.60 L214.97 109.20 L215.22 108.79 L215.47 108.38 L215.72 107.97 L215.97 107.56 L216.22 107.15 L216.47 106.74 L216.72 106.33 L216.97 105.91 L217.22 105.50 L217.47 105.09 L217.72 104.67 L217.97 104.26 L218.22 103.84 L218.47 103.43 L218.72 103.01 L218.97 102.59 L219.22 102.17 L219.47 101.76 L219.72 101.34 L219.97 100.92 L220.22 100.50 L220.47 100.08 L220.72 99.65 L220.97 99.23 L221.22 98.81 L221.47 98.39 L221.72 97.96 L221.97 97.54 L222.22 97.11 L222.47 96.69 L222.72 96.26 L222.97 95.83 L223.23 95.40 L223.48 94.98 L223.73 94.55 L223.98 94.12 L224.23 93.69 L224.48 93.26 L224.73 92.82 L224.98 92.39 L225.23 91.96 L225.48 91.53 L225.73 91.09 L225.98 90.66 L226.23 90.22 L226.48 89.79 L226.73 89.35 L226.98 88.91 L227.23 88.48 L227.48 88.04 L227.73 87.60 L227.98 87.16 L228.23 86.72 L228.48 86.28 L228.73 85.84 L228.98 85.40 L229.23 84.95 L229.48 84.51 L229.73 84.07 L229.98 83.62 L230.23 83.18 L230.48 82.73 L230.73 82.29 L230.98 81.84 L231.23 81.39 L231.48 80.95 L231.73 80.50 L231.98 80.05 L232.23 79.60 L232.48 79.15 L232.73 78.70 L232.98 78.24 L233.23 77.79 L233.48 77.34 L233.73 76.89 L233.98 76.43 L234.23 75.98 L234.48 75.52 L234.73 75.07 L234.98 74.61 L235.23 74.15 L235.48 73.70 L235.73 73.24 L235.98 72.78 L236.23 72.32 L236.48 71.86 L236.73 71.40 L236.98 70.94 L237.23 70.47 L237.48 70.01 L237.73 69.55 L237.98 69.09 L238.23 68.62 L238.48 68.16 L238.73 67.69 L238.99 67.22 L239.24 66.76 L239.49 66.29 L239.74 65.82 L239.99 65.35 L240.24 64.88 L240.49 64.41 L240.74 63.94 L240.99 63.47 L241.24 63.00 L241.49 62.53 L241.74 62.06 L241.99 61.58 L242.24 61.11 L242.49 60.63 L242.74 60.16 L242.99 59.68 L243.24 59.20 L243.49 58.73 L243.74 58.25 L243.99 57.77 L244.24 57.29 L244.49 56.81 L244.74 56.33 L244.99 55.85 L245.24 55.37 L245.49 54.89 L245.74 54.41 L245.99 53.92 L246.24 53.44 L246.49 52.95 L246.74 52.47 L246.99 51.98 L247.24 51.50 L247.49 51.01 L247.74 50.52 L247.99 50.03 L248.24 49.55 L248.49 49.06 L248.74 48.57 L248.99 48.08 L249.24 47.58 L249.49 47.09 L249.74 46.60 L249.99 46.11 L250.24 45.61 L250.49 45.12 L250.74 44.62 L250.99 44.13 L251.24 43.63 L251.49 43.14 L251.74 42.64 L251.99 42.14 L252.24 41.64 L252.49 41.14 L252.74 40.64 L252.99 40.14 L253.24 39.64 L253.49 39.14 L253.74 38.64 L253.99 38.14 L254.24 37.63 L254.49 37.13 L254.75 36.62 L255.00 36.12 L255.25 35.61 L255.50 35.11 L255.75 34.60 L256.00 34.09 L256.25 33.58 L256.50 33.08 L256.75 32.57 L257.00 32.06 L257.25 31.55 L257.50 31.03 L257.75 30.52 L258.00 30.01 L258.25 29.50 L258.50 28.98 L258.75 28.47 L259.00 27.95 L259.25 27.44 L259.50 26.92 L259.75 26.41 L260.00 25.89 L260.25 25.37 L260.50 24.85 L260.75 24.33 L261.00 23.81 L261.25 23.29 L261.50 22.77 L261.75 22.25 L262.00 21.73 L262.25 21.20 L262.50 20.68 L262.75 20.16 L263.00 19.63 L263.25 19.11 L263.50 18.58 L263.75 18.06 L264.00 17.53 L264.25 17.00 L264.50 16.47 L264.75 15.94 L265.00 15.41 L265.25 14.88 L265.50 14.35 L265.75 13.82 L266.00 13.29 L266.25 12.76 L266.50 12.22 L266.75 11.69 L267.00 11.16 L267.25 10.62 L267.50 10.09 L267.75 9.55 L268.00 9.01 L268.25 8.48 L268.50 7.94 L268.75 7.40 L269.00 6.86 L269.25 6.32 L269.50 5.78 L269.75 5.24 L270.00 4.70 L270.25 4.15 L270.51 3.61 L270.76 3.07 L271.01 2.52 L271.26 1.98 L271.51 1.43 L271.76 0.89 L272.01 0.34 L272.26 -0.21 L272.51 -0.75 L272.76 -1.30 L273.01 -1.85 L273.26 -2.40 L273.51 -2.95 L273.76 -3.50 L274.01 -4.05 L274.26 -4.60 L274.51 -5.16 L274.76 -5.71 L275.01 -6.26 L275.26 -6.82 L275.51 -7.37 L275.76 -7.93 L276.01 -8.48 L276.26 -9.04 L276.51 -9.60 L276.76 -10.16 L277.01 -10.72 L277.26 -11.28 L277.51 -11.83 L277.76 -12.40 L278.01 -12.96 L278.26 -13.52 L278.51 -14.08 L278.76 -14.64 L279.01 -15.21 L279.26 -15.77 L279.51 -16.34 L279.51 -16.34" stroke="#000000" stroke-width="1.2"/>
<path d="M65.25 -16.06 L65.50 -8.95 L65.75 -2.10 L66.00 4.50 L66.25 10.86 L66.50 16.99 L66.75 22.91 L67.00 28.62 L67.25 34.14 L67.50 39.46 L67.75 44.61 L68.00 49.59 L68.25 54.40 L68.50 59.05 L68.75 63.55 L69.00 67.91 L69.25 72.13 L69.50 76.21 L69.75 80.17 L70.00 84.01 L70.25 87.73 L70.50 91.34 L70.75 94.83 L71.00 98.23 L71.25 101.52 L71.50 104.72 L71.75 107.82 L72.00 110.84 L72.25 113.77 L72.50 116.61 L72.75 119.38 L73.01 122.07 L73.26 124.68 L73.51 127.22 L73.76 129.70 L74.01 132.10 L74.26 134.45 L74.51 136.73 L74.76 138.95 L75.01 141.11 L75.26 143.21 L75.51 145.26 L75.76 147.26 L76.01 149.20 L76.26 151.10 L76.51 152.95 L76.76 154.75 L77.01 156.51 L77.26 158.22 L77.51 159.89 L77.76 161.53 L78.01 163.12 L78.26 164.67 L78.51 166.18 L78.76 167.66 L79.01 169.11 L79.26 170.52 L79.51 171.89 L79.76 173.24 L80.01 174.55 L80.26 175.83 L80.51 177.08 L80.76 178.31 L81.01 179.50 L81.26 180.67 L81.51 181.81 L81.76 182.93 L82.01 184.02 L82.26 185.08 L82.51 186.12 L82.76 187.14 L83.01 188.14 L83.26 189.11 L83.51 190.07 L83.76 191.00 L84.01 191.91 L84.26 192.80 L84.51 193.67 L84.76 194.53 L85.01 195.36 L85.26 196.18 L85.51 196.98 L85.76 197.76 L86.01 198.52 L86.26 199.27 L86.51 200.01 L86.76 200.72 L87.01 201.42 L87.26 202.11 L87.51 202.78 L87.76 203.44 L88.01 204.09 L88.26 204.72 L88.51 205.33 L88.76 205.94 L89.02 206.53 L89.27 207.11 L89.52 207.67 L89.77 208.23 L90.02 208.77 L90.27 209.30 L90.52 209.82 L90.77 210.33 L91.02 210.83 L91.27 211.32 L91.52 211.80 L91.77 212.26 L92.02 212.72 L92.27 213.17 L92.52 213.61 L92.77 214.04 L93.02 214.46 L93.27 214.87 L93.52 215.27 L93.77 215.67 L94.02 216.05 L94.27 216.43 L94.52 216.80 L94.77 217.16 L95.02 217.51 L95.27 217.86 L95.52 218.19 L95.77 218.52 L96.02 218.85 L96.27 219.16 L96.52 219.47 L96.77 219.77 L97.02 220.07 L97.27 220.36 L97.52 220.64 L97.77 220.92 L98.02 221.18 L98.27 221.45 L98.52 221.70 L98.77 221.96 L99.02 222.20 L99.27 222.44 L99.52 222.67 L99.77 222.90 L100.02 223.12 L100.27 223.34 L100.52 223.55 L100.77 223.76 L101.02 223.96 L101.27 224.16 L101.52 224.35 L101.77 224.53 L102.02 224.72 L102.27 224.89 L102.52 225.06 L102.77 225.23 L103.02 225.39 L103.27 225.55 L103.52 225.70 L103.77 225.85 L104.02 226.00 L104.27 226.14 L104.52 226.28 L104.78 226.41 L105.03 226.54 L105.28 226.66 L105.53 226.78 L105.78 226.90 L106.03 227.01 L106.28 227.12 L106.53 227.22 L106.78 227.33 L107.03 227.42 L107.28 227.52 L107.53 227.61 L107.78 227.70 L108.03 227.78 L108.28 227.86 L108.53 227.94 L108.78 228.01 L109.03 228.08 L109.28 228.15 L109.53 228.21 L109.78 228.27 L110.03 228.33 L110.28 228.39 L110.53 228.44 L110.78 228.49 L111.03 228.53 L111.28 228.57 L111.53 228.61 L111.78 228.65 L112.03 228.69 L112.28 228.72 L112.53 228.75 L112.78 228.77 L113.03 228.80 L113.28 228.82 L113.53 228.83 L113.78 228.85 L114.03 228.86 L114.28 228.87 L114.53 228.88 L114.78 228.88 L115.03 228.89 L115.28 228.89 L115.53 228.89 L115.78 228.88 L116.03 228.87 L116.28 228.87 L116.53 228.85 L116.78 228.84 L117.03 228.82 L117.28 228.81 L117.53 228.79 L117.78 228.76 L118.03 228.74 L118.28 228.71 L118.53 228.68 L118.78 228.65 L119.03 228.62 L119.28 228.58 L119.53 228.54 L119.78 228.51 L120.03 228.46 L120.28 228.42 L120.54 228.38 L120.79 228.33 L121.04 228.28 L121.29 228.23 L121.54 228.17 L121.79 228.12 L122.04 228.06 L122.29 228.00 L122.54 227.94 L122.79 227.88 L123.04 227.82 L123.29 227.75 L123.54 227.68 L123.79 227.61 L124.04 227.54 L124.29 227.47 L124.54 227.39 L124.79 227.32 L125.04 227.24 L125.29 227.16 L125.54 227.08 L125.79 227.00 L126.04 226.91 L126.29 226.82 L126.54 226.74 L126.79 226.65 L127.04 226.56 L127.29 226.46 L127.54 226.37 L127.79 226.27 L128.04 226.18 L128.29 226.08 L128.54 225.98 L128.79 225.87 L129.04 225.77 L129.29 225.67 L129.54 225.56 L129.79 225.45 L130.04 225.34 L130.29 225.23 L130.54 225.12 L130.79 225.01 L131.04 224.89 L131.29 224.78 L131.54 224.66 L131.79 224.54 L132.04 224.42 L132.29 224.30 L132.54 224.17 L132.79 224.05 L133.04 223.92 L133.29 223.79 L133.54 223.67 L133.79 223.54 L134.04 223.40 L134.29 223.27 L134.54 223.14 L134.79 223.00 L135.04 222.87 L135.29 222.73 L135.54 222.59 L135.79 222.45 L136.04 222.31 L136.30 222.17 L136.55 222.02 L136.80 221.88 L137.05 221.73 L137.30 221.58 L137.55 221.43 L137.80 221.28 L138.05 221.13 L138.30 220.98 L138.55 220.83 L138.80 220.67 L139.05 220.52 L139.30 220.36 L139.55 220.20 L139.80 220.04 L140.05 219.88 L140.30 219.72 L140.55 219.56 L140.80 219.39 L141.05 219.23 L141.30 219.06 L141.55 218.89 L141.80 218.73 L142.05 218.56 L142.30 218.39 L142.55 218.21 L142.80 218.04 L143.05 217.87 L143.30 217.69 L143.55 217.52 L143.80 217.34 L144.05 217.16 L144.30 216.98 L144.55 216.80 L144.80 216.62 L145.05 216.44 L145.30 216.25 L145.55 216.07 L145.80 215.88 L146.05 215.70 L146.30 215.51 L146.55 215.32 L146.80 215.13 L147.05 214.94 L147.30 214.75 L147.55 214.56 L147.80 214.36 L148.05 214.17 L148.30 213.97 L148.55 213.78 L148.80 213.58 L149.05 213.38 L149.30 213.18 L149.55 212.98 L149.80 212.78 L150.05 212.58 L150.30 212.37 L150.55 212.17 L150.80 211.96 L151.05 211.76 L151.30 211.55 L151.55 211.34 L151.80 211.13 L152.06 210.92 L152.31 210.71 L152.56 210.50 L152.81 210.29 L153.06 210.07 L153.31 209.86 L153.56 209.64 L153.81 209.43 L154.06 209.21 L154.31 208.99 L154.56 208.77 L154.81 208.55 L155.06 208.33 L155.31 208.11 L155.56 207.89 L155.81 207.66 L156.06 207.44 L156.31 207.21 L156.56 206.99 L156.81 206.76 L157.06 206.53 L157.31 206.30 L157.56 206.07 L157.81 205.84 L158.06 205.61 L158.31 205.38 L158.56 205.14 L158.81 204.91 L159.06 204.67 L159.31 204.44 L159.56 204.20 L159.81 203.96 L160.06 203.72 L160.31 203.48 L160.56 203.24 L160.81 203.00 L161.06 202.76 L161.31 202.52 L161.56 202.27 L161.81 202.03 L162.06 201.78 L162.31 201.54 L162.56 201.29 L162.81 201.04 L163.06 200.79 L163.31 200.55 L163.56 200.29 L163.81 200.04 L164.06 199.79 L164.31 199.54 L164.56 199.28 L164.81 199.03 L165.06 198.78 L165.31 198.52 L165.56 198.26 L165.81 198.00 L166.06 197.75 L166.31 197.49 L166.56 197.23 L166.81 196.97 L167.06 196.70 L167.31 196.44 L167.56 196.18 L167.82 195.91 L168.07 195.65 L168.32 195.38 L168.57 195.12 L168.82 194.85 L169.07 194.58 L169.32 194.31 L169.57 194.04 L169.82 193.77 L170.07 193.50 L170.32 193.23 L170.57 192.95 L170.82 192.68 L171.07 192.41 L171.32 192.13 L171.57 191.86 L171.82 191.58 L172.07 191.30 L172.32 191.02 L172.57 190.74 L172.82 190.46 L173.07 190.18 L173.32 189.90 L173.57 189.62 L173.82 189.34 L174.07 189.05 L174.32 188.77 L174.57 188.48 L174.82 188.20 L175.07 187.91 L175.32 187.62 L175.57 187.34 L175.82 187.05 L176.07 186.76 L176.32 186.47 L176.57 186.18 L176.82 185.88 L177.07 185.59 L177.32 185.30 L177.57 185.00 L177.82 184.71 L178.07 184.41 L178.32 184.12 L178.57 183.82 L178.82 183.52 L179.07 183.22 L179.32 182.92 L179.57 182.62 L179.82 182.32 L180.07 182.02 L180.32 181.72 L180.57 181.41 L180.82 181.11 L181.07 180.81 L181.32 180.50 L181.57 180.19 L181.82 179.89 L182.07 179.58 L182.32 179.27 L182.57 178.96 L182.82 178.65 L183.07 178.34 L183.32 178.03 L183.57 177.72 L183.83 177.41 L184.08 177.09 L184.33 176.78 L184.58 176.47 L184.83 176.15 L185.08 175.83 L185.33 175.52 L185.58 175.20 L185.83 174.88 L186.08 174.56 L186.33 174.24 L186.58 173.92 L186.83 173.60 L187.08 173.28 L187.33 172.96 L187.58 172.63 L187.83 172.31 L188.08 171.98 L188.33 171.66 L188.58 171.33 L188.83 171.01 L189.08 170.68 L189.33 170.35 L189.58 170.02 L189.83 169.69 L190.08 169.36 L190.33 169.03 L190.58 168.70 L190.83 168.37 L191.08 168.03 L191.33 167.70 L191.58 167.36 L191.83 167.03 L192.08 166.69 L192.33 166.36 L192.58 166.02 L192.83 165.68 L193.08 165.34 L193.33 165.00 L193.58 164.66 L193.83 164.32 L194.08 163.98 L194.33 163.64 L194.58 163.30 L194.83 162.95 L195.08 162.61 L195.33 162.26 L195.58 161.92 L195.83 161.57 L196.08 161.22 L196.33 160.88 L196.58 160.53 L196.83 160.18 L197.08 159.83 L197.33 159.48 L197.58 159.13 L197.83 158.77 L198.08 158.42 L198.33 158.07 L198.58 157.72 L198.83 157.36 L199.08 157.01 L199.33 156.65 L199.59 156.29 L199.84 155.94 L200.09 155.58 L200.34 155.22 L200.59 154.86 L200.84 154.50 L201.09 154.14 L201.34 153.78 L201.59 153.41 L201.84 153.05 L202.09 152.69 L202.34 152.32 L202.59 151.96 L202.84 151.59 L203.09 151.23 L203.34 150.86 L203.59 150.49 L203.84 150.13 L204.09 149.76 L204.34 149.39 L204.59 149.02 L204.84 148.65 L205.09 148.28 L205.34 147.90 L205.59 147.53 L205.84 147.16 L206.09 146.78 L206.34 146.41 L206.59 146.03 L206.84 145.66 L207.09 145.28 L207.34 144.90 L207.59 144.52 L207.84 144.14 L208.09 143.76 L208.34 143.38 L208.59 143.00 L208.84 142.62 L209.09 142.24 L209.34 141.86 L209.59 141.47 L209.84 141.09 L210.09 140.70 L210.34 140.32 L210.59 139.93 L210.84 139.55 L211.09 139.16 L211.34 138.77 L211.59 138.38 L211.84 137.99 L212.09 137.60 L212.34 137.21 L212.59 136.82 L212.84 136.43 L213.09 136.04 L213.34 135.64 L213.59 135.25 L213.84 134.85 L214.09 134.46 L214.34 134.06 L214.59 133.66 L214.84 133.27 L215.09 132.87 L215.35 132.47 L215.60 132.07 L215.85 131.67 L216.10 131.27 L216.35 130.87 L216.60 130.47 L216.85 130.06 L217.10 129.66 L217.35 129.26 L217.60 128.85 L217.85 128.45 L218.10 128.04 L218.35 127.64 L218.60 127.23 L218.85 126.82 L219.10 126.41 L219.35 126.00 L219.60 125.59 L219.85 125.18 L220.10 124.77 L220.35 124.36 L220.60 123.95 L220.85 123.53 L221.10 123.12 L221.35 122.71 L221.60 122.29 L221.85 121.88 L222.10 121.46 L222.35 121.04 L222.60 120.62 L222.85 120.21 L223.10 119.79 L223.35 119.37 L223.60 118.95 L223.85 118.53 L224.10 118.11 L224.35 117.68 L224.60 117.26 L224.85 116.84 L225.10 116.41 L225.35 115.99 L225.60 115.56 L225.85 115.14 L226.10 114.71 L226.35 114.28 L226.60 113.85 L226.85 113.43 L227.10 113.00 L227.35 112.57 L227.60 112.14 L227.85 111.71 L228.10 111.27 L228.35 110.84 L228.60 110.41 L228.85 109.97 L229.10 109.54 L229.35 109.10 L229.60 108.67 L229.85 108.23 L230.10 107.80 L230.35 107.36 L230.60 106.92 L230.85 106.48 L231.11 106.04 L231.36 105.60 L231.61 105.16 L231.86 104.72 L232.11 104.28 L232.36 103.83 L232.61 103.39 L232.86 102.95 L233.11 102.50 L233.36 102.06 L233.61 101.61 L233.86 101.16 L234.11 100.72 L234.36 100.27 L234.61 99.82 L234.86 99.37 L235.11 98.92 L235.36 98.47 L235.61 98.02 L235.86 97.57 L236.11 97.12 L236.36 96.66 L236.61 96.21 L236.86 95.76 L237.11 95.30 L237.36 94.85 L237.61 94.39 L237.86 93.93 L238.11 93.48 L238.36 93.02 L238.61 92.56 L238.86 92.10 L239.11 91.64 L239.36 91.18 L239.61 90.72 L239.86 90.26 L240.11 89.79 L240.36 89.33 L240.61 88.87 L240.86 88.40 L241.11 87.94 L241.36 87.47 L241.61 87.01 L241.86 86.54 L242.11 86.07 L242.36 85.60 L242.61 85.13 L242.86 84.67 L243.11 84.20 L243.36 83.72 L243.61 83.25 L243.86 82.78 L244.11 82.31 L244.36 81.84 L244.61 81.36 L244.86 80.89 L245.11 80.41 L245.36 79.94 L245.61 79.46 L245.86 78.98 L246.11 78.50 L246.36 78.03 L246.61 77.55 L246.87 77.07 L247.12 76.59 L247.37 76.11 L247.62 75.63 L247.87 75.14 L248.12 74.66 L248.37 74.18 L248.62 73.69 L248.87 73.21 L249.12 72.72 L249.37 72.24 L249.62 71.75 L249.87 71.26 L250.12 70.78 L250.37 70.29 L250.62 69.80 L250.87 69.31 L251.12 68.82 L251.37 68.33 L251.62 67.84 L251.87 67.35 L252.12 66.85 L252.37 66.36 L252.62 65.87 L252.87 65.37 L253.12 64.88 L253.37 64.38 L253.62 63.88 L253.87 63.39 L254.12 62.89 L254.37 62.39 L254.62 61.89 L254.87 61.39 L255.12 60.89 L255.37 60.39 L255.62 59.89 L255.87 59.39 L256.12 58.88 L256.37 58.38 L256.62 57.88 L256.87 57.37 L257.12 56.87 L257.37 56.36 L257.62 55.85 L257.87 55.35 L258.12 54.84 L258.37 54.33 L258.62 53.82 L258.87 53.31 L259.12 52.80 L259.37 52.29 L259.62 51.78 L259.87 51.27 L260.12 50.75 L260.37 50.24 L260.62 49.73 L260.87 49.21 L261.12 48.70 L261.37 48.18 L261.62 47.66 L261.87 47.15 L262.12 46.63 L262.37 46.11 L262.63 45.59 L262.88 45.07 L263.13 44.55 L263.38 44.03 L263.63 43.51 L263.88 42.99 L264.13 42.46 L264.38 41.94 L264.63 41.42 L264.88 40.89 L265.13 40.37 L265.38 39.84 L265.63 39.31 L265.88 38.79 L266.13 38.26 L266.38 37.73 L266.63 37.20 L266.88 36.67 L267.13 36.14 L267.38 35.61 L267.63 35.08 L267.88 34.55 L268.13 34.01 L268.38 33.48 L268.63 32.95 L268.88 32.41 L269.13 31.88 L269.38 31.34 L269.63 30.81 L269.88 30.27 L270.13 29.73 L270.38 29.19 L270.63 28.65 L270.88 28.11 L271.13 27.57 L271.38 27.03 L271.63 26.49 L271.88 25.95 L272.13 25.41 L272.38 24.86 L272.63 24.32 L272.88 23.77 L273.13 23.23 L273.38 22.68 L273.63 22.14 L273.88 21.59 L274.13 21.04 L274.38 20.49 L274.63 19.95 L274.88 19.40 L275.13 18.85 L275.38 18.29 L275.63 17.74 L275.88 17.19 L276.13 16.64 L276.38 16.09 L276.63 15.53 L276.88 14.98 L277.13 14.42 L277.38 13.87 L277.63 13.31 L277.88 12.75 L278.13 12.20 L278.38 11.64 L278.64 11.08 L278.89 10.52 L279.14 9.96 L279.39 9.40 L279.64 8.84 L279.89 8.28 L280.14 7.71 L280.39 7.15 L280.64 6.59 L280.89 6.02 L281.14 5.46 L281.39 4.89 L281.64 4.32 L281.89 3.76 L282.14 3.19 L282.39 2.62 L282.64 2.05 L282.89 1.48 L283.14 0.91 L283.39 0.34 L283.64 -0.23 L283.89 -0.80 L284.14 -1.37 L284.39 -1.94 L284.64 -2.52 L284.89 -3.09 L285.14 -3.67 L285.39 -4.24 L285.64 -4.82 L285.89 -5.40 L286.14 -5.97 L286.39 -6.55 L286.64 -7.13 L286.89 -7.71 L287.14 -8.29 L287.39 -8.87 L287.64 -9.45 L287.89 -10.03 L288.14 -10.61 L288.39 -11.20 L288.64 -11.78 L288.89 -12.36 L289.14 -12.95 L289.39 -13.53 L289.64 -14.12 L289.89 -14.71 L290.14 -15.29 L290.39 -15.88 L290.58 -16.32" stroke="#000000" stroke-width="2.2"/>
<path d="M75.57 -15.77 L75.82 -10.70 L76.07 -5.76 L76.32 -0.93 L76.57 3.77 L76.82 8.36 L77.07 12.84 L77.32 17.22 L77.57 21.49 L77.82 25.66 L78.07 29.73 L78.32 33.70 L78.57 37.59 L78.82 41.38 L79.07 45.09 L79.32 48.72 L79.57 52.26 L79.82 55.72 L80.07 59.11 L80.32 62.42 L80.57 65.66 L80.82 68.83 L81.07 71.93 L81.32 74.97 L81.57 77.93 L81.82 80.84 L82.07 83.68 L82.32 86.47 L82.57 89.19 L82.82 91.86 L83.07 94.47 L83.32 97.03 L83.57 99.54 L83.82 101.99 L84.07 104.40 L84.32 106.76 L84.57 109.07 L84.82 111.33 L85.08 113.55 L85.33 115.73 L85.58 117.86 L85.83 119.95 L86.08 122.00 L86.33 124.01 L86.58 125.98 L86.83 127.91 L87.08 129.81 L87.33 131.66 L87.58 133.49 L87.83 135.28 L88.08 137.03 L88.33 138.76 L88.58 140.45 L88.83 142.11 L89.08 143.74 L89.33 145.33 L89.58 146.90 L89.83 148.44 L90.08 149.95 L90.33 151.44 L90.58 152.90 L90.83 154.33 L91.08 155.73 L91.33 157.11 L91.58 158.47 L91.83 159.80 L92.08 161.11 L92.33 162.39 L92.58 163.65 L92.83 164.89 L93.08 166.11 L93.33 167.30 L93.58 168.48 L93.83 169.63 L94.08 170.77 L94.33 171.88 L94.58 172.98 L94.83 174.05 L95.08 175.11 L95.33 176.15 L95.58 177.17 L95.83 178.17 L96.08 179.16 L96.33 180.13 L96.58 181.08 L96.83 182.02 L97.08 182.94 L97.33 183.85 L97.58 184.74 L97.83 185.61 L98.08 186.47 L98.33 187.32 L98.58 188.15 L98.83 188.96 L99.08 189.77 L99.33 190.56 L99.58 191.33 L99.83 192.10 L100.08 192.85 L100.33 193.59 L100.58 194.31 L100.84 195.03 L101.09 195.73 L101.34 196.42 L101.59 197.09 L101.84 197.76 L102.09 198.42 L102.34 199.06 L102.59 199.69 L102.84 200.32 L103.09 200.93 L103.34 201.53 L103.59 202.12 L103.84 202.71 L104.09 203.28 L104.34 203.84 L104.59 204.39 L104.84 204.94 L105.09 205.47 L105.34 206.00 L105.59 206.51 L105.84 207.02 L106.09 207.52 L106.34 208.01 L106.59 208.49 L106.84 208.97 L107.09 209.43 L107.34 209.89 L107.59 210.34 L107.84 210.78 L108.09 211.21 L108.34 211.64 L108.59 212.06 L108.84 212.47 L109.09 212.88 L109.34 213.27 L109.59 213.66 L109.84 214.05 L110.09 214.42 L110.34 214.79 L110.59 215.16 L110.84 215.51 L111.09 215.86 L111.34 216.21 L111.59 216.55 L111.84 216.88 L112.09 217.20 L112.34 217.52 L112.59 217.83 L112.84 218.14 L113.09 218.44 L113.34 218.74 L113.59 219.03 L113.84 219.31 L114.09 219.59 L114.34 219.87 L114.59 220.13 L114.84 220.40 L115.09 220.66 L115.34 220.91 L115.59 221.16 L115.84 221.40 L116.09 221.63 L116.34 221.87 L116.60 222.10 L116.85 222.32 L117.10 222.54 L117.35 222.75 L117.60 222.96 L117.85 223.16 L118.10 223.36 L118.35 223.56 L118.60 223.75 L118.85 223.94 L119.10 224.12 L119.35 224.30 L119.60 224.47 L119.85 224.64 L120.10 224.81 L120.35 224.97 L120.60 225.12 L120.85 225.28 L121.10 225.43 L121.35 225.57 L121.60 225.71 L121.85 225.85 L122.10 225.99 L122.35 226.12 L122.60 226.24 L122.85 226.37 L123.10 226.49 L123.35 226.60 L123.60 226.72 L123.85 226.83 L124.10 226.93 L124.35 227.03 L124.60 227.13 L124.85 227.23 L125.10 227.32 L125.35 227.41 L125.60 227.50 L125.85 227.58 L126.10 227.66 L126.35 227.73 L126.60 227.81 L126.85 227.88 L127.10 227.94 L127.35 228.01 L127.60 228.07 L127.85 228.13 L128.10 228.18 L128.35 228.23 L128.60 228.28 L128.85 228.33 L129.10 228.37 L129.35 228.42 L129.60 228.45 L129.85 228.49 L130.10 228.52 L130.35 228.55 L130.60 228.58 L130.85 228.60 L131.10 228.63 L131.35 228.64 L131.60 228.66 L131.85 228.68 L132.10 228.69 L132.36 228.70 L132.61 228.70 L132.86 228.71 L133.11 228.71 L133.36 228.71 L133.61 228.71 L133.86 228.70 L134.11 228.69 L134.36 228.68 L134.61 228.67 L134.86 228.66 L135.11 228.64 L135.36 228.62 L135.61 228.60 L135.86 228.57 L136.11 228.55 L136.36 228.52 L136.61 228.49 L136.86 228.46 L137.11 228.42 L137.36 228.39 L137.61 228.35 L137.86 228.31 L138.11 228.26 L138.36 228.22 L138.61 228.17 L138.86 228.12 L139.11 228.07 L139.36 228.02 L139.61 227.96 L139.86 227.91 L140.11 227.85 L140.36 227.79 L140.61 227.72 L140.86 227.66 L141.11 227.59 L141.36 227.52 L141.61 227.45 L141.86 227.38 L142.11 227.31 L142.36 227.23 L142.61 227.15 L142.86 227.07 L143.11 226.99 L143.36 226.91 L143.61 226.82 L143.86 226.74 L144.11 226.65 L144.36 226.56 L144.61 226.46 L144.86 226.37 L145.11 226.28 L145.36 226.18 L145.61 226.08 L145.86 225.98 L146.11 225.88 L146.36 225.77 L146.61 225.67 L146.86 225.56 L147.11 225.45 L147.36 225.34 L147.61 225.23 L147.86 225.12 L148.12 225.00 L148.37 224.88 L148.62 224.77 L148.87 224.65 L149.12 224.52 L149.37 224.40 L149.62 224.28 L149.87 224.15 L150.12 224.02 L150.37 223.90 L150.62 223.76 L150.87 223.63 L151.12 223.50 L151.37 223.36 L151.62 223.23 L151.87 223.09 L152.12 222.95 L152.37 222.81 L152.62 222.67 L152.87 222.53 L153.12 222.38 L153.37 222.23 L153.62 222.09 L153.87 221.94 L154.12 221.79 L154.37 221.64 L154.62 221.48 L154.87 221.33 L155.12 221.17 L155.37 221.02 L155.62 220.86 L155.87 220.70 L156.12 220.54 L156.37 220.37 L156.62 220.21 L156.87 220.04 L157.12 219.88 L157.37 219.71 L157.62 219.54 L157.87 219.37 L158.12 219.20 L158.37 219.03 L158.62 218.85 L158.87 218.68 L159.12 218.50 L159.37 218.32 L159.62 218.14 L159.87 217.96 L160.12 217.78 L160.37 217.60 L160.62 217.41 L160.87 217.23 L161.12 217.04 L161.37 216.85 L161.62 216.66 L161.87 216.47 L162.12 216.28 L162.37 216.09 L162.62 215.90 L162.87 215.70 L163.12 215.51 L163.37 215.31 L163.62 215.11 L163.88 214.91 L164.13 214.71 L164.38 214.51 L164.63 214.31 L164.88 214.10 L165.13 213.90 L165.38 213.69 L165.63 213.48 L165.88 213.27 L166.13 213.07 L166.38 212.85 L166.63 212.64 L166.88 212.43 L167.13 212.22 L167.38 212.00 L167.63 211.78 L167.88 211.57 L168.13 211.35 L168.38 211.13 L168.63 210.91 L168.88 210.69 L169.13 210.46 L169.38 210.24 L169.63 210.01 L169.88 209.79 L170.13 209.56 L170.38 209.33 L170.63 209.10 L170.88 208.87 L171.13 208.64 L171.38 208.41 L171.63 208.18 L171.88 207.94 L172.13 207.71 L172.38 207.47 L172.63 207.24 L172.88 207.00 L173.13 206.76 L173.38 206.52 L173.63 206.28 L173.88 206.03 L174.13 205.79 L174.38 205.55 L174.63 205.30 L174.88 205.05 L175.13 204.81 L175.38 204.56 L175.63 204.31 L175.88 204.06 L176.13 203.81 L176.38 203.56 L176.63 203.30 L176.88 203.05 L177.13 202.79 L177.38 202.54 L177.63 202.28 L177.88 202.02 L178.13 201.76 L178.38 201.50 L178.63 201.24 L178.88 200.98 L179.13 200.72 L179.38 200.45 L179.63 200.19 L179.89 199.92 L180.14 199.66 L180.39 199.39 L180.64 199.12 L180.89 198.85 L181.14 198.58 L181.39 198.31 L181.64 198.04 L181.89 197.77 L182.14 197.49 L182.39 197.22 L182.64 196.94 L182.89 196.66 L183.14 196.39 L183.39 196.11 L183.64 195.83 L183.89 195.55 L184.14 195.27 L184.39 194.99 L184.64 194.70 L184.89 194.42 L185.14 194.13 L185.39 193.85 L185.64 193.56 L185.89 193.28 L186.14 192.99 L186.39 192.70 L186.64 192.41 L186.89 192.12 L187.14 191.83 L187.39 191.53 L187.64 191.24 L187.89 190.95 L188.14 190.65 L188.39 190.35 L188.64 190.06 L188.89 189.76 L189.14 189.46 L189.39 189.16 L189.64 188.86 L189.89 188.56 L190.14 188.26 L190.39 187.95 L190.64 187.65 L190.89 187.35 L191.14 187.04 L191.39 186.73 L191.64 186.43 L191.89 186.12 L192.14 185.81 L192.39 185.50 L192.64 185.19 L192.89 184.88 L193.14 184.57 L193.39 184.25 L193.64 183.94 L193.89 183.63 L194.14 183.31 L194.39 182.99 L194.64 182.68 L194.89 182.36 L195.14 182.04 L195.39 181.72 L195.65 181.40 L195.90 181.08 L196.15 180.76 L196.40 180.43 L196.65 180.11 L196.90 179.79 L197.15 179.46 L197.40 179.13 L197.65 178.81 L197.90 178.48 L198.15 178.15 L198.40 177.82 L198.65 177.49 L198.90 177.16 L199.15 176.83 L199.40 176.50 L199.65 176.16 L199.90 175.83 L200.15 175.49 L200.40 175.16 L200.65 174.82 L200.90 174.49 L201.15 174.15 L201.40 173.81 L201.65 173.47 L201.90 173.13 L202.15 172.79 L202.40 172.45 L202.65 172.10 L202.90 171.76 L203.15 171.42 L203.40 171.07 L203.65 170.72 L203.90 170.38 L204.15 170.03 L204.40 169.68 L204.65 169.33 L204.90 168.98 L205.15 168.63 L205.40 168.28 L205.65 167.93 L205.90 167.58 L206.15 167.22 L206.40 166.87 L206.65 166.51 L206.90 166.16 L207.15 165.80 L207.40 165.44 L207.65 165.09 L207.90 164.73 L208.15 164.37 L208.40 164.01 L208.65 163.65 L208.90 163.28 L209.15 162.92 L209.40 162.56 L209.65 162.19 L209.90 161.83 L210.15 161.46 L210.40 161.10 L210.65 160.73 L210.90 160.36 L211.15 159.99 L211.41 159.62 L211.66 159.25 L211.91 158.88 L212.16 158.51 L212.41 158.14 L212.66 157.76 L212.91 157.39 L213.16 157.02 L213.41 156.64 L213.66 156.26 L213.91 155.89 L214.16 155.51 L214.41 155.13 L214.66 154.75 L214.91 154.37 L215.16 153.99 L215.41 153.61 L215.66 153.23 L215.91 152.85 L216.16 152.46 L216.41 152.08 L216.66 151.69 L216.91 151.31 L217.16 150.92 L217.41 150.53 L217.66 150.15 L217.91 149.76 L218.16 149.37 L218.41 148.98 L218.66 148.59 L218.91 148.20 L219.16 147.80 L219.41 147.41 L219.66 147.02 L219.91 146.62 L220.16 146.23 L220.41 145.83 L220.66 145.44 L220.91 145.04 L221.16 144.64 L221.41 144.24 L221.66 143.84 L221.91 143.44 L222.16 143.04 L222.41 142.64 L222.66 142.24 L222.91 141.83 L223.16 141.43 L223.41 141.03 L223.66 140.62 L223.91 140.22 L224.16 139.81 L224.41 139.40 L224.66 138.99 L224.91 138.59 L225.16 138.18 L225.41 137.77 L225.66 137.35 L225.91 136.94 L226.16 136.53 L226.41 136.12 L226.66 135.70 L226.91 135.29 L227.17 134.88 L227.42 134.46 L227.67 134.04 L227.92 133.63 L228.17 133.21 L228.42 132.79 L228.67 132.37 L228.92 131.95 L229.17 131.53 L229.42 131.11 L229.67 130.69 L229.92 130.26 L230.17 129.84 L230.42 129.42 L230.67 128.99 L230.92 128.57 L231.17 128.14 L231.42 127.71 L231.67 127.29 L231.92 126.86 L232.17 126.43 L232.42 126.00 L232.67 125.57 L232.92 125.14 L233.17 124.71 L233.42 124.27 L233.67 123.84 L233.92 123.41 L234.17 122.97 L234.42 122.54 L234.67 122.10 L234.92 121.66 L235.17 121.23 L235.42 120.79 L235.67 120.35 L235.92 119.91 L236.17 119.47 L236.42 119.03 L236.67 118.59 L236.92 118.15 L237.17 117.70 L237.42 117.26 L237.67 116.82 L237.92 116.37 L238.17 115.93 L238.42 115.48 L238.67 115.03 L238.92 114.59 L239.17 114.14 L239.42 113.69 L239.67 113.24 L239.92 112.79 L240.17 112.34 L240.42 111.89 L240.67 111.43 L240.92 110.98 L241.17 110.53 L241.42 110.07 L241.67 109.62 L241.92 109.16 L242.17 108.71 L242.42 108.25 L242.67 107.79 L242.93 107.33 L243.18 106.87 L243.43 106.41 L243.68 105.95 L243.93 105.49 L244.18 105.03 L244.43 104.57 L244.68 104.10 L244.93 103.64 L245.18 103.18 L245.43 102.71 L245.68 102.25 L245.93 101.78 L246.18 101.31 L246.43 100.84 L246.68 100.38 L246.93 99.91 L247.18 99.44 L247.43 98.97 L247.68 98.50 L247.93 98.02 L248.18 97.55 L248.43 97.08 L248.68 96.60 L248.93 96.13 L249.18 95.65 L249.43 95.18 L249.68 94.70 L249.93 94.22 L250.18 93.75 L250.43 93.27 L250.68 92.79 L250.93 92.31 L251.18 91.83 L251.43 91.35 L251.68 90.87 L251.93 90.38 L252.18 89.90 L252.43 89.42 L252.68 88.93 L252.93 88.45 L253.18 87.96 L253.43 87.47 L253.68 86.99 L253.93 86.50 L254.18 86.01 L254.43 85.52 L254.68 85.03 L254.93 84.54 L255.18 84.05 L255.43 83.56 L255.68 83.07 L255.93 82.57 L256.18 82.08 L256.43 81.59 L256.68 81.09 L256.93 80.59 L257.18 80.10 L257.43 79.60 L257.68 79.10 L257.93 78.61 L258.18 78.11 L258.43 77.61 L258.69 77.11 L258.94 76.61 L259.19 76.10 L259.44 75.60 L259.69 75.10 L259.94 74.60 L260.19 74.09 L260.44 73.59 L260.69 73.08 L260.94 72.57 L261.19 72.07 L261.44 71.56 L261.69 71.05 L261.94 70.54 L262.19 70.03 L262.44 69.52 L262.69 69.01 L262.94 68.50 L263.19 67.99 L263.44 67.48 L263.69 66.96 L263.94 66.45 L264.19 65.93 L264.44 65.42 L264.69 64.90 L264.94 64.39 L265.19 63.87 L265.44 63.35 L265.69 62.83 L265.94 62.31 L266.19 61.79 L266.44 61.27 L266.69 60.75 L266.94 60.23 L267.19 59.71 L267.44 59.18 L267.69 58.66 L267.94 58.14 L268.19 57.61 L268.44 57.08 L268.69 56.56 L268.94 56.03 L269.19 55.50 L269.44 54.98 L269.69 54.45 L269.94 53.92 L270.19 53.39 L270.44 52.86 L270.69 52.32 L270.94 51.79 L271.19 51.26 L271.44 50.73 L271.69 50.19 L271.94 49.66 L272.19 49.12 L272.44 48.58 L272.69 48.05 L272.94 47.51 L273.19 46.97 L273.44 46.43 L273.69 45.89 L273.94 45.35 L274.19 44.81 L274.44 44.27 L274.70 43.73 L274.95 43.19 L275.20 42.65 L275.45 42.10 L275.70 41.56 L275.95 41.01 L276.20 40.47 L276.45 39.92 L276.70 39.37 L276.95 38.83 L277.20 38.28 L277.45 37.73 L277.70 37.18 L277.95 36.63 L278.20 36.08 L278.45 35.53 L278.70 34.97 L278.95 34.42 L279.20 33.87 L279.45 33.31 L279.70 32.76 L279.95 32.20 L280.20 31.65 L280.45 31.09 L280.70 30.53 L280.95 29.98 L281.20 29.42 L281.45 28.86 L281.70 28.30 L281.95 27.74 L282.20 27.18 L282.45 26.61 L282.70 26.05 L282.95 25.49 L283.20 24.93 L283.45 24.36 L283.70 23.80 L283.95 23.23 L284.20 22.66 L284.45 22.10 L284.70 21.53 L284.95 20.96 L285.20 20.39 L285.45 19.82 L285.70 19.25 L285.95 18.68 L286.20 18.11 L286.45 17.54 L286.70 16.97 L286.95 16.39 L287.20 15.82 L287.45 15.25 L287.70 14.67 L287.95 14.09 L288.20 13.52 L288.45 12.94 L288.70 12.36 L288.95 11.79 L289.20 11.21 L289.45 10.63 L289.70 10.05 L289.95 9.47 L290.20 8.88 L290.46 8.30 L290.71 7.72 L290.96 7.14 L291.21 6.55 L291.46 5.97 L291.71 5.38 L291.96 4.80 L292.21 4.21 L292.46 3.62 L292.71 3.03 L292.96 2.45 L293.21 1.86 L293.46 1.27 L293.71 0.68 L293.96 0.09 L294.21 -0.51 L294.46 -1.10 L294.71 -1.69 L294.96 -2.28 L295.21 -2.88 L295.46 -3.47 L295.71 -4.07 L295.96 -4.66 L296.21 -5.26 L296.46 -5.86 L296.71 -6.46 L296.96 -7.06 L297.21 -7.65 L297.46 -8.25 L297.71 -8.85 L297.96 -9.46 L298.21 -10.06 L298.46 -10.66 L298.71 -11.26 L298.96 -11.87 L299.21 -12.47 L299.46 -13.08 L299.71 -13.68 L299.96 -14.29 L300.21 -14.89 L300.46 -15.50 L300.71 -16.11 L300.77 -16.26" stroke="#000000" stroke-width="3.3"/>
</g>
<rect x="45.35" y="24.40" width="375.25" height="231.20" fill="none" stroke="#5c5c5c" stroke-width="0.75"/>
<path d="M45.35 255.60v-4.20M45.35 24.40v4.20M64.11 255.60v-2.60M64.11 24.40v2.60M82.88 255.60v-2.60M82.88 24.40v2.60M101.64 255.60v-2.60M101.64 24.40v2.60M120.40 255.60v-4.20M120.40 24.40v4.20M139.16 255.60v-2.60M139.16 24.40v2.60M157.92 255.60v-2.60M157.92 24.40v2.60M176.69 255.60v-2.60M176.69 24.40v2.60M195.45 255.60v-4.20M195.45 24.40v4.20M214.21 255.60v-2.60M214.21 24.40v2.60M232.97 255.60v-2.60M232.97 24.40v2.60M251.74 255.60v-2.60M251.74 24.40v2.60M270.50 255.60v-4.20M270.50 24.40v4.20M289.26 255.60v-2.60M289.26 24.40v2.60M308.03 255.60v-2.60M308.03 24.40v2.60M326.79 255.60v-2.60M326.79 24.40v2.60M345.55 255.60v-4.20M345.55 24.40v4.20M364.31 255.60v-2.60M364.31 24.40v2.60M383.07 255.60v-2.60M383.07 24.40v2.60M401.84 255.60v-2.60M401.84 24.40v2.60M420.60 255.60v-4.20M420.60 24.40v4.20M45.35 255.60h2.60M420.60 255.60h-2.60M45.35 242.00h2.60M420.60 242.00h-2.60M45.35 228.40h4.20M420.60 228.40h-4.20M45.35 214.80h2.60M420.60 214.80h-2.60M45.35 201.20h2.60M420.60 201.20h-2.60M45.35 187.60h2.60M420.60 187.60h-2.60M45.35 174.00h2.60M420.60 174.00h-2.60M45.35 160.40h4.20M420.60 160.40h-4.20M45.35 146.80h2.60M420.60 146.80h-2.60M45.35 133.20h2.60M420.60 133.20h-2.60M45.35 119.60h2.60M420.60 119.60h-2.60M45.35 106.00h2.60M420.60 106.00h-2.60M45.35 92.40h4.20M420.60 92.40h-4.20M45.35 78.80h2.60M420.60 78.80h-2.60M45.35 65.20h2.60M420.60 65.20h-2.60M45.35 51.60h2.60M420.60 51.60h-2.60M45.35 38.00h2.60M420.60 38.00h-2.60M45.35 24.40h4.20M420.60 24.40h-4.20" stroke="#5c5c5c" stroke-width="0.75" fill="none"/>
<g opacity="0.999">
<text transform="translate(42.20,233.00) scale(0.905,1) skewX(-3)" stroke="#000" stroke-width="0.2" font-size="19.1" text-anchor="end">0</text>
<text transform="translate(42.20,165.00) scale(0.905,1) skewX(-3)" stroke="#000" stroke-width="0.2" font-size="19.1" text-anchor="end">5</text>
<text transform="translate(42.20,97.00) scale(0.905,1) skewX(-3)" stroke="#000" stroke-width="0.2" font-size="19.1" text-anchor="end">10</text>
<text transform="translate(42.20,29.00) scale(0.905,1) skewX(-3)" stroke="#000" stroke-width="0.2" font-size="19.1" text-anchor="end">15</text>
<text transform="translate(45.10,272.60) scale(0.905,1) skewX(-3)" stroke="#000" stroke-width="0.2" font-size="19.1" text-anchor="middle">0</text>
<text transform="translate(120.15,272.60) scale(0.905,1) skewX(-3)" stroke="#000" stroke-width="0.2" font-size="19.1" text-anchor="middle">2</text>
<text transform="translate(195.20,272.60) scale(0.905,1) skewX(-3)" stroke="#000" stroke-width="0.2" font-size="19.1" text-anchor="middle">4</text>
<text transform="translate(270.25,272.60) scale(0.905,1) skewX(-3)" stroke="#000" stroke-width="0.2" font-size="19.1" text-anchor="middle">6</text>
<text transform="translate(345.30,272.60) scale(0.905,1) skewX(-3)" stroke="#000" stroke-width="0.2" font-size="19.1" text-anchor="middle">8</text>
<text transform="translate(420.35,272.60) scale(0.905,1) skewX(-3)" stroke="#000" stroke-width="0.2" font-size="19.1" text-anchor="middle">10</text>
<text transform="translate(233.20,297.00) scale(0.905,1) skewX(-3)" stroke="#000" stroke-width="0.2" font-size="19.1" text-anchor="middle">x</text>
<text transform="translate(13.9,139.4) rotate(-90)" font-size="18.5" style="font-style:normal">(</text>
<text transform="translate(13.9,135.3) rotate(-90) scale(0.95,1)" font-size="19">x</text>
<text transform="translate(13.9,126.2) rotate(-90)" font-size="18.5" style="font-style:normal">)</text>
<g fill="none" stroke="#000" stroke-linecap="round">
<path d="M6.4 156.9C4.3 156.2 2.8 153 2.7 149" stroke-width="1.1"/><path d="M6.3 156.8L6.0 156.6" stroke-width="1.6"/>
<path d="M2.51 149.14Q5 150.1 7.81 150.75L13.64 151.69L13.96 150.12L8.19 148.79Q5.3 148.5 2.69 148.26Z" fill="#000" stroke="none"/>
<path d="M13.8 150.8L2.3 141.3" stroke-width="0.8"/>
</g>
</g>
</svg></body></html>
